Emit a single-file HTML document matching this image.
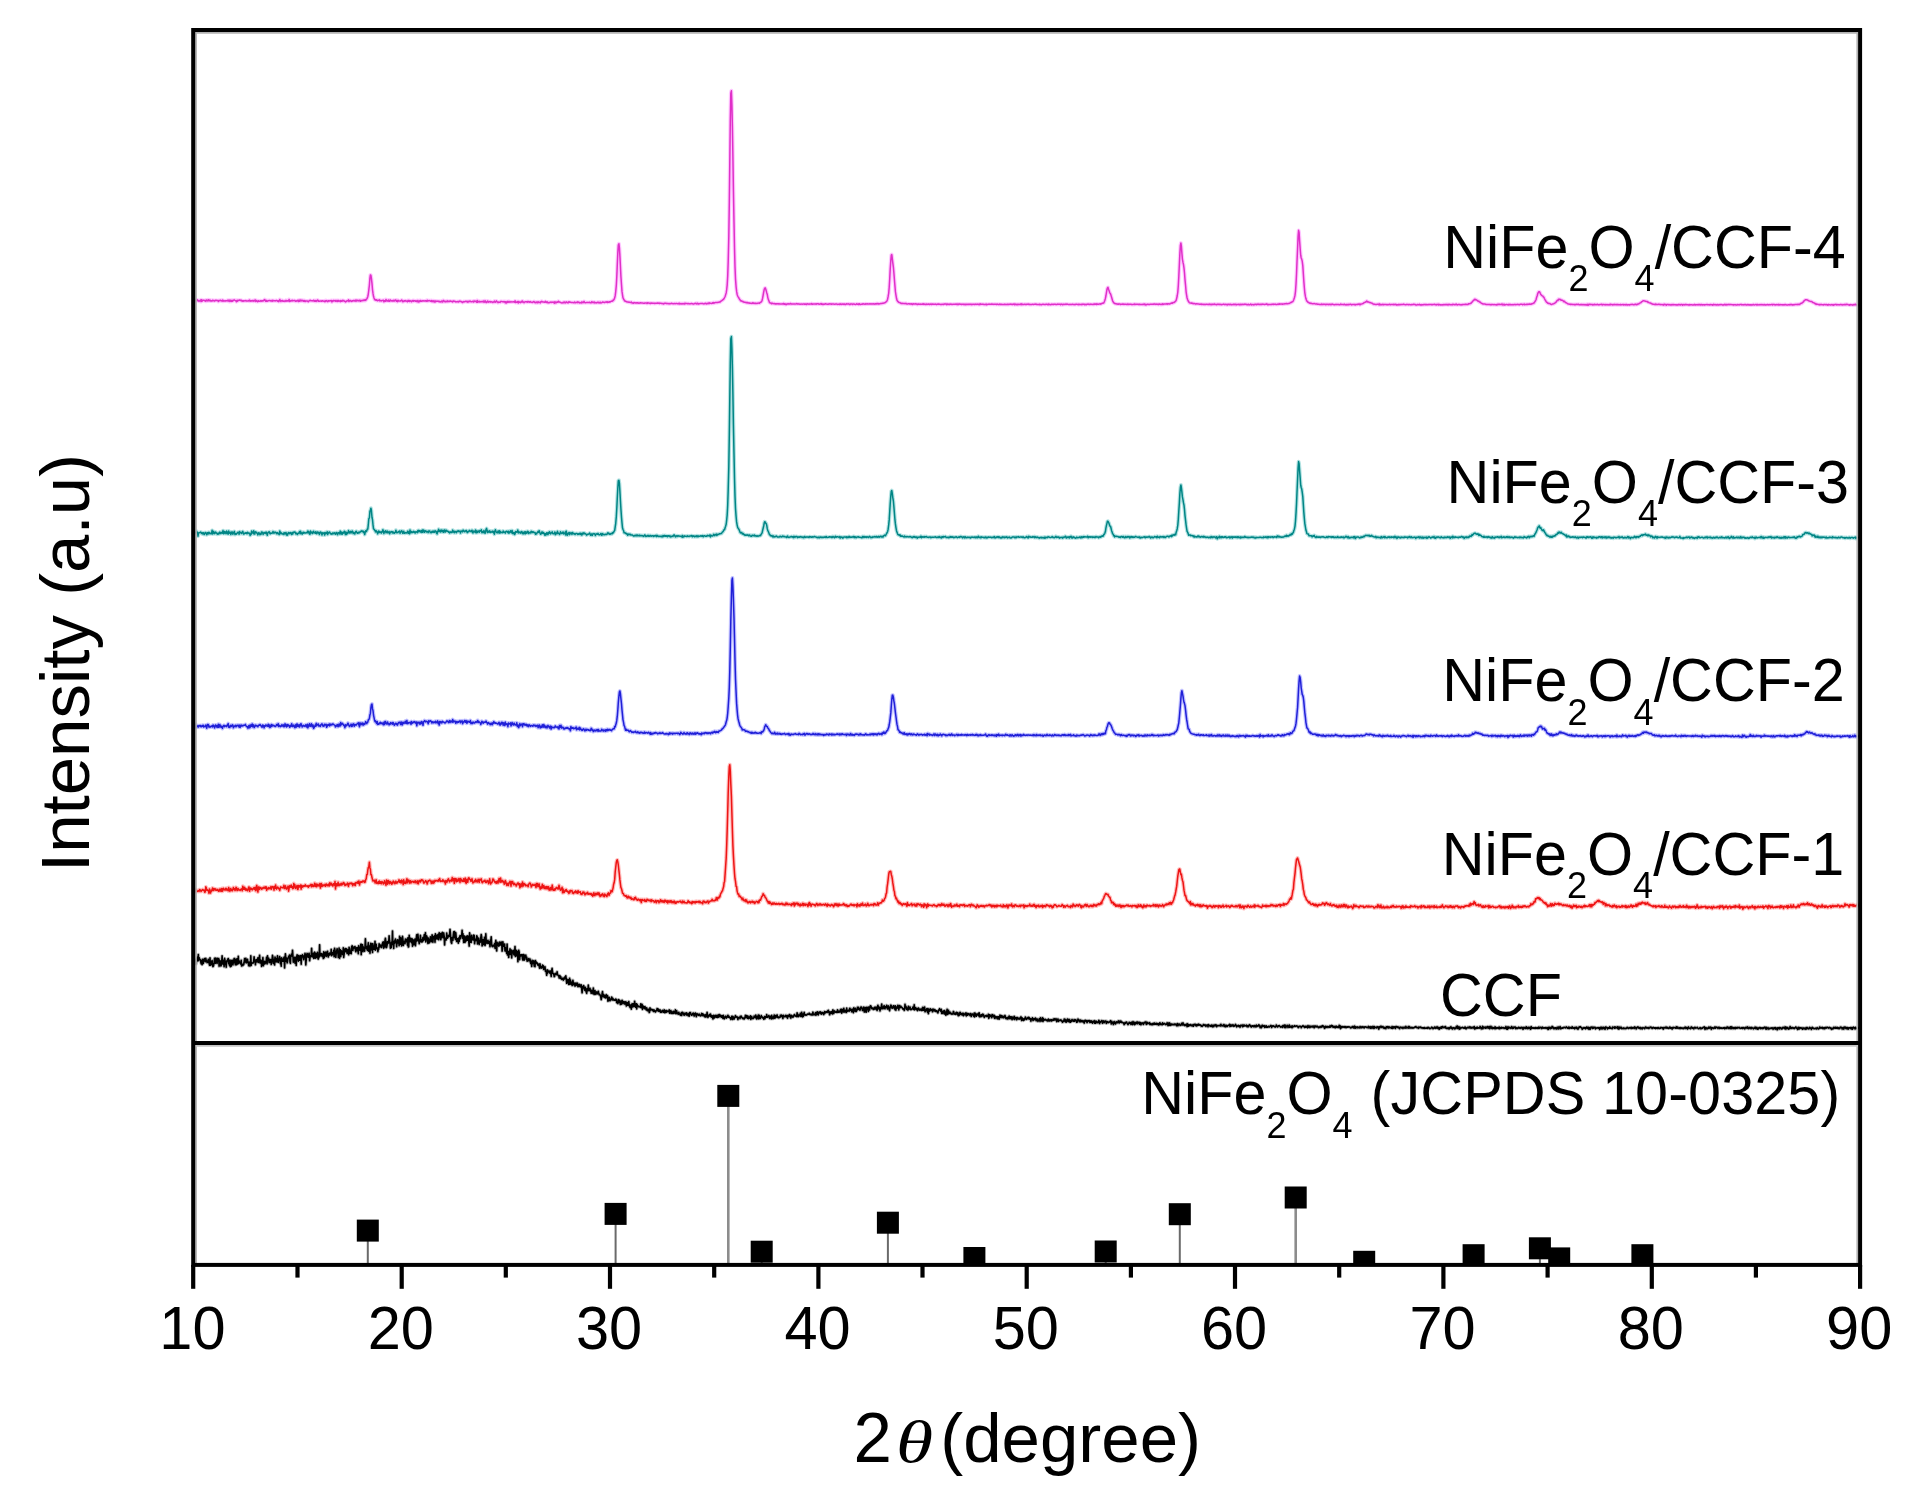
<!DOCTYPE html>
<html lang="en"><head><meta charset="utf-8"><title>XRD patterns</title>
<style>html,body{margin:0;padding:0;background:#fff}svg{display:block;filter:blur(0.6px)}</style></head>
<body>
<svg width="1922" height="1508" viewBox="0 0 1922 1508">
<rect x="0" y="0" width="1922" height="1508" fill="#fff"/>
<defs>
<polyline id="c0" points="193.3,961.0 193.7,960.3 194.1,962.4 194.6,961.0 195.0,959.3 195.4,961.7 195.8,964.2 196.2,963.3 196.6,958.9 197.1,957.3 197.5,959.1 197.9,960.9 198.3,954.5 198.7,960.2 199.1,957.5 199.6,958.9 200.0,959.4 200.4,960.0 200.8,962.0 201.2,963.7 201.6,960.6 202.1,964.6 202.5,959.2 202.9,961.9 203.3,963.4 203.7,961.3 204.1,959.0 204.6,958.6 205.0,959.8 205.4,961.7 205.8,958.4 206.2,960.5 206.6,960.7 207.1,962.6 207.5,961.7 207.9,962.1 208.3,959.4 208.7,960.9 209.1,963.3 209.6,965.2 210.0,957.9 210.4,965.3 210.8,964.9 211.2,963.4 211.6,962.0 212.1,960.5 212.5,965.3 212.9,966.6 213.3,966.2 213.7,964.9 214.1,962.4 214.6,958.2 215.0,961.5 215.4,963.3 215.8,958.1 216.2,962.6 216.6,962.7 217.1,963.4 217.5,958.4 217.9,959.8 218.3,960.5 218.7,958.5 219.1,966.3 219.6,960.4 220.0,962.6 220.4,961.0 220.8,966.0 221.2,965.3 221.6,963.5 222.1,955.9 222.5,961.9 222.9,963.6 223.3,964.5 223.7,960.2 224.1,966.7 224.6,958.4 225.0,960.1 225.4,964.4 225.8,962.1 226.2,967.3 226.6,962.5 227.1,960.3 227.5,961.0 227.9,959.1 228.3,958.6 228.7,963.7 229.1,963.6 229.6,965.5 230.0,960.1 230.4,966.6 230.8,961.3 231.2,966.3 231.6,961.0 232.1,960.2 232.5,962.8 232.9,964.9 233.3,962.6 233.7,960.6 234.1,958.6 234.6,958.5 235.0,963.5 235.4,964.8 235.8,961.8 236.2,959.4 236.6,964.6 237.1,958.8 237.5,960.3 237.9,963.9 238.3,956.3 238.7,963.3 239.1,960.7 239.6,962.6 240.0,962.1 240.4,962.8 240.8,964.1 241.2,960.2 241.6,966.0 242.1,964.2 242.5,964.5 242.9,965.4 243.3,964.4 243.7,964.5 244.1,962.5 244.6,958.5 245.0,961.9 245.4,960.2 245.8,958.4 246.2,962.9 246.6,960.7 247.1,959.5 247.5,959.4 247.9,962.9 248.3,963.1 248.7,965.7 249.1,962.1 249.6,964.9 250.0,965.9 250.4,965.2 250.8,955.8 251.2,965.4 251.6,963.0 252.1,963.2 252.5,963.0 252.9,963.0 253.3,962.9 253.7,961.0 254.1,956.9 254.6,961.7 255.0,959.8 255.4,964.8 255.8,961.1 256.2,962.1 256.6,959.6 257.1,960.5 257.5,961.8 257.9,957.8 258.3,962.5 258.7,961.4 259.1,958.5 259.6,955.3 260.0,963.0 260.4,960.8 260.8,960.2 261.2,960.9 261.6,966.4 262.1,961.4 262.5,961.7 262.9,957.5 263.3,965.8 263.7,963.8 264.1,964.2 264.6,961.4 265.0,963.7 265.4,962.3 265.8,962.9 266.2,960.8 266.6,957.2 267.1,963.9 267.5,955.9 267.9,960.4 268.3,960.5 268.7,958.2 269.1,962.6 269.6,960.4 270.0,959.7 270.4,962.2 270.8,959.5 271.2,964.5 271.6,961.7 272.1,959.4 272.5,955.4 272.9,957.1 273.3,963.5 273.7,960.4 274.1,959.7 274.6,964.9 275.0,957.0 275.4,958.8 275.8,959.1 276.2,961.9 276.6,958.5 277.1,958.6 277.5,955.9 277.9,962.1 278.3,962.3 278.7,958.8 279.1,960.5 279.6,956.5 280.0,958.7 280.4,963.7 280.8,960.3 281.2,966.1 281.6,957.7 282.1,961.3 282.5,959.2 282.9,961.2 283.3,959.6 283.7,958.1 284.1,957.2 284.6,967.9 285.0,959.3 285.4,953.9 285.8,957.6 286.2,961.2 286.6,958.0 287.1,963.0 287.5,962.0 287.9,958.8 288.3,957.9 288.7,956.4 289.1,957.2 289.6,955.0 290.0,962.3 290.4,963.3 290.8,955.5 291.2,955.6 291.6,954.0 292.1,956.1 292.5,950.2 292.9,955.5 293.3,962.2 293.7,957.7 294.1,960.9 294.6,957.2 295.0,963.3 295.4,959.0 295.8,957.3 296.2,965.4 296.6,957.4 297.1,954.9 297.5,958.8 297.9,958.1 298.3,961.1 298.7,955.5 299.1,960.3 299.6,960.3 300.0,956.1 300.4,958.4 300.8,955.6 301.2,964.3 301.6,955.8 302.1,956.5 302.5,954.7 302.9,956.7 303.3,957.6 303.7,959.7 304.1,955.8 304.6,956.9 305.0,953.4 305.4,955.0 305.8,965.0 306.2,960.1 306.6,955.0 307.1,953.4 307.5,954.4 307.9,957.0 308.3,957.1 308.7,954.9 309.1,953.3 309.6,960.8 310.0,958.1 310.4,955.7 310.8,956.1 311.2,955.2 311.6,948.4 312.1,956.9 312.5,953.5 312.9,953.6 313.3,954.6 313.7,958.4 314.1,953.0 314.6,952.2 315.0,958.0 315.4,958.2 315.8,953.4 316.2,957.6 316.6,955.1 317.1,956.7 317.5,952.3 317.9,958.1 318.3,959.1 318.7,957.5 319.1,957.2 319.6,944.9 320.0,956.2 320.4,955.4 320.8,955.0 321.2,953.5 321.6,955.4 322.1,956.4 322.5,954.4 322.9,953.8 323.3,958.5 323.7,951.8 324.1,957.8 324.6,955.3 325.0,952.5 325.4,953.9 325.8,952.0 326.2,956.5 326.6,955.5 327.1,952.9 327.5,951.2 327.9,955.2 328.3,957.0 328.7,953.9 329.1,955.3 329.6,953.0 330.0,954.2 330.4,953.1 330.8,954.7 331.2,949.4 331.6,955.6 332.1,953.0 332.5,954.6 332.9,952.5 333.3,954.4 333.7,950.3 334.1,956.7 334.6,948.3 335.0,950.2 335.4,953.8 335.8,957.3 336.2,953.8 336.6,952.2 337.1,948.7 337.5,952.2 337.9,952.6 338.3,957.5 338.7,954.3 339.1,948.0 339.6,958.3 340.0,951.2 340.4,949.7 340.8,956.5 341.2,951.9 341.6,950.9 342.1,952.6 342.5,954.3 342.9,954.7 343.3,947.7 343.7,957.5 344.1,954.3 344.6,950.4 345.0,949.0 345.4,948.5 345.8,951.6 346.2,949.3 346.6,948.9 347.1,953.4 347.5,952.0 347.9,949.7 348.3,953.0 348.7,954.8 349.1,947.4 349.6,948.8 350.0,953.3 350.4,952.6 350.8,951.0 351.2,953.7 351.6,947.0 352.1,945.8 352.5,947.5 352.9,950.4 353.3,947.6 353.7,948.4 354.1,946.9 354.6,947.8 355.0,946.6 355.4,950.6 355.8,951.8 356.2,948.0 356.6,948.7 357.1,947.5 357.5,950.8 357.9,949.4 358.3,953.8 358.7,945.7 359.1,949.9 359.6,950.1 360.0,947.6 360.4,950.4 360.8,944.2 361.2,954.8 361.6,944.4 362.1,951.1 362.5,944.9 362.9,951.6 363.3,946.9 363.7,948.5 364.1,948.1 364.6,951.2 365.0,946.8 365.4,938.8 365.8,945.4 366.2,948.1 366.6,946.2 367.1,949.8 367.5,950.4 367.9,946.8 368.3,942.7 368.7,951.3 369.1,950.4 369.6,946.1 370.0,953.3 370.4,945.8 370.8,943.3 371.2,946.2 371.6,949.9 372.1,943.7 372.5,952.4 372.9,943.7 373.3,949.2 373.7,947.9 374.1,945.7 374.6,949.4 375.0,941.4 375.4,950.1 375.8,945.7 376.2,944.2 376.6,948.1 377.1,948.9 377.5,948.0 377.9,951.7 378.3,948.8 378.7,949.3 379.1,943.7 379.6,945.6 380.0,946.9 380.4,945.1 380.8,946.0 381.2,946.3 381.6,947.5 382.1,944.5 382.5,943.7 382.9,942.1 383.3,941.9 383.7,948.2 384.1,944.2 384.6,946.9 385.0,940.3 385.4,938.3 385.8,941.0 386.2,947.7 386.6,947.4 387.1,945.1 387.5,941.5 387.9,943.5 388.3,942.9 388.7,942.7 389.1,935.9 389.6,941.0 390.0,943.0 390.4,948.2 390.8,943.9 391.2,947.8 391.6,942.1 392.1,942.5 392.5,931.0 392.9,944.6 393.3,944.8 393.7,948.5 394.1,941.4 394.6,943.2 395.0,940.6 395.4,939.0 395.8,940.4 396.2,941.5 396.6,946.8 397.1,942.5 397.5,939.9 397.9,942.8 398.3,943.0 398.7,940.1 399.1,945.8 399.6,936.2 400.0,941.4 400.4,944.1 400.8,937.7 401.2,943.0 401.6,945.9 402.1,943.2 402.5,936.4 402.9,939.3 403.3,945.5 403.7,942.5 404.2,941.4 404.6,942.8 405.0,943.6 405.4,939.0 405.8,940.3 406.2,941.6 406.7,939.4 407.1,940.6 407.5,945.1 407.9,937.9 408.3,947.0 408.7,946.8 409.2,935.3 409.6,940.3 410.0,941.8 410.4,938.2 410.8,938.2 411.2,939.8 411.7,942.8 412.1,938.8 412.5,946.2 412.9,941.2 413.3,939.9 413.7,944.8 414.2,942.1 414.6,941.3 415.0,939.0 415.4,945.8 415.8,942.5 416.2,939.2 416.7,934.8 417.1,941.0 417.5,936.1 417.9,934.2 418.3,938.7 418.7,940.5 419.2,943.7 419.6,940.4 420.0,942.0 420.4,935.4 420.8,939.3 421.2,939.7 421.7,942.0 422.1,939.6 422.5,941.7 422.9,937.5 423.3,940.2 423.7,940.4 424.2,934.9 424.6,939.5 425.0,937.8 425.4,932.7 425.8,941.9 426.2,937.6 426.7,935.9 427.1,937.4 427.5,939.1 427.9,943.5 428.3,938.0 428.7,940.0 429.2,942.9 429.6,940.2 430.0,941.9 430.4,936.8 430.8,940.8 431.2,938.1 431.7,941.7 432.1,934.9 432.5,935.6 432.9,942.3 433.3,937.5 433.7,936.9 434.2,938.3 434.6,935.8 435.0,942.3 435.4,933.9 435.8,937.4 436.2,939.0 436.7,937.5 437.1,935.2 437.5,935.0 437.9,939.2 438.3,934.4 438.7,939.8 439.2,932.7 439.6,935.9 440.0,937.8 440.4,933.5 440.8,939.7 441.2,937.5 441.7,934.2 442.1,932.6 442.5,932.4 442.9,937.7 443.3,933.7 443.7,933.0 444.2,936.7 444.6,944.9 445.0,938.3 445.4,939.9 445.8,938.1 446.2,939.9 446.7,933.0 447.1,936.0 447.5,938.2 447.9,937.3 448.3,936.7 448.7,935.2 449.2,936.5 449.6,934.8 450.0,929.4 450.4,933.4 450.8,938.9 451.2,942.4 451.7,943.3 452.1,937.6 452.5,940.2 452.9,940.3 453.3,935.1 453.7,931.8 454.2,937.4 454.6,931.6 455.0,936.3 455.4,939.4 455.8,932.7 456.2,937.5 456.7,941.5 457.1,938.6 457.5,939.1 457.9,940.4 458.3,943.1 458.7,938.0 459.2,941.5 459.6,937.3 460.0,935.8 460.4,938.6 460.8,935.6 461.2,935.8 461.7,935.7 462.1,930.2 462.5,938.1 462.9,933.6 463.3,937.4 463.7,942.5 464.2,936.1 464.6,936.1 465.0,942.4 465.4,939.7 465.8,941.2 466.2,936.9 466.7,940.5 467.1,935.9 467.5,936.0 467.9,940.2 468.3,936.3 468.7,940.8 469.2,946.1 469.6,932.9 470.0,936.0 470.4,942.2 470.8,938.1 471.2,942.4 471.7,935.4 472.1,939.8 472.5,938.3 472.9,939.3 473.3,940.0 473.7,935.1 474.2,935.6 474.6,943.7 475.0,940.2 475.4,939.6 475.8,939.2 476.2,940.6 476.7,935.8 477.1,936.4 477.5,943.9 477.9,940.3 478.3,942.6 478.7,938.0 479.2,944.5 479.6,941.2 480.0,941.8 480.4,942.1 480.8,937.9 481.2,934.5 481.7,937.2 482.1,945.9 482.5,944.9 482.9,939.8 483.3,940.0 483.7,944.4 484.2,940.7 484.6,937.2 485.0,945.5 485.4,943.1 485.8,933.7 486.2,940.8 486.7,942.3 487.1,943.5 487.5,942.6 487.9,940.2 488.3,942.0 488.7,943.4 489.2,941.8 489.6,941.6 490.0,946.8 490.4,940.1 490.8,942.1 491.2,936.9 491.7,945.1 492.1,946.2 492.5,945.4 492.9,946.7 493.3,945.4 493.7,945.2 494.2,945.8 494.6,943.6 495.0,948.3 495.4,943.7 495.8,940.4 496.2,947.7 496.7,950.9 497.1,942.4 497.5,945.2 497.9,943.6 498.3,944.7 498.7,946.1 499.2,942.4 499.6,945.5 500.0,942.0 500.4,944.9 500.8,943.2 501.2,943.8 501.7,942.0 502.1,951.1 502.5,949.1 502.9,941.9 503.3,946.1 503.7,946.0 504.2,946.2 504.6,944.1 505.0,950.9 505.4,947.6 505.8,950.4 506.2,950.7 506.7,953.4 507.1,944.1 507.5,954.9 507.9,953.7 508.3,951.8 508.7,957.4 509.2,951.1 509.6,953.1 510.0,948.7 510.4,954.4 510.8,951.8 511.2,950.1 511.7,957.9 512.1,951.0 512.5,952.1 512.9,951.7 513.3,950.3 513.7,954.2 514.2,955.0 514.6,954.1 515.0,946.5 515.4,956.4 515.8,952.7 516.2,950.4 516.7,955.8 517.1,955.9 517.5,951.5 517.9,961.8 518.3,951.5 518.7,950.2 519.2,952.1 519.6,959.6 520.0,955.3 520.4,954.9 520.8,956.0 521.2,954.7 521.7,954.7 522.1,955.0 522.5,959.0 522.9,960.1 523.3,954.5 523.7,958.3 524.2,960.1 524.6,955.1 525.0,956.9 525.4,955.7 525.8,955.2 526.2,959.3 526.7,957.2 527.1,961.1 527.5,959.5 527.9,961.0 528.3,959.3 528.7,958.6 529.2,960.2 529.6,960.7 530.0,959.0 530.4,962.3 530.8,963.4 531.2,962.0 531.7,966.4 532.1,960.3 532.5,963.6 532.9,961.4 533.3,963.3 533.7,960.7 534.2,966.1 534.6,963.8 535.0,966.7 535.4,960.5 535.8,962.7 536.2,961.9 536.7,963.1 537.1,962.9 537.5,964.6 537.9,965.1 538.3,965.2 538.7,964.1 539.2,966.3 539.6,968.2 540.0,963.9 540.4,966.5 540.8,966.5 541.2,968.1 541.7,967.0 542.1,967.3 542.5,965.1 542.9,967.8 543.3,965.7 543.7,969.5 544.2,968.2 544.6,968.8 545.0,966.7 545.4,971.1 545.8,971.1 546.2,971.7 546.7,975.3 547.1,969.9 547.5,973.2 547.9,970.2 548.3,971.7 548.7,971.8 549.2,971.8 549.6,973.0 550.0,970.9 550.4,971.9 550.8,973.3 551.2,976.5 551.7,970.5 552.1,968.4 552.5,971.8 552.9,973.4 553.3,973.8 553.7,973.8 554.2,976.6 554.6,976.3 555.0,974.2 555.4,973.4 555.8,973.9 556.2,974.1 556.7,974.6 557.1,971.7 557.5,974.5 557.9,974.8 558.3,975.6 558.7,975.7 559.2,978.0 559.6,975.5 560.0,975.9 560.4,978.4 560.8,976.8 561.2,978.1 561.7,979.3 562.1,979.0 562.5,978.8 562.9,978.0 563.3,980.2 563.7,979.3 564.2,978.0 564.6,979.0 565.0,976.9 565.4,977.7 565.8,975.9 566.2,978.7 566.7,983.3 567.1,979.4 567.5,982.5 567.9,981.0 568.3,979.8 568.7,984.4 569.2,982.9 569.6,978.2 570.0,984.3 570.4,980.0 570.8,982.2 571.2,984.2 571.7,982.3 572.1,985.5 572.5,985.0 572.9,980.3 573.3,982.8 573.7,984.6 574.2,983.0 574.6,983.9 575.0,986.2 575.4,985.4 575.8,983.1 576.2,985.5 576.7,984.1 577.1,983.1 577.5,983.5 577.9,986.6 578.3,986.1 578.7,986.4 579.2,984.3 579.6,986.4 580.0,984.9 580.4,985.3 580.8,987.0 581.2,984.8 581.7,989.0 582.1,992.8 582.5,989.0 582.9,986.2 583.3,987.9 583.7,985.6 584.2,988.1 584.6,990.0 585.0,990.3 585.4,987.4 585.8,990.1 586.2,992.0 586.7,993.3 587.1,988.8 587.5,988.7 587.9,990.6 588.3,985.1 588.7,989.8 589.2,990.5 589.6,990.3 590.0,988.4 590.4,991.1 590.8,990.2 591.2,993.3 591.7,990.3 592.1,991.7 592.5,991.9 592.9,993.6 593.3,988.0 593.7,992.2 594.2,994.4 594.6,992.5 595.0,990.6 595.4,994.1 595.8,994.3 596.2,993.4 596.7,991.9 597.1,992.8 597.5,993.8 597.9,992.9 598.3,991.2 598.7,993.4 599.2,994.8 599.6,994.2 600.0,995.1 600.4,995.6 600.8,997.1 601.2,999.6 601.7,997.1 602.1,993.6 602.5,991.6 602.9,996.2 603.3,996.6 603.7,994.6 604.2,997.2 604.6,995.6 605.0,997.7 605.4,996.7 605.8,998.0 606.2,994.6 606.7,996.9 607.1,997.5 607.5,995.6 607.9,1001.2 608.3,997.3 608.7,1000.7 609.2,997.4 609.6,998.3 610.0,1000.7 610.4,999.4 610.8,999.4 611.3,999.6 611.7,997.1 612.1,998.8 612.5,998.1 612.9,1000.1 613.3,999.0 613.8,999.9 614.2,1000.0 614.6,1000.2 615.0,1000.3 615.4,999.5 615.8,999.0 616.3,999.7 616.7,1002.6 617.1,1001.6 617.5,1002.1 617.9,1003.5 618.3,999.6 618.8,1002.3 619.2,1000.0 619.6,1001.3 620.0,1002.7 620.4,1004.5 620.8,1001.0 621.3,1002.1 621.7,1004.2 622.1,1000.2 622.5,1003.2 622.9,1002.3 623.3,1001.5 623.8,1003.2 624.2,1004.0 624.6,1001.8 625.0,1003.9 625.4,1003.7 625.8,1001.7 626.3,1006.0 626.7,1005.4 627.1,1002.6 627.5,1003.1 627.9,1005.2 628.3,1003.5 628.8,1001.6 629.2,1006.0 629.6,1004.6 630.0,1007.4 630.4,1005.3 630.8,1005.1 631.3,1009.1 631.7,1004.8 632.1,1003.8 632.5,1005.6 632.9,1007.0 633.3,1003.8 633.8,1004.3 634.2,1006.3 634.6,1001.2 635.0,1004.3 635.4,1007.1 635.8,1005.2 636.3,1003.8 636.7,1008.9 637.1,1004.3 637.5,1005.7 637.9,1006.0 638.3,1006.7 638.8,1006.2 639.2,1006.7 639.6,1006.9 640.0,1006.8 640.4,1007.2 640.8,1003.9 641.3,1007.8 641.7,1005.4 642.1,1004.4 642.5,1009.4 642.9,1005.8 643.3,1007.9 643.8,1006.7 644.2,1006.9 644.6,1008.6 645.0,1006.6 645.4,1008.6 645.8,1008.7 646.3,1009.8 646.7,1007.9 647.1,1009.8 647.5,1010.8 647.9,1010.7 648.3,1009.4 648.8,1009.3 649.2,1012.5 649.6,1011.8 650.0,1007.9 650.4,1010.2 650.8,1009.9 651.3,1009.3 651.7,1009.4 652.1,1009.9 652.5,1010.6 652.9,1009.7 653.3,1010.0 653.8,1011.4 654.2,1010.1 654.6,1010.4 655.0,1011.1 655.4,1012.0 655.8,1011.5 656.3,1010.5 656.7,1010.4 657.1,1008.6 657.5,1010.6 657.9,1009.0 658.3,1009.1 658.8,1011.3 659.2,1010.4 659.6,1011.2 660.0,1009.8 660.4,1012.2 660.8,1010.9 661.3,1012.3 661.7,1011.7 662.1,1011.2 662.5,1010.4 662.9,1011.1 663.3,1012.2 663.8,1012.1 664.2,1009.8 664.6,1012.6 665.0,1011.1 665.4,1012.5 665.8,1010.6 666.3,1012.3 666.7,1010.6 667.1,1011.8 667.5,1011.4 667.9,1011.4 668.3,1011.2 668.8,1011.7 669.2,1009.9 669.6,1013.1 670.0,1013.2 670.4,1011.6 670.8,1010.5 671.3,1011.5 671.7,1013.4 672.1,1013.1 672.5,1012.0 672.9,1013.5 673.3,1011.3 673.8,1011.8 674.2,1013.2 674.6,1012.5 675.0,1012.0 675.4,1009.8 675.8,1013.6 676.3,1013.2 676.7,1010.8 677.1,1013.7 677.5,1013.0 677.9,1013.4 678.3,1014.2 678.8,1012.3 679.2,1014.0 679.6,1014.0 680.0,1014.2 680.4,1015.2 680.8,1014.1 681.3,1012.7 681.7,1015.5 682.1,1012.2 682.5,1013.0 682.9,1012.5 683.3,1013.5 683.8,1014.9 684.2,1015.2 684.6,1014.3 685.0,1013.1 685.4,1013.2 685.8,1013.2 686.3,1015.0 686.7,1012.9 687.1,1015.0 687.5,1014.0 687.9,1014.3 688.3,1015.8 688.8,1013.6 689.2,1016.1 689.6,1012.6 690.0,1013.3 690.4,1012.5 690.8,1013.5 691.3,1015.0 691.7,1015.2 692.1,1014.8 692.5,1014.8 692.9,1013.2 693.3,1013.1 693.8,1014.9 694.2,1016.1 694.6,1014.3 695.0,1013.3 695.4,1013.0 695.8,1014.0 696.3,1016.6 696.7,1014.6 697.1,1013.7 697.5,1014.2 697.9,1014.4 698.3,1015.3 698.8,1014.3 699.2,1014.1 699.6,1014.9 700.0,1015.6 700.4,1015.9 700.8,1015.8 701.3,1014.7 701.7,1013.4 702.1,1014.4 702.5,1015.6 702.9,1013.9 703.3,1015.7 703.8,1014.8 704.2,1014.8 704.6,1016.7 705.0,1015.7 705.4,1017.0 705.8,1014.6 706.3,1016.8 706.7,1016.6 707.1,1012.4 707.5,1015.6 707.9,1017.4 708.3,1016.6 708.8,1015.3 709.2,1015.6 709.6,1014.5 710.0,1016.1 710.4,1014.0 710.8,1014.9 711.3,1017.2 711.7,1016.0 712.1,1015.7 712.5,1016.0 712.9,1019.0 713.3,1017.2 713.8,1015.3 714.2,1018.0 714.6,1016.1 715.0,1017.0 715.4,1015.7 715.8,1015.3 716.3,1017.2 716.7,1015.5 717.1,1015.6 717.5,1017.4 717.9,1015.2 718.3,1015.0 718.8,1017.1 719.2,1014.5 719.6,1015.8 720.0,1016.2 720.4,1015.2 720.8,1015.4 721.3,1017.3 721.7,1017.0 722.1,1015.7 722.5,1017.3 722.9,1018.3 723.3,1015.4 723.8,1016.8 724.2,1018.9 724.6,1017.5 725.0,1017.7 725.4,1016.7 725.8,1016.1 726.3,1018.1 726.7,1017.6 727.1,1016.9 727.5,1016.5 727.9,1015.2 728.3,1017.2 728.8,1016.3 729.2,1016.9 729.6,1017.7 730.0,1017.9 730.4,1017.8 730.8,1019.4 731.3,1018.3 731.7,1016.4 732.1,1016.3 732.5,1019.5 732.9,1016.5 733.3,1017.1 733.8,1019.0 734.2,1019.0 734.6,1017.2 735.0,1017.5 735.4,1015.6 735.8,1016.3 736.3,1016.9 736.7,1017.3 737.1,1016.9 737.5,1017.4 737.9,1019.5 738.3,1017.8 738.8,1017.6 739.2,1017.3 739.6,1017.1 740.0,1018.6 740.4,1016.3 740.8,1017.2 741.3,1016.2 741.7,1017.4 742.1,1017.5 742.5,1018.3 742.9,1018.6 743.3,1018.0 743.8,1019.0 744.2,1019.0 744.6,1017.7 745.0,1017.7 745.4,1015.4 745.8,1017.7 746.3,1017.3 746.7,1015.6 747.1,1016.9 747.5,1018.3 747.9,1016.1 748.3,1018.7 748.8,1017.8 749.2,1017.1 749.6,1017.2 750.0,1018.2 750.4,1015.9 750.8,1019.4 751.3,1016.5 751.7,1016.5 752.1,1018.5 752.5,1018.1 752.9,1018.6 753.3,1018.3 753.8,1017.7 754.2,1016.0 754.6,1016.8 755.0,1017.5 755.4,1017.2 755.8,1015.1 756.3,1018.3 756.7,1019.0 757.1,1018.7 757.5,1016.2 757.9,1017.6 758.3,1015.0 758.8,1018.9 759.2,1015.2 759.6,1017.6 760.0,1018.3 760.4,1018.5 760.8,1017.5 761.3,1015.6 761.7,1017.0 762.1,1016.8 762.5,1017.4 762.9,1018.1 763.3,1017.7 763.8,1019.2 764.2,1017.7 764.6,1016.6 765.0,1018.7 765.4,1016.7 765.8,1017.3 766.3,1017.1 766.7,1014.6 767.1,1017.2 767.5,1017.2 767.9,1016.7 768.3,1016.7 768.8,1015.5 769.2,1016.9 769.6,1018.4 770.0,1016.7 770.4,1016.3 770.8,1016.2 771.3,1018.9 771.7,1015.4 772.1,1017.6 772.5,1016.9 772.9,1018.7 773.3,1018.1 773.8,1016.6 774.2,1015.1 774.6,1018.2 775.0,1018.2 775.4,1015.5 775.8,1017.4 776.3,1015.8 776.7,1015.8 777.1,1014.9 777.5,1017.5 777.9,1016.8 778.3,1017.0 778.8,1018.0 779.2,1017.2 779.6,1017.1 780.0,1017.2 780.4,1015.3 780.8,1016.4 781.3,1015.1 781.7,1015.4 782.1,1016.3 782.5,1017.5 782.9,1018.5 783.3,1015.2 783.8,1016.5 784.2,1016.2 784.6,1016.8 785.0,1016.8 785.4,1016.6 785.8,1015.2 786.3,1016.6 786.7,1017.1 787.1,1015.6 787.5,1018.2 787.9,1015.8 788.3,1015.4 788.8,1016.3 789.2,1015.7 789.6,1014.5 790.0,1015.9 790.4,1017.6 790.8,1018.1 791.3,1015.3 791.7,1016.8 792.1,1016.0 792.5,1016.1 792.9,1017.2 793.3,1016.7 793.8,1015.9 794.2,1014.7 794.6,1014.5 795.0,1015.6 795.4,1016.0 795.8,1016.1 796.3,1016.4 796.7,1016.6 797.1,1012.9 797.5,1016.5 797.9,1014.3 798.3,1016.6 798.8,1015.8 799.2,1016.0 799.6,1014.7 800.0,1015.6 800.4,1013.2 800.8,1016.4 801.3,1014.8 801.7,1012.3 802.1,1016.3 802.5,1016.9 802.9,1014.1 803.3,1016.4 803.8,1014.1 804.2,1012.4 804.6,1014.5 805.0,1015.2 805.4,1015.0 805.8,1014.9 806.3,1015.1 806.7,1015.0 807.1,1014.4 807.5,1014.0 807.9,1014.3 808.3,1014.2 808.8,1014.2 809.2,1013.2 809.6,1013.8 810.0,1014.5 810.4,1014.7 810.8,1014.2 811.3,1014.1 811.7,1014.8 812.1,1015.1 812.5,1014.9 812.9,1012.1 813.3,1013.5 813.8,1014.8 814.2,1014.5 814.6,1014.7 815.0,1014.2 815.4,1012.8 815.8,1015.2 816.3,1012.2 816.7,1014.8 817.1,1013.6 817.5,1011.9 817.9,1013.1 818.3,1014.9 818.8,1012.8 819.2,1012.0 819.6,1013.0 820.0,1012.3 820.4,1011.8 820.9,1013.7 821.3,1014.1 821.7,1012.5 822.1,1013.7 822.5,1012.5 822.9,1012.8 823.4,1013.1 823.8,1014.6 824.2,1013.4 824.6,1011.6 825.0,1013.3 825.4,1012.4 825.9,1012.1 826.3,1011.6 826.7,1012.5 827.1,1012.4 827.5,1011.9 827.9,1010.7 828.4,1010.3 828.8,1012.4 829.2,1012.4 829.6,1014.8 830.0,1011.9 830.4,1013.3 830.9,1013.5 831.3,1011.9 831.7,1012.0 832.1,1011.3 832.5,1014.0 832.9,1009.9 833.4,1011.7 833.8,1013.4 834.2,1011.5 834.6,1010.9 835.0,1011.8 835.4,1012.1 835.9,1012.1 836.3,1011.7 836.7,1012.3 837.1,1012.5 837.5,1009.9 837.9,1010.7 838.4,1012.2 838.8,1011.7 839.2,1011.3 839.6,1011.8 840.0,1012.1 840.4,1009.8 840.9,1009.3 841.3,1009.4 841.7,1013.1 842.1,1009.4 842.5,1010.4 842.9,1010.4 843.4,1011.9 843.8,1008.3 844.2,1010.5 844.6,1012.0 845.0,1011.8 845.4,1010.9 845.9,1010.0 846.3,1012.5 846.7,1008.1 847.1,1011.5 847.5,1010.8 847.9,1010.9 848.4,1010.4 848.8,1010.3 849.2,1011.2 849.6,1008.5 850.0,1008.3 850.4,1010.1 850.9,1009.9 851.3,1010.0 851.7,1011.8 852.1,1009.0 852.5,1010.7 852.9,1010.1 853.4,1012.7 853.8,1007.8 854.2,1008.8 854.6,1008.9 855.0,1011.2 855.4,1008.4 855.9,1011.5 856.3,1011.4 856.7,1010.4 857.1,1009.9 857.5,1007.2 857.9,1009.5 858.4,1007.3 858.8,1008.7 859.2,1009.4 859.6,1008.7 860.0,1010.3 860.4,1008.9 860.9,1007.0 861.3,1007.6 861.7,1007.2 862.1,1008.5 862.5,1010.5 862.9,1009.5 863.4,1009.3 863.8,1007.1 864.2,1011.9 864.6,1008.7 865.0,1011.9 865.4,1007.5 865.9,1007.9 866.3,1012.1 866.7,1007.2 867.1,1009.1 867.5,1008.1 867.9,1007.4 868.4,1011.4 868.8,1007.1 869.2,1009.6 869.6,1009.9 870.0,1007.0 870.4,1005.8 870.9,1006.0 871.3,1007.3 871.7,1008.6 872.1,1008.7 872.5,1008.0 872.9,1008.1 873.4,1009.5 873.8,1009.2 874.2,1008.7 874.6,1007.3 875.0,1009.2 875.4,1008.4 875.9,1007.1 876.3,1007.3 876.7,1009.7 877.1,1010.5 877.5,1007.3 877.9,1005.2 878.4,1008.8 878.8,1006.8 879.2,1009.0 879.6,1007.5 880.0,1011.0 880.4,1008.1 880.9,1009.2 881.3,1006.3 881.7,1004.1 882.1,1008.1 882.5,1008.3 882.9,1008.9 883.4,1007.1 883.8,1006.1 884.2,1005.7 884.6,1008.6 885.0,1008.8 885.4,1006.7 885.9,1007.1 886.3,1006.9 886.7,1005.3 887.1,1008.1 887.5,1009.0 887.9,1007.5 888.4,1005.9 888.8,1007.6 889.2,1009.7 889.6,1010.7 890.0,1008.2 890.4,1006.8 890.9,1005.1 891.3,1005.7 891.7,1007.7 892.1,1008.1 892.5,1008.2 892.9,1007.5 893.4,1005.8 893.8,1005.7 894.2,1008.1 894.6,1006.8 895.0,1009.6 895.4,1005.9 895.9,1010.2 896.3,1007.0 896.7,1008.2 897.1,1008.2 897.5,1007.5 897.9,1005.2 898.4,1007.3 898.8,1010.0 899.2,1006.3 899.6,1005.5 900.0,1007.7 900.4,1007.5 900.9,1006.3 901.3,1007.0 901.7,1007.4 902.1,1007.5 902.5,1008.3 902.9,1009.1 903.4,1008.7 903.8,1008.6 904.2,1010.4 904.6,1009.7 905.0,1004.3 905.4,1007.8 905.9,1006.2 906.3,1007.4 906.7,1009.4 907.1,1008.1 907.5,1007.8 907.9,1010.2 908.4,1006.4 908.8,1008.3 909.2,1009.2 909.6,1008.5 910.0,1007.0 910.4,1008.5 910.9,1009.7 911.3,1009.1 911.7,1009.1 912.1,1009.1 912.5,1008.9 912.9,1007.1 913.4,1008.3 913.8,1009.4 914.2,1004.7 914.6,1009.9 915.0,1009.3 915.4,1007.5 915.9,1008.0 916.3,1008.7 916.7,1009.6 917.1,1008.6 917.5,1010.6 917.9,1009.7 918.4,1008.1 918.8,1008.6 919.2,1009.5 919.6,1010.2 920.0,1010.2 920.4,1009.2 920.9,1009.6 921.3,1009.4 921.7,1010.5 922.1,1008.2 922.5,1010.3 922.9,1007.2 923.4,1010.2 923.8,1010.0 924.2,1009.7 924.6,1007.0 925.0,1011.8 925.4,1011.0 925.9,1009.9 926.3,1010.5 926.7,1008.8 927.1,1010.7 927.5,1012.1 927.9,1008.6 928.4,1013.6 928.8,1009.6 929.2,1011.3 929.6,1009.2 930.0,1010.8 930.4,1008.8 930.9,1009.6 931.3,1010.2 931.7,1009.7 932.1,1010.3 932.5,1011.8 932.9,1009.1 933.4,1009.2 933.8,1010.8 934.2,1010.1 934.6,1009.6 935.0,1011.1 935.4,1010.2 935.9,1011.4 936.3,1011.0 936.7,1010.8 937.1,1011.1 937.5,1012.5 937.9,1012.9 938.4,1011.1 938.8,1010.1 939.2,1009.5 939.6,1008.7 940.0,1010.0 940.4,1010.5 940.9,1011.5 941.3,1009.3 941.7,1013.4 942.1,1013.0 942.5,1013.3 942.9,1011.2 943.4,1012.2 943.8,1010.8 944.2,1013.9 944.6,1010.6 945.0,1011.5 945.4,1013.9 945.9,1015.2 946.3,1012.1 946.7,1011.8 947.1,1009.3 947.5,1014.4 947.9,1012.8 948.4,1010.2 948.8,1013.6 949.2,1013.3 949.6,1012.2 950.0,1012.0 950.4,1013.6 950.9,1013.0 951.3,1013.4 951.7,1014.3 952.1,1014.3 952.5,1013.8 952.9,1013.7 953.4,1011.5 953.8,1011.8 954.2,1014.1 954.6,1013.9 955.0,1013.8 955.4,1014.3 955.9,1012.7 956.3,1014.0 956.7,1012.3 957.1,1013.5 957.5,1014.6 957.9,1012.8 958.4,1015.8 958.8,1014.9 959.2,1015.3 959.6,1013.5 960.0,1012.2 960.4,1013.0 960.9,1014.5 961.3,1013.6 961.7,1014.8 962.1,1014.1 962.5,1013.3 962.9,1015.1 963.4,1015.6 963.8,1013.3 964.2,1014.8 964.6,1014.4 965.0,1014.6 965.4,1014.2 965.9,1012.9 966.3,1016.0 966.7,1013.2 967.1,1013.5 967.5,1015.2 967.9,1014.7 968.4,1013.7 968.8,1013.9 969.2,1014.5 969.6,1014.2 970.0,1015.5 970.4,1013.5 970.9,1015.2 971.3,1016.5 971.7,1015.1 972.1,1013.9 972.5,1014.2 972.9,1015.0 973.4,1014.3 973.8,1016.4 974.2,1013.1 974.6,1016.9 975.0,1013.0 975.4,1015.2 975.9,1014.1 976.3,1016.2 976.7,1014.5 977.1,1014.1 977.5,1015.0 977.9,1015.0 978.4,1013.4 978.8,1016.0 979.2,1012.9 979.6,1016.8 980.0,1015.3 980.4,1016.7 980.9,1015.0 981.3,1014.9 981.7,1016.5 982.1,1015.2 982.5,1014.2 982.9,1015.8 983.4,1014.4 983.8,1015.9 984.2,1017.4 984.6,1017.0 985.0,1016.0 985.4,1015.9 985.9,1015.8 986.3,1015.4 986.7,1016.5 987.1,1016.0 987.5,1015.8 987.9,1016.5 988.4,1014.2 988.8,1018.4 989.2,1017.0 989.6,1014.9 990.0,1016.6 990.4,1015.3 990.9,1015.9 991.3,1015.6 991.7,1017.7 992.1,1014.6 992.5,1016.3 992.9,1014.9 993.4,1016.7 993.8,1016.4 994.2,1015.3 994.6,1018.3 995.0,1018.4 995.4,1016.3 995.9,1017.4 996.3,1016.8 996.7,1017.2 997.1,1018.6 997.5,1016.7 997.9,1018.9 998.4,1016.8 998.8,1017.0 999.2,1019.1 999.6,1017.5 1000.0,1015.1 1000.4,1017.5 1000.9,1016.0 1001.3,1015.6 1001.7,1016.4 1002.1,1017.7 1002.5,1016.3 1002.9,1016.0 1003.4,1017.1 1003.8,1017.9 1004.2,1016.8 1004.6,1016.2 1005.0,1015.4 1005.4,1016.8 1005.9,1018.5 1006.3,1018.7 1006.7,1018.5 1007.1,1017.6 1007.5,1017.9 1007.9,1019.1 1008.4,1017.0 1008.8,1018.2 1009.2,1016.0 1009.6,1018.6 1010.0,1017.5 1010.4,1016.8 1010.9,1018.8 1011.3,1016.9 1011.7,1017.2 1012.1,1019.6 1012.5,1017.1 1012.9,1017.5 1013.4,1017.5 1013.8,1019.0 1014.2,1016.4 1014.6,1019.5 1015.0,1018.0 1015.4,1018.0 1015.9,1017.4 1016.3,1018.2 1016.7,1019.8 1017.1,1018.6 1017.5,1017.5 1017.9,1018.1 1018.4,1019.0 1018.8,1018.6 1019.2,1018.3 1019.6,1019.1 1020.0,1018.9 1020.4,1017.6 1020.9,1016.8 1021.3,1019.1 1021.7,1020.5 1022.1,1017.9 1022.5,1018.6 1022.9,1020.1 1023.4,1020.5 1023.8,1018.9 1024.2,1020.0 1024.6,1019.6 1025.0,1018.3 1025.4,1017.0 1025.9,1018.0 1026.3,1019.3 1026.7,1019.4 1027.1,1018.5 1027.5,1018.2 1028.0,1017.5 1028.4,1017.4 1028.8,1018.9 1029.2,1017.6 1029.6,1019.1 1030.0,1018.4 1030.5,1018.7 1030.9,1021.2 1031.3,1019.2 1031.7,1018.9 1032.1,1019.1 1032.5,1017.8 1033.0,1020.5 1033.4,1020.1 1033.8,1018.8 1034.2,1019.5 1034.6,1018.7 1035.0,1019.7 1035.5,1018.1 1035.9,1019.6 1036.3,1020.8 1036.7,1019.8 1037.1,1018.9 1037.5,1020.4 1038.0,1021.3 1038.4,1020.2 1038.8,1019.6 1039.2,1018.8 1039.6,1020.0 1040.0,1021.4 1040.5,1017.7 1040.9,1020.5 1041.3,1019.8 1041.7,1021.0 1042.1,1019.5 1042.5,1017.7 1043.0,1021.5 1043.4,1018.6 1043.8,1020.5 1044.2,1019.6 1044.6,1019.7 1045.0,1019.9 1045.5,1019.3 1045.9,1020.0 1046.3,1020.1 1046.7,1020.6 1047.1,1020.0 1047.5,1020.2 1048.0,1021.1 1048.4,1019.1 1048.8,1020.0 1049.2,1020.4 1049.6,1020.9 1050.0,1019.9 1050.5,1020.1 1050.9,1019.7 1051.3,1021.1 1051.7,1019.7 1052.1,1020.7 1052.5,1020.0 1053.0,1020.1 1053.4,1019.0 1053.8,1020.2 1054.2,1020.1 1054.6,1018.8 1055.0,1019.5 1055.5,1019.8 1055.9,1018.8 1056.3,1019.1 1056.7,1021.6 1057.1,1019.3 1057.5,1019.5 1058.0,1019.0 1058.4,1021.4 1058.8,1021.1 1059.2,1020.6 1059.6,1020.4 1060.0,1019.9 1060.5,1020.1 1060.9,1019.8 1061.3,1021.0 1061.7,1021.0 1062.1,1021.2 1062.5,1022.3 1063.0,1021.1 1063.4,1021.0 1063.8,1021.4 1064.2,1019.1 1064.6,1020.5 1065.0,1019.2 1065.5,1021.9 1065.9,1020.1 1066.3,1022.2 1066.7,1021.5 1067.1,1020.1 1067.5,1019.1 1068.0,1019.6 1068.4,1021.6 1068.8,1020.4 1069.2,1019.4 1069.6,1020.5 1070.0,1022.2 1070.5,1022.1 1070.9,1020.3 1071.3,1021.0 1071.7,1021.3 1072.1,1019.5 1072.5,1020.3 1073.0,1020.5 1073.4,1021.2 1073.8,1020.4 1074.2,1019.6 1074.6,1021.2 1075.0,1020.3 1075.5,1019.8 1075.9,1019.8 1076.3,1020.7 1076.7,1022.2 1077.1,1020.8 1077.5,1021.9 1078.0,1019.0 1078.4,1020.3 1078.8,1019.9 1079.2,1020.8 1079.6,1021.7 1080.0,1020.6 1080.5,1020.0 1080.9,1021.9 1081.3,1020.5 1081.7,1021.4 1082.1,1020.6 1082.5,1021.6 1083.0,1020.8 1083.4,1021.9 1083.8,1021.7 1084.2,1023.1 1084.6,1021.2 1085.0,1020.4 1085.5,1020.3 1085.9,1020.8 1086.3,1021.6 1086.7,1020.7 1087.1,1022.6 1087.5,1021.5 1088.0,1020.5 1088.4,1021.0 1088.8,1020.8 1089.2,1021.6 1089.6,1020.5 1090.0,1022.5 1090.5,1021.1 1090.9,1021.3 1091.3,1022.3 1091.7,1020.9 1092.1,1021.5 1092.5,1023.1 1093.0,1021.9 1093.4,1021.8 1093.8,1021.2 1094.2,1020.7 1094.6,1023.1 1095.0,1021.5 1095.5,1023.2 1095.9,1021.1 1096.3,1022.7 1096.7,1021.5 1097.1,1022.0 1097.5,1022.7 1098.0,1022.1 1098.4,1022.4 1098.8,1020.4 1099.2,1021.4 1099.6,1023.5 1100.0,1021.6 1100.5,1022.1 1100.9,1021.7 1101.3,1021.3 1101.7,1020.6 1102.1,1020.9 1102.5,1023.3 1103.0,1021.8 1103.4,1020.9 1103.8,1021.2 1104.2,1022.7 1104.6,1021.2 1105.0,1021.5 1105.5,1021.1 1105.9,1021.0 1106.3,1023.4 1106.7,1021.9 1107.1,1021.8 1107.5,1021.6 1108.0,1022.7 1108.4,1022.2 1108.8,1022.4 1109.2,1022.2 1109.6,1021.9 1110.0,1021.8 1110.5,1020.7 1110.9,1021.8 1111.3,1024.0 1111.7,1021.2 1112.1,1022.2 1112.5,1022.5 1113.0,1023.3 1113.4,1024.5 1113.8,1022.0 1114.2,1021.6 1114.6,1023.2 1115.0,1022.5 1115.5,1024.0 1115.9,1023.0 1116.3,1021.8 1116.7,1022.2 1117.1,1022.8 1117.5,1022.8 1118.0,1021.5 1118.4,1020.9 1118.8,1021.2 1119.2,1023.0 1119.6,1022.4 1120.0,1021.0 1120.5,1022.1 1120.9,1021.0 1121.3,1022.4 1121.7,1021.9 1122.1,1022.2 1122.5,1022.5 1123.0,1022.8 1123.4,1022.7 1123.8,1023.7 1124.2,1024.6 1124.6,1023.4 1125.0,1022.6 1125.5,1023.3 1125.9,1022.2 1126.3,1022.1 1126.7,1022.1 1127.1,1023.0 1127.5,1023.8 1128.0,1024.6 1128.4,1023.9 1128.8,1023.4 1129.2,1022.3 1129.6,1022.9 1130.0,1023.3 1130.5,1022.8 1130.9,1024.4 1131.3,1022.3 1131.7,1022.4 1132.1,1023.3 1132.5,1024.6 1133.0,1021.6 1133.4,1022.3 1133.8,1024.0 1134.2,1022.5 1134.6,1024.7 1135.0,1022.4 1135.5,1023.9 1135.9,1023.0 1136.3,1023.5 1136.7,1022.3 1137.1,1021.9 1137.5,1023.8 1138.0,1022.8 1138.4,1022.5 1138.8,1022.3 1139.2,1022.4 1139.6,1024.3 1140.0,1022.5 1140.5,1022.8 1140.9,1024.8 1141.3,1023.0 1141.7,1023.3 1142.1,1023.6 1142.5,1023.1 1143.0,1022.8 1143.4,1024.4 1143.8,1023.6 1144.2,1022.9 1144.6,1022.3 1145.0,1022.5 1145.5,1022.7 1145.9,1021.8 1146.3,1024.4 1146.7,1023.6 1147.1,1023.9 1147.5,1022.4 1148.0,1023.2 1148.4,1023.4 1148.8,1023.6 1149.2,1023.4 1149.6,1022.6 1150.0,1024.5 1150.5,1024.2 1150.9,1023.7 1151.3,1024.5 1151.7,1024.6 1152.1,1024.8 1152.5,1023.8 1153.0,1023.5 1153.4,1023.4 1153.8,1024.4 1154.2,1023.2 1154.6,1023.1 1155.0,1024.2 1155.5,1024.2 1155.9,1024.3 1156.3,1023.2 1156.7,1024.1 1157.1,1024.6 1157.5,1023.5 1158.0,1023.7 1158.4,1023.7 1158.8,1025.1 1159.2,1024.6 1159.6,1023.0 1160.0,1022.8 1160.5,1024.5 1160.9,1023.9 1161.3,1024.4 1161.7,1024.2 1162.1,1024.8 1162.5,1022.9 1163.0,1023.7 1163.4,1024.3 1163.8,1024.3 1164.2,1023.4 1164.6,1023.8 1165.0,1023.7 1165.5,1024.2 1165.9,1024.7 1166.3,1024.0 1166.7,1024.1 1167.1,1022.7 1167.5,1023.5 1168.0,1025.6 1168.4,1023.0 1168.8,1025.3 1169.2,1024.1 1169.6,1022.9 1170.0,1025.4 1170.5,1025.3 1170.9,1024.0 1171.3,1025.0 1171.7,1024.1 1172.1,1024.5 1172.5,1024.6 1173.0,1024.3 1173.4,1024.8 1173.8,1024.8 1174.2,1024.1 1174.6,1024.7 1175.0,1024.1 1175.5,1024.6 1175.9,1024.2 1176.3,1024.6 1176.7,1025.7 1177.1,1024.1 1177.5,1023.6 1178.0,1025.8 1178.4,1024.8 1178.8,1024.2 1179.2,1024.5 1179.6,1024.0 1180.0,1025.4 1180.5,1025.2 1180.9,1025.2 1181.3,1024.9 1181.7,1023.3 1182.1,1023.9 1182.5,1025.0 1183.0,1022.9 1183.4,1024.7 1183.8,1024.1 1184.2,1025.3 1184.6,1024.7 1185.0,1025.6 1185.5,1025.1 1185.9,1025.0 1186.3,1024.2 1186.7,1025.4 1187.1,1026.6 1187.5,1023.7 1188.0,1024.2 1188.4,1026.1 1188.8,1025.3 1189.2,1024.8 1189.6,1025.6 1190.0,1025.2 1190.5,1024.6 1190.9,1024.6 1191.3,1025.7 1191.7,1025.3 1192.1,1025.8 1192.5,1025.5 1193.0,1024.7 1193.4,1026.2 1193.8,1024.5 1194.2,1024.8 1194.6,1024.6 1195.0,1024.2 1195.5,1025.6 1195.9,1024.5 1196.3,1024.7 1196.7,1025.9 1197.1,1025.8 1197.5,1024.8 1198.0,1024.3 1198.4,1025.2 1198.8,1024.2 1199.2,1024.6 1199.6,1025.0 1200.0,1025.2 1200.5,1024.9 1200.9,1025.2 1201.3,1026.3 1201.7,1025.8 1202.1,1026.3 1202.5,1026.0 1203.0,1025.5 1203.4,1024.5 1203.8,1024.5 1204.2,1025.4 1204.6,1025.1 1205.0,1024.8 1205.5,1025.7 1205.9,1026.3 1206.3,1025.4 1206.7,1025.5 1207.1,1025.1 1207.5,1025.0 1208.0,1026.8 1208.4,1024.6 1208.8,1025.4 1209.2,1025.2 1209.6,1025.4 1210.0,1026.2 1210.5,1026.2 1210.9,1025.4 1211.3,1026.3 1211.7,1025.0 1212.1,1025.8 1212.5,1026.8 1213.0,1025.2 1213.4,1025.7 1213.8,1026.6 1214.2,1025.0 1214.6,1025.6 1215.0,1025.4 1215.5,1024.8 1215.9,1025.9 1216.3,1025.0 1216.7,1026.7 1217.1,1025.6 1217.5,1025.5 1218.0,1025.7 1218.4,1025.7 1218.8,1025.5 1219.2,1025.7 1219.6,1025.3 1220.0,1025.3 1220.5,1026.0 1220.9,1024.2 1221.3,1025.2 1221.7,1025.7 1222.1,1025.9 1222.5,1025.4 1223.0,1025.8 1223.4,1025.5 1223.8,1024.5 1224.2,1026.4 1224.6,1025.9 1225.0,1025.1 1225.5,1026.7 1225.9,1026.2 1226.3,1025.3 1226.7,1026.5 1227.1,1026.1 1227.5,1026.3 1228.0,1025.4 1228.4,1025.4 1228.8,1025.2 1229.2,1025.4 1229.6,1024.3 1230.0,1026.5 1230.5,1025.0 1230.9,1026.2 1231.3,1025.0 1231.7,1025.9 1232.1,1025.0 1232.5,1025.8 1233.0,1024.8 1233.4,1025.5 1233.8,1026.3 1234.2,1026.0 1234.6,1026.0 1235.0,1025.3 1235.5,1024.4 1235.9,1025.3 1236.3,1025.5 1236.7,1026.9 1237.1,1026.3 1237.6,1026.1 1238.0,1025.5 1238.4,1025.4 1238.8,1026.3 1239.2,1025.7 1239.6,1025.7 1240.1,1027.2 1240.5,1025.3 1240.9,1025.7 1241.3,1025.8 1241.7,1025.5 1242.1,1025.0 1242.6,1026.8 1243.0,1025.0 1243.4,1025.4 1243.8,1026.1 1244.2,1025.1 1244.6,1025.9 1245.1,1025.8 1245.5,1025.8 1245.9,1025.9 1246.3,1025.1 1246.7,1025.6 1247.1,1026.8 1247.6,1026.8 1248.0,1025.6 1248.4,1026.7 1248.8,1025.4 1249.2,1025.1 1249.6,1024.7 1250.1,1025.3 1250.5,1026.3 1250.9,1025.8 1251.3,1027.1 1251.7,1026.6 1252.1,1025.8 1252.6,1025.9 1253.0,1025.9 1253.4,1026.7 1253.8,1025.8 1254.2,1026.1 1254.6,1025.6 1255.1,1026.9 1255.5,1025.9 1255.9,1025.7 1256.3,1025.1 1256.7,1026.7 1257.1,1025.7 1257.6,1026.1 1258.0,1025.9 1258.4,1026.0 1258.8,1024.8 1259.2,1025.6 1259.6,1025.4 1260.1,1027.6 1260.5,1027.0 1260.9,1026.4 1261.3,1027.8 1261.7,1027.0 1262.1,1025.3 1262.6,1025.3 1263.0,1026.3 1263.4,1026.1 1263.8,1026.3 1264.2,1025.7 1264.6,1027.4 1265.1,1026.0 1265.5,1026.9 1265.9,1027.2 1266.3,1025.8 1266.7,1026.6 1267.1,1027.3 1267.6,1027.2 1268.0,1026.7 1268.4,1026.5 1268.8,1026.3 1269.2,1027.1 1269.6,1026.6 1270.1,1026.3 1270.5,1026.0 1270.9,1025.4 1271.3,1026.2 1271.7,1027.5 1272.1,1026.0 1272.6,1025.9 1273.0,1026.1 1273.4,1026.2 1273.8,1025.9 1274.2,1026.7 1274.6,1026.5 1275.1,1027.1 1275.5,1026.7 1275.9,1026.4 1276.3,1025.0 1276.7,1026.5 1277.1,1025.9 1277.6,1027.0 1278.0,1026.4 1278.4,1025.9 1278.8,1026.0 1279.2,1025.6 1279.6,1026.0 1280.1,1026.6 1280.5,1027.1 1280.9,1026.7 1281.3,1026.9 1281.7,1027.0 1282.1,1026.2 1282.6,1027.3 1283.0,1025.5 1283.4,1026.5 1283.8,1026.1 1284.2,1025.2 1284.6,1027.5 1285.1,1025.1 1285.5,1026.9 1285.9,1027.6 1286.3,1026.3 1286.7,1026.4 1287.1,1025.2 1287.6,1026.3 1288.0,1027.4 1288.4,1026.1 1288.8,1025.8 1289.2,1025.0 1289.6,1027.3 1290.1,1026.7 1290.5,1026.3 1290.9,1027.1 1291.3,1026.1 1291.7,1026.3 1292.1,1027.8 1292.6,1025.9 1293.0,1026.7 1293.4,1026.6 1293.8,1026.6 1294.2,1026.5 1294.6,1025.7 1295.1,1026.4 1295.5,1026.4 1295.9,1026.1 1296.3,1026.0 1296.7,1025.9 1297.1,1026.0 1297.6,1026.8 1298.0,1026.6 1298.4,1027.6 1298.8,1026.9 1299.2,1026.2 1299.6,1026.2 1300.1,1026.5 1300.5,1026.4 1300.9,1026.6 1301.3,1027.8 1301.7,1026.5 1302.1,1026.7 1302.6,1025.9 1303.0,1025.7 1303.4,1026.5 1303.8,1026.4 1304.2,1026.8 1304.6,1027.5 1305.1,1026.3 1305.5,1026.2 1305.9,1027.3 1306.3,1026.4 1306.7,1026.7 1307.1,1026.6 1307.6,1027.8 1308.0,1025.6 1308.4,1026.2 1308.8,1027.1 1309.2,1027.4 1309.6,1026.0 1310.1,1027.4 1310.5,1026.4 1310.9,1026.2 1311.3,1026.3 1311.7,1026.9 1312.1,1027.0 1312.6,1026.2 1313.0,1026.9 1313.4,1026.5 1313.8,1026.0 1314.2,1027.8 1314.6,1026.1 1315.1,1026.8 1315.5,1026.0 1315.9,1026.5 1316.3,1026.8 1316.7,1026.9 1317.1,1026.1 1317.6,1026.7 1318.0,1027.0 1318.4,1027.7 1318.8,1027.3 1319.2,1027.5 1319.6,1027.2 1320.1,1026.4 1320.5,1026.6 1320.9,1027.4 1321.3,1026.4 1321.7,1026.1 1322.1,1026.8 1322.6,1025.7 1323.0,1026.4 1323.4,1026.1 1323.8,1026.6 1324.2,1027.7 1324.6,1028.3 1325.1,1027.2 1325.5,1026.3 1325.9,1027.3 1326.3,1027.1 1326.7,1026.5 1327.1,1027.4 1327.6,1026.6 1328.0,1026.5 1328.4,1026.9 1328.8,1027.3 1329.2,1026.7 1329.6,1027.1 1330.1,1025.8 1330.5,1027.1 1330.9,1026.6 1331.3,1026.6 1331.7,1025.4 1332.1,1026.0 1332.6,1025.9 1333.0,1027.3 1333.4,1026.4 1333.8,1027.1 1334.2,1027.4 1334.6,1026.6 1335.1,1026.3 1335.5,1027.7 1335.9,1027.1 1336.3,1026.2 1336.7,1027.3 1337.1,1026.6 1337.6,1027.3 1338.0,1027.5 1338.4,1026.5 1338.8,1027.3 1339.2,1025.2 1339.6,1027.4 1340.1,1025.8 1340.5,1028.6 1340.9,1027.2 1341.3,1026.7 1341.7,1027.7 1342.1,1026.6 1342.6,1027.1 1343.0,1026.9 1343.4,1027.1 1343.8,1026.7 1344.2,1027.3 1344.6,1026.6 1345.1,1027.1 1345.5,1027.5 1345.9,1026.7 1346.3,1027.6 1346.7,1027.4 1347.1,1026.9 1347.6,1026.8 1348.0,1027.1 1348.4,1026.8 1348.8,1026.8 1349.2,1027.0 1349.6,1027.0 1350.1,1027.2 1350.5,1028.0 1350.9,1027.7 1351.3,1027.7 1351.7,1027.5 1352.1,1026.8 1352.6,1026.5 1353.0,1027.0 1353.4,1027.9 1353.8,1027.9 1354.2,1026.3 1354.6,1026.1 1355.1,1028.2 1355.5,1028.0 1355.9,1026.8 1356.3,1027.2 1356.7,1027.2 1357.1,1027.9 1357.6,1026.9 1358.0,1027.6 1358.4,1027.4 1358.8,1027.4 1359.2,1027.9 1359.6,1027.3 1360.1,1026.5 1360.5,1027.8 1360.9,1027.0 1361.3,1027.8 1361.7,1027.4 1362.1,1026.7 1362.6,1027.4 1363.0,1026.9 1363.4,1027.4 1363.8,1027.0 1364.2,1027.9 1364.6,1026.9 1365.1,1027.1 1365.5,1026.9 1365.9,1026.8 1366.3,1027.1 1366.7,1027.4 1367.1,1027.7 1367.6,1027.4 1368.0,1027.1 1368.4,1026.4 1368.8,1027.9 1369.2,1027.0 1369.6,1027.6 1370.1,1026.7 1370.5,1028.3 1370.9,1027.8 1371.3,1026.8 1371.7,1027.6 1372.1,1028.2 1372.6,1027.3 1373.0,1026.4 1373.4,1027.7 1373.8,1028.5 1374.2,1026.5 1374.6,1028.0 1375.1,1027.3 1375.5,1027.4 1375.9,1027.5 1376.3,1027.4 1376.7,1027.9 1377.1,1026.7 1377.6,1027.4 1378.0,1026.9 1378.4,1027.1 1378.8,1029.2 1379.2,1026.9 1379.6,1027.7 1380.1,1027.6 1380.5,1026.3 1380.9,1026.8 1381.3,1026.4 1381.7,1027.4 1382.1,1026.7 1382.6,1027.0 1383.0,1026.6 1383.4,1027.9 1383.8,1027.8 1384.2,1028.4 1384.6,1027.4 1385.1,1027.9 1385.5,1028.2 1385.9,1028.7 1386.3,1026.8 1386.7,1027.0 1387.1,1026.9 1387.6,1026.7 1388.0,1027.9 1388.4,1028.0 1388.8,1026.7 1389.2,1026.9 1389.6,1027.7 1390.1,1027.3 1390.5,1027.7 1390.9,1027.5 1391.3,1028.2 1391.7,1028.2 1392.1,1026.5 1392.6,1028.4 1393.0,1027.3 1393.4,1026.9 1393.8,1027.9 1394.2,1027.0 1394.6,1026.9 1395.1,1027.4 1395.5,1028.4 1395.9,1026.5 1396.3,1027.0 1396.7,1026.6 1397.1,1026.9 1397.6,1027.5 1398.0,1026.8 1398.4,1027.8 1398.8,1027.7 1399.2,1028.0 1399.6,1028.7 1400.1,1027.1 1400.5,1027.3 1400.9,1027.3 1401.3,1027.4 1401.7,1027.9 1402.1,1028.0 1402.6,1027.3 1403.0,1028.4 1403.4,1027.5 1403.8,1027.6 1404.2,1027.1 1404.6,1028.0 1405.1,1028.1 1405.5,1027.7 1405.9,1026.4 1406.3,1027.5 1406.7,1028.0 1407.1,1027.4 1407.6,1027.6 1408.0,1028.0 1408.4,1026.6 1408.8,1028.1 1409.2,1026.6 1409.6,1027.7 1410.1,1028.0 1410.5,1027.4 1410.9,1027.9 1411.3,1028.0 1411.7,1027.4 1412.1,1027.4 1412.6,1028.1 1413.0,1027.9 1413.4,1028.0 1413.8,1027.9 1414.2,1027.4 1414.6,1027.1 1415.1,1027.1 1415.5,1026.9 1415.9,1026.5 1416.3,1027.4 1416.7,1027.2 1417.1,1027.7 1417.6,1027.6 1418.0,1027.9 1418.4,1028.3 1418.8,1027.1 1419.2,1027.6 1419.6,1027.5 1420.1,1027.2 1420.5,1027.0 1420.9,1027.7 1421.3,1027.9 1421.7,1027.5 1422.1,1028.0 1422.6,1027.9 1423.0,1028.3 1423.4,1027.7 1423.8,1027.8 1424.2,1028.4 1424.6,1027.5 1425.1,1028.0 1425.5,1028.3 1425.9,1028.2 1426.3,1028.2 1426.7,1028.1 1427.1,1027.6 1427.6,1028.3 1428.0,1027.4 1428.4,1027.5 1428.8,1027.6 1429.2,1028.0 1429.6,1028.6 1430.1,1028.5 1430.5,1028.5 1430.9,1028.1 1431.3,1027.8 1431.7,1027.2 1432.1,1027.4 1432.6,1027.8 1433.0,1028.7 1433.4,1028.1 1433.8,1027.9 1434.2,1028.1 1434.6,1027.0 1435.1,1027.3 1435.5,1028.0 1435.9,1028.3 1436.3,1027.4 1436.7,1028.0 1437.1,1026.7 1437.6,1028.0 1438.0,1028.5 1438.4,1027.6 1438.8,1027.4 1439.2,1029.3 1439.6,1027.8 1440.1,1028.5 1440.5,1027.4 1440.9,1027.1 1441.3,1026.9 1441.7,1028.3 1442.1,1026.8 1442.6,1026.6 1443.0,1027.4 1443.4,1027.5 1443.8,1027.6 1444.2,1027.0 1444.7,1027.3 1445.1,1027.8 1445.5,1026.6 1445.9,1027.8 1446.3,1028.1 1446.7,1028.5 1447.2,1028.0 1447.6,1028.4 1448.0,1027.9 1448.4,1028.6 1448.8,1027.8 1449.2,1028.9 1449.7,1028.1 1450.1,1027.4 1450.5,1027.8 1450.9,1026.7 1451.3,1028.4 1451.7,1027.6 1452.2,1028.4 1452.6,1029.0 1453.0,1027.8 1453.4,1027.8 1453.8,1027.7 1454.2,1028.0 1454.7,1029.0 1455.1,1028.5 1455.5,1027.9 1455.9,1028.4 1456.3,1026.6 1456.7,1027.8 1457.2,1026.1 1457.6,1028.4 1458.0,1026.5 1458.4,1028.1 1458.8,1027.2 1459.2,1029.2 1459.7,1027.0 1460.1,1027.6 1460.5,1028.7 1460.9,1028.0 1461.3,1027.9 1461.7,1027.6 1462.2,1027.8 1462.6,1027.3 1463.0,1027.7 1463.4,1027.7 1463.8,1028.2 1464.2,1027.8 1464.7,1028.2 1465.1,1026.9 1465.5,1028.6 1465.9,1028.0 1466.3,1028.7 1466.7,1028.1 1467.2,1027.7 1467.6,1027.8 1468.0,1027.1 1468.4,1027.6 1468.8,1027.9 1469.2,1027.8 1469.7,1026.8 1470.1,1028.0 1470.5,1027.2 1470.9,1027.6 1471.3,1028.2 1471.7,1027.4 1472.2,1027.7 1472.6,1027.5 1473.0,1028.1 1473.4,1027.1 1473.8,1026.9 1474.2,1026.6 1474.7,1029.0 1475.1,1028.2 1475.5,1028.7 1475.9,1027.6 1476.3,1028.4 1476.7,1027.5 1477.2,1027.0 1477.6,1028.2 1478.0,1027.6 1478.4,1027.9 1478.8,1028.0 1479.2,1028.1 1479.7,1027.6 1480.1,1026.4 1480.5,1027.1 1480.9,1028.1 1481.3,1028.9 1481.7,1027.7 1482.2,1028.6 1482.6,1026.4 1483.0,1028.6 1483.4,1027.1 1483.8,1027.2 1484.2,1027.6 1484.7,1027.9 1485.1,1027.1 1485.5,1028.3 1485.9,1027.0 1486.3,1027.9 1486.7,1027.3 1487.2,1027.9 1487.6,1026.6 1488.0,1027.2 1488.4,1027.1 1488.8,1028.3 1489.2,1026.5 1489.7,1028.8 1490.1,1027.5 1490.5,1027.9 1490.9,1026.3 1491.3,1027.3 1491.7,1028.3 1492.2,1028.6 1492.6,1027.2 1493.0,1028.4 1493.4,1027.9 1493.8,1028.1 1494.2,1027.7 1494.7,1028.6 1495.1,1026.8 1495.5,1028.1 1495.9,1028.7 1496.3,1028.2 1496.7,1027.6 1497.2,1028.1 1497.6,1027.9 1498.0,1027.6 1498.4,1028.4 1498.8,1028.6 1499.2,1027.0 1499.7,1028.8 1500.1,1027.8 1500.5,1027.7 1500.9,1028.3 1501.3,1027.3 1501.7,1028.1 1502.2,1027.6 1502.6,1027.8 1503.0,1028.0 1503.4,1027.8 1503.8,1027.6 1504.2,1028.5 1504.7,1028.1 1505.1,1028.1 1505.5,1028.3 1505.9,1026.6 1506.3,1028.3 1506.7,1029.1 1507.2,1027.2 1507.6,1029.2 1508.0,1026.8 1508.4,1027.4 1508.8,1028.2 1509.2,1027.5 1509.7,1027.3 1510.1,1027.9 1510.5,1028.0 1510.9,1028.3 1511.3,1027.6 1511.7,1026.6 1512.2,1028.1 1512.6,1028.5 1513.0,1027.5 1513.4,1028.2 1513.8,1027.0 1514.2,1027.4 1514.7,1027.1 1515.1,1027.9 1515.5,1027.1 1515.9,1028.7 1516.3,1028.1 1516.7,1027.8 1517.2,1028.2 1517.6,1028.5 1518.0,1028.0 1518.4,1027.3 1518.8,1027.9 1519.2,1027.6 1519.7,1028.1 1520.1,1027.6 1520.5,1027.8 1520.9,1028.4 1521.3,1027.3 1521.7,1027.7 1522.2,1027.7 1522.6,1027.5 1523.0,1029.3 1523.4,1028.5 1523.8,1027.4 1524.2,1027.4 1524.7,1028.0 1525.1,1028.5 1525.5,1027.7 1525.9,1028.3 1526.3,1026.8 1526.7,1028.0 1527.2,1028.6 1527.6,1027.9 1528.0,1027.4 1528.4,1028.4 1528.8,1027.3 1529.2,1027.7 1529.7,1028.2 1530.1,1027.3 1530.5,1029.3 1530.9,1027.7 1531.3,1026.7 1531.7,1028.4 1532.2,1028.0 1532.6,1027.8 1533.0,1028.1 1533.4,1028.2 1533.8,1027.8 1534.2,1028.2 1534.7,1028.0 1535.1,1028.4 1535.5,1027.5 1535.9,1027.6 1536.3,1028.2 1536.7,1028.2 1537.2,1027.8 1537.6,1027.9 1538.0,1028.4 1538.4,1027.3 1538.8,1027.1 1539.2,1028.3 1539.7,1028.0 1540.1,1027.4 1540.5,1027.7 1540.9,1027.4 1541.3,1027.5 1541.7,1028.6 1542.2,1027.9 1542.6,1027.2 1543.0,1028.1 1543.4,1028.1 1543.8,1027.8 1544.2,1027.8 1544.7,1028.1 1545.1,1028.3 1545.5,1027.8 1545.9,1027.5 1546.3,1027.7 1546.7,1028.4 1547.2,1028.3 1547.6,1027.6 1548.0,1029.4 1548.4,1029.3 1548.8,1027.2 1549.2,1028.4 1549.7,1027.3 1550.1,1027.9 1550.5,1028.7 1550.9,1028.3 1551.3,1027.2 1551.7,1028.1 1552.2,1026.4 1552.6,1026.9 1553.0,1027.9 1553.4,1027.4 1553.8,1028.7 1554.2,1027.9 1554.7,1028.6 1555.1,1027.9 1555.5,1027.9 1555.9,1027.9 1556.3,1029.0 1556.7,1028.8 1557.2,1027.2 1557.6,1027.7 1558.0,1028.8 1558.4,1027.0 1558.8,1028.9 1559.2,1028.2 1559.7,1027.3 1560.1,1026.6 1560.5,1027.9 1560.9,1028.8 1561.3,1028.0 1561.7,1028.2 1562.2,1028.1 1562.6,1027.7 1563.0,1028.1 1563.4,1027.5 1563.8,1027.5 1564.2,1027.3 1564.7,1027.6 1565.1,1027.6 1565.5,1027.9 1565.9,1027.6 1566.3,1026.9 1566.7,1027.2 1567.2,1027.7 1567.6,1028.1 1568.0,1027.7 1568.4,1028.1 1568.8,1027.0 1569.2,1028.5 1569.7,1027.6 1570.1,1027.4 1570.5,1027.9 1570.9,1028.1 1571.3,1027.7 1571.7,1028.2 1572.2,1026.8 1572.6,1027.8 1573.0,1028.3 1573.4,1028.1 1573.8,1027.7 1574.2,1028.0 1574.7,1028.8 1575.1,1027.2 1575.5,1028.0 1575.9,1027.9 1576.3,1028.2 1576.7,1027.2 1577.2,1028.8 1577.6,1028.3 1578.0,1029.2 1578.4,1027.9 1578.8,1027.5 1579.2,1026.8 1579.7,1027.6 1580.1,1027.1 1580.5,1026.7 1580.9,1027.4 1581.3,1027.7 1581.7,1027.8 1582.2,1029.3 1582.6,1028.7 1583.0,1028.0 1583.4,1028.3 1583.8,1027.6 1584.2,1027.6 1584.7,1028.1 1585.1,1027.8 1585.5,1028.8 1585.9,1028.3 1586.3,1027.3 1586.7,1027.0 1587.2,1028.0 1587.6,1028.5 1588.0,1027.3 1588.4,1027.3 1588.8,1029.2 1589.2,1027.9 1589.7,1027.7 1590.1,1029.3 1590.5,1027.7 1590.9,1027.2 1591.3,1027.9 1591.7,1027.2 1592.2,1027.0 1592.6,1028.4 1593.0,1027.6 1593.4,1028.1 1593.8,1027.2 1594.2,1027.7 1594.7,1027.2 1595.1,1027.3 1595.5,1028.9 1595.9,1028.3 1596.3,1028.3 1596.7,1027.9 1597.2,1027.7 1597.6,1027.9 1598.0,1027.6 1598.4,1028.2 1598.8,1027.8 1599.2,1028.0 1599.7,1029.4 1600.1,1027.9 1600.5,1027.3 1600.9,1028.8 1601.3,1027.3 1601.7,1027.3 1602.2,1028.9 1602.6,1028.1 1603.0,1027.3 1603.4,1027.9 1603.8,1028.7 1604.2,1027.4 1604.7,1028.0 1605.1,1029.3 1605.5,1027.8 1605.9,1026.9 1606.3,1027.7 1606.7,1027.7 1607.2,1027.6 1607.6,1028.9 1608.0,1028.0 1608.4,1027.9 1608.8,1028.2 1609.2,1028.0 1609.7,1026.8 1610.1,1028.3 1610.5,1028.2 1610.9,1028.1 1611.3,1028.3 1611.7,1028.5 1612.2,1028.7 1612.6,1027.0 1613.0,1027.5 1613.4,1027.3 1613.8,1027.6 1614.2,1028.1 1614.7,1026.9 1615.1,1028.3 1615.5,1027.0 1615.9,1027.3 1616.3,1027.2 1616.7,1027.6 1617.2,1028.1 1617.6,1026.7 1618.0,1028.8 1618.4,1027.3 1618.8,1029.1 1619.2,1027.0 1619.7,1028.4 1620.1,1028.2 1620.5,1027.8 1620.9,1027.1 1621.3,1027.6 1621.7,1028.6 1622.2,1028.4 1622.6,1028.4 1623.0,1028.7 1623.4,1028.2 1623.8,1027.9 1624.2,1028.4 1624.7,1028.3 1625.1,1028.7 1625.5,1028.2 1625.9,1028.2 1626.3,1028.5 1626.7,1027.9 1627.2,1027.3 1627.6,1027.9 1628.0,1028.0 1628.4,1028.5 1628.8,1028.3 1629.2,1027.6 1629.7,1028.0 1630.1,1027.7 1630.5,1027.6 1630.9,1028.4 1631.3,1027.3 1631.7,1028.5 1632.2,1027.7 1632.6,1028.1 1633.0,1027.7 1633.4,1027.5 1633.8,1027.5 1634.2,1028.4 1634.7,1026.9 1635.1,1028.0 1635.5,1027.5 1635.9,1027.6 1636.3,1028.9 1636.7,1027.5 1637.2,1027.5 1637.6,1027.0 1638.0,1026.9 1638.4,1027.8 1638.8,1027.5 1639.2,1028.3 1639.7,1028.0 1640.1,1027.4 1640.5,1028.7 1640.9,1028.5 1641.3,1027.9 1641.7,1028.4 1642.2,1028.9 1642.6,1028.1 1643.0,1027.6 1643.4,1028.0 1643.8,1028.0 1644.2,1028.1 1644.7,1028.6 1645.1,1028.1 1645.5,1027.0 1645.9,1027.5 1646.3,1027.3 1646.7,1028.1 1647.2,1027.8 1647.6,1028.1 1648.0,1027.6 1648.4,1027.5 1648.8,1028.5 1649.2,1028.1 1649.7,1027.8 1650.1,1027.0 1650.5,1027.2 1650.9,1027.3 1651.3,1027.9 1651.7,1027.4 1652.2,1028.5 1652.6,1028.3 1653.0,1027.8 1653.4,1027.4 1653.8,1027.6 1654.3,1028.1 1654.7,1027.9 1655.1,1027.8 1655.5,1028.6 1655.9,1027.7 1656.3,1027.8 1656.8,1028.2 1657.2,1028.1 1657.6,1028.5 1658.0,1027.6 1658.4,1027.5 1658.8,1028.3 1659.3,1028.0 1659.7,1028.4 1660.1,1028.3 1660.5,1028.3 1660.9,1027.4 1661.3,1027.9 1661.8,1027.6 1662.2,1027.7 1662.6,1028.0 1663.0,1028.8 1663.4,1029.1 1663.8,1027.5 1664.3,1027.9 1664.7,1027.5 1665.1,1027.5 1665.5,1027.8 1665.9,1027.0 1666.3,1028.1 1666.8,1027.3 1667.2,1027.8 1667.6,1027.5 1668.0,1028.3 1668.4,1028.4 1668.8,1028.3 1669.3,1027.9 1669.7,1027.0 1670.1,1027.3 1670.5,1028.2 1670.9,1027.6 1671.3,1027.8 1671.8,1028.2 1672.2,1029.1 1672.6,1027.5 1673.0,1028.2 1673.4,1027.6 1673.8,1027.3 1674.3,1027.7 1674.7,1027.8 1675.1,1027.7 1675.5,1028.2 1675.9,1027.8 1676.3,1026.8 1676.8,1028.2 1677.2,1028.2 1677.6,1027.1 1678.0,1027.6 1678.4,1027.7 1678.8,1028.3 1679.3,1027.8 1679.7,1028.5 1680.1,1027.5 1680.5,1028.4 1680.9,1027.9 1681.3,1027.7 1681.8,1028.4 1682.2,1028.4 1682.6,1028.3 1683.0,1027.9 1683.4,1028.5 1683.8,1028.6 1684.3,1027.8 1684.7,1028.0 1685.1,1027.1 1685.5,1027.6 1685.9,1028.5 1686.3,1027.4 1686.8,1028.1 1687.2,1027.9 1687.6,1028.9 1688.0,1028.0 1688.4,1026.9 1688.8,1027.7 1689.3,1028.2 1689.7,1028.3 1690.1,1028.2 1690.5,1028.7 1690.9,1028.1 1691.3,1026.9 1691.8,1027.6 1692.2,1028.1 1692.6,1027.6 1693.0,1028.1 1693.4,1028.1 1693.8,1028.9 1694.3,1027.6 1694.7,1027.3 1695.1,1027.3 1695.5,1027.7 1695.9,1028.2 1696.3,1027.9 1696.8,1027.6 1697.2,1027.3 1697.6,1027.8 1698.0,1028.3 1698.4,1028.6 1698.8,1028.7 1699.3,1028.4 1699.7,1028.1 1700.1,1027.6 1700.5,1028.1 1700.9,1028.8 1701.3,1028.0 1701.8,1028.4 1702.2,1028.0 1702.6,1028.2 1703.0,1027.4 1703.4,1027.2 1703.8,1027.4 1704.3,1026.9 1704.7,1028.4 1705.1,1029.3 1705.5,1027.8 1705.9,1027.5 1706.3,1028.2 1706.8,1028.9 1707.2,1028.0 1707.6,1028.7 1708.0,1028.0 1708.4,1028.1 1708.8,1027.1 1709.3,1028.2 1709.7,1027.4 1710.1,1027.4 1710.5,1027.1 1710.9,1028.3 1711.3,1029.3 1711.8,1027.6 1712.2,1027.8 1712.6,1027.8 1713.0,1028.2 1713.4,1028.5 1713.8,1028.0 1714.3,1027.7 1714.7,1027.0 1715.1,1028.3 1715.5,1028.0 1715.9,1027.0 1716.3,1027.3 1716.8,1027.4 1717.2,1027.7 1717.6,1027.5 1718.0,1028.4 1718.4,1027.4 1718.8,1027.7 1719.3,1027.4 1719.7,1028.4 1720.1,1027.7 1720.5,1028.0 1720.9,1028.3 1721.3,1028.0 1721.8,1027.9 1722.2,1028.4 1722.6,1028.2 1723.0,1028.0 1723.4,1027.8 1723.8,1028.1 1724.3,1027.6 1724.7,1028.8 1725.1,1028.1 1725.5,1028.2 1725.9,1027.6 1726.3,1027.9 1726.8,1028.4 1727.2,1026.9 1727.6,1027.8 1728.0,1027.6 1728.4,1027.4 1728.8,1028.4 1729.3,1027.6 1729.7,1027.4 1730.1,1028.5 1730.5,1026.9 1730.9,1028.6 1731.3,1028.6 1731.8,1026.8 1732.2,1027.9 1732.6,1028.1 1733.0,1028.6 1733.4,1027.7 1733.8,1027.9 1734.3,1028.4 1734.7,1027.5 1735.1,1028.3 1735.5,1028.6 1735.9,1027.4 1736.3,1028.2 1736.8,1028.0 1737.2,1027.4 1737.6,1028.1 1738.0,1027.8 1738.4,1027.5 1738.8,1027.8 1739.3,1027.4 1739.7,1028.2 1740.1,1028.2 1740.5,1028.4 1740.9,1028.1 1741.3,1028.1 1741.8,1027.7 1742.2,1028.4 1742.6,1027.6 1743.0,1028.3 1743.4,1027.7 1743.8,1027.6 1744.3,1028.2 1744.7,1028.9 1745.1,1028.5 1745.5,1027.7 1745.9,1027.2 1746.3,1027.2 1746.8,1028.2 1747.2,1028.1 1747.6,1026.9 1748.0,1027.9 1748.4,1028.6 1748.8,1028.0 1749.3,1028.0 1749.7,1027.4 1750.1,1028.4 1750.5,1027.6 1750.9,1027.7 1751.3,1028.6 1751.8,1027.4 1752.2,1027.9 1752.6,1028.0 1753.0,1028.2 1753.4,1028.9 1753.8,1028.0 1754.3,1028.3 1754.7,1028.0 1755.1,1027.1 1755.5,1028.6 1755.9,1028.4 1756.3,1028.7 1756.8,1027.4 1757.2,1028.1 1757.6,1029.1 1758.0,1029.2 1758.4,1028.1 1758.8,1028.2 1759.3,1027.5 1759.7,1027.9 1760.1,1027.6 1760.5,1028.6 1760.9,1027.8 1761.3,1028.0 1761.8,1028.5 1762.2,1027.9 1762.6,1028.6 1763.0,1027.9 1763.4,1028.4 1763.8,1027.5 1764.3,1028.0 1764.7,1027.2 1765.1,1027.5 1765.5,1027.6 1765.9,1029.1 1766.3,1027.4 1766.8,1029.1 1767.2,1028.4 1767.6,1028.3 1768.0,1027.6 1768.4,1028.5 1768.8,1029.1 1769.3,1028.6 1769.7,1028.2 1770.1,1028.1 1770.5,1028.4 1770.9,1028.1 1771.3,1027.9 1771.8,1028.5 1772.2,1027.8 1772.6,1028.5 1773.0,1029.2 1773.4,1028.6 1773.8,1027.8 1774.3,1027.9 1774.7,1028.6 1775.1,1027.6 1775.5,1029.1 1775.9,1027.9 1776.3,1028.1 1776.8,1028.3 1777.2,1029.8 1777.6,1028.0 1778.0,1027.7 1778.4,1027.8 1778.8,1028.4 1779.3,1029.0 1779.7,1027.5 1780.1,1027.8 1780.5,1027.9 1780.9,1027.8 1781.3,1028.9 1781.8,1028.5 1782.2,1028.8 1782.6,1027.8 1783.0,1027.4 1783.4,1028.0 1783.8,1027.6 1784.3,1028.2 1784.7,1028.6 1785.1,1026.8 1785.5,1028.4 1785.9,1029.2 1786.3,1027.4 1786.8,1028.2 1787.2,1027.4 1787.6,1027.6 1788.0,1028.1 1788.4,1029.1 1788.8,1028.9 1789.3,1028.1 1789.7,1028.6 1790.1,1026.5 1790.5,1027.8 1790.9,1027.9 1791.3,1028.4 1791.8,1027.6 1792.2,1027.5 1792.6,1027.5 1793.0,1028.4 1793.4,1028.3 1793.8,1027.8 1794.3,1028.6 1794.7,1028.0 1795.1,1027.7 1795.5,1027.7 1795.9,1026.9 1796.3,1028.1 1796.8,1028.4 1797.2,1028.3 1797.6,1029.5 1798.0,1027.9 1798.4,1027.3 1798.8,1029.0 1799.3,1028.9 1799.7,1027.6 1800.1,1028.0 1800.5,1027.8 1800.9,1028.3 1801.3,1027.9 1801.8,1028.5 1802.2,1028.6 1802.6,1029.2 1803.0,1027.8 1803.4,1028.5 1803.8,1028.6 1804.3,1028.2 1804.7,1029.0 1805.1,1028.3 1805.5,1028.1 1805.9,1029.2 1806.3,1027.6 1806.8,1028.7 1807.2,1027.6 1807.6,1028.4 1808.0,1028.5 1808.4,1028.6 1808.8,1028.9 1809.3,1027.7 1809.7,1027.4 1810.1,1028.2 1810.5,1028.2 1810.9,1028.0 1811.3,1029.4 1811.8,1028.1 1812.2,1027.3 1812.6,1027.7 1813.0,1028.3 1813.4,1028.0 1813.8,1028.7 1814.3,1028.6 1814.7,1028.6 1815.1,1028.5 1815.5,1028.5 1815.9,1028.0 1816.3,1028.9 1816.8,1028.7 1817.2,1027.7 1817.6,1028.3 1818.0,1028.6 1818.4,1028.9 1818.8,1028.3 1819.3,1028.5 1819.7,1027.0 1820.1,1027.9 1820.5,1028.1 1820.9,1027.5 1821.3,1028.1 1821.8,1027.9 1822.2,1027.4 1822.6,1028.4 1823.0,1027.7 1823.4,1027.9 1823.8,1028.6 1824.3,1027.7 1824.7,1028.8 1825.1,1028.3 1825.5,1027.6 1825.9,1027.3 1826.3,1028.1 1826.8,1027.7 1827.2,1027.4 1827.6,1027.4 1828.0,1027.8 1828.4,1027.8 1828.8,1028.2 1829.3,1027.4 1829.7,1027.8 1830.1,1027.7 1830.5,1027.7 1830.9,1028.8 1831.3,1028.2 1831.8,1029.3 1832.2,1028.5 1832.6,1028.3 1833.0,1028.8 1833.4,1028.7 1833.8,1027.2 1834.3,1027.6 1834.7,1028.0 1835.1,1028.2 1835.5,1028.2 1835.9,1027.2 1836.3,1028.3 1836.8,1028.3 1837.2,1027.6 1837.6,1027.4 1838.0,1028.4 1838.4,1027.8 1838.8,1028.6 1839.3,1028.6 1839.7,1028.3 1840.1,1027.3 1840.5,1027.6 1840.9,1027.1 1841.3,1027.8 1841.8,1027.6 1842.2,1029.0 1842.6,1028.4 1843.0,1027.9 1843.4,1027.4 1843.8,1029.1 1844.3,1027.6 1844.7,1027.0 1845.1,1027.7 1845.5,1027.3 1845.9,1028.5 1846.3,1027.5 1846.8,1028.4 1847.2,1028.9 1847.6,1027.6 1848.0,1028.0 1848.4,1029.1 1848.8,1027.9 1849.3,1027.9 1849.7,1027.9 1850.1,1027.7 1850.5,1027.6 1850.9,1028.7 1851.3,1028.8 1851.8,1027.6 1852.2,1029.2 1852.6,1029.0 1853.0,1027.9 1853.4,1027.2 1853.8,1027.5 1854.3,1028.0 1854.7,1028.0 1855.1,1029.0 1855.5,1027.4 1855.9,1028.0 1856.3,1028.0 1856.8,1028.5 1857.2,1028.0 1857.6,1027.9 1858.0,1028.1 1858.4,1027.8 1858.8,1028.4 1859.3,1028.4 1859.7,1027.6 1860.1,1028.6"/>
<polyline id="c1" points="193.3,891.2 193.8,891.9 194.3,891.2 194.9,889.0 195.4,891.9 195.9,891.3 196.4,890.0 196.9,891.5 197.5,891.2 198.0,891.1 198.5,890.7 199.0,891.4 199.6,889.6 200.1,890.4 200.6,890.0 201.1,891.4 201.6,890.6 202.2,890.2 202.7,889.5 203.2,890.2 203.7,890.5 204.2,890.1 204.8,892.2 205.3,891.8 205.8,886.8 206.3,887.9 206.8,890.2 207.4,889.9 207.9,890.7 208.4,890.7 208.9,893.2 209.4,888.9 210.0,889.8 210.5,893.1 211.0,891.2 211.5,891.2 212.1,889.6 212.6,888.0 213.1,890.5 213.6,890.4 214.1,888.6 214.7,889.3 215.2,890.1 215.7,888.9 216.2,890.0 216.7,890.3 217.3,890.2 217.8,889.4 218.3,890.9 218.8,891.3 219.3,890.5 219.9,888.9 220.4,891.0 220.9,889.3 221.4,891.2 221.9,888.5 222.5,891.2 223.0,889.9 223.5,888.2 224.0,889.5 224.6,889.9 225.1,890.2 225.6,888.5 226.1,888.3 226.6,890.1 227.2,889.1 227.7,890.1 228.2,890.8 228.7,887.5 229.2,890.0 229.8,891.3 230.3,889.3 230.8,888.5 231.3,890.6 231.8,889.9 232.4,890.8 232.9,889.1 233.4,887.5 233.9,889.4 234.4,888.9 235.0,890.5 235.5,889.7 236.0,887.3 236.5,887.8 237.1,890.6 237.6,890.3 238.1,888.5 238.6,889.4 239.1,889.9 239.7,890.0 240.2,890.5 240.7,889.6 241.2,889.1 241.7,888.9 242.3,890.7 242.8,886.2 243.3,889.0 243.8,889.2 244.3,887.2 244.9,889.6 245.4,888.2 245.9,890.3 246.4,888.9 247.0,890.0 247.5,890.7 248.0,889.5 248.5,887.8 249.0,886.9 249.6,891.3 250.1,888.8 250.6,888.0 251.1,889.1 251.6,888.6 252.2,890.0 252.7,888.9 253.2,888.8 253.7,887.8 254.2,889.4 254.8,887.4 255.3,889.6 255.8,890.8 256.3,886.6 256.8,885.4 257.4,889.5 257.9,892.1 258.4,887.3 258.9,886.9 259.5,889.4 260.0,887.4 260.5,887.9 261.0,888.1 261.5,889.2 262.1,887.9 262.6,888.8 263.1,888.2 263.6,887.3 264.1,888.0 264.7,887.1 265.2,888.4 265.7,886.8 266.2,886.8 266.7,890.3 267.3,888.2 267.8,888.2 268.3,888.9 268.8,887.6 269.3,887.9 269.9,888.7 270.4,888.5 270.9,886.6 271.4,889.2 272.0,887.3 272.5,886.6 273.0,886.8 273.5,887.5 274.0,890.2 274.6,886.4 275.1,888.2 275.6,885.0 276.1,887.9 276.6,889.1 277.2,887.5 277.7,887.0 278.2,888.1 278.7,888.7 279.2,888.6 279.8,890.4 280.3,888.0 280.8,886.9 281.3,887.5 281.8,887.5 282.4,887.7 282.9,887.5 283.4,887.8 283.9,885.3 284.5,888.6 285.0,886.7 285.5,885.9 286.0,888.3 286.5,889.2 287.1,888.0 287.6,887.6 288.1,886.1 288.6,891.2 289.1,888.5 289.7,885.7 290.2,886.2 290.7,887.3 291.2,885.1 291.7,887.4 292.3,886.5 292.8,888.7 293.3,888.4 293.8,883.4 294.3,887.1 294.9,884.8 295.4,888.5 295.9,887.2 296.4,887.6 297.0,885.4 297.5,889.3 298.0,889.5 298.5,885.4 299.0,887.3 299.6,885.8 300.1,886.7 300.6,885.0 301.1,889.2 301.6,885.3 302.2,886.2 302.7,887.2 303.2,885.7 303.7,886.2 304.2,885.7 304.8,886.3 305.3,884.8 305.8,885.8 306.3,886.1 306.9,885.9 307.4,886.4 307.9,885.9 308.4,887.3 308.9,885.8 309.5,886.0 310.0,885.3 310.5,885.4 311.0,884.4 311.5,886.8 312.1,884.5 312.6,885.0 313.1,886.5 313.6,886.5 314.1,885.4 314.7,883.2 315.2,886.5 315.7,886.2 316.2,883.9 316.7,886.8 317.3,884.8 317.8,884.2 318.3,885.9 318.8,885.5 319.4,885.9 319.9,883.5 320.4,888.1 320.9,884.8 321.4,883.5 322.0,886.4 322.5,885.0 323.0,885.9 323.5,885.0 324.0,885.3 324.6,885.7 325.1,884.3 325.6,886.2 326.1,884.7 326.6,884.1 327.2,885.3 327.7,885.8 328.2,884.9 328.7,884.0 329.2,886.0 329.8,882.7 330.3,883.7 330.8,885.1 331.3,883.2 331.9,885.0 332.4,884.9 332.9,886.1 333.4,883.7 333.9,884.0 334.5,885.3 335.0,881.5 335.5,889.0 336.0,883.8 336.5,883.7 337.1,885.9 337.6,884.6 338.1,882.2 338.6,885.5 339.1,885.7 339.7,883.9 340.2,884.1 340.7,885.1 341.2,883.2 341.7,885.0 342.3,884.7 342.8,883.5 343.3,882.5 343.8,884.0 344.4,883.1 344.9,885.6 345.4,884.4 345.9,885.2 346.4,884.3 347.0,884.5 347.5,883.0 348.0,885.0 348.5,886.4 349.0,883.6 349.6,883.2 350.1,883.7 350.6,883.3 351.1,882.9 351.6,884.0 352.2,883.4 352.7,885.7 353.2,883.7 353.7,884.1 354.3,884.9 354.8,883.2 355.3,885.5 355.8,882.7 356.3,882.4 356.9,882.9 357.4,883.2 357.9,881.4 358.4,883.2 358.9,880.9 359.5,885.0 360.0,882.9 360.5,882.1 361.0,881.6 361.5,882.2 362.1,882.3 362.6,881.0 363.1,880.9 363.6,881.7 364.1,880.9 364.7,882.4 365.2,882.0 365.7,879.6 366.2,878.8 366.8,874.4 367.3,874.4 367.8,870.1 368.3,867.5 368.8,867.0 369.4,862.2 369.9,867.9 370.4,869.3 370.9,874.7 371.4,874.6 372.0,877.5 372.5,879.7 373.0,881.1 373.5,880.9 374.0,880.1 374.6,880.8 375.1,882.9 375.6,881.9 376.1,879.7 376.6,883.2 377.2,882.7 377.7,883.4 378.2,881.8 378.7,883.5 379.3,880.9 379.8,883.2 380.3,881.7 380.8,883.3 381.3,883.8 381.9,881.4 382.4,882.4 382.9,882.5 383.4,884.0 383.9,883.4 384.5,880.8 385.0,883.0 385.5,883.4 386.0,885.3 386.5,880.1 387.1,881.7 387.6,884.2 388.1,880.5 388.6,880.7 389.1,883.0 389.7,883.7 390.2,881.4 390.7,883.0 391.2,882.4 391.8,884.3 392.3,882.3 392.8,883.6 393.3,881.0 393.8,882.0 394.4,882.1 394.9,883.7 395.4,882.9 395.9,881.1 396.4,883.1 397.0,883.2 397.5,882.0 398.0,881.7 398.5,881.8 399.0,879.8 399.6,882.3 400.1,882.3 400.6,880.8 401.1,883.0 401.7,880.1 402.2,881.2 402.7,881.3 403.2,884.6 403.7,879.7 404.3,882.6 404.8,883.1 405.3,882.4 405.8,883.4 406.3,880.5 406.9,878.7 407.4,882.8 407.9,880.1 408.4,881.3 408.9,880.1 409.5,883.1 410.0,882.9 410.5,880.7 411.0,882.9 411.5,881.8 412.1,881.4 412.6,881.7 413.1,881.3 413.6,882.4 414.2,882.0 414.7,881.1 415.2,882.9 415.7,880.7 416.2,881.9 416.8,882.0 417.3,883.4 417.8,880.7 418.3,883.8 418.8,881.6 419.4,881.1 419.9,880.4 420.4,882.1 420.9,881.4 421.4,879.8 422.0,879.8 422.5,880.5 423.0,880.3 423.5,882.7 424.0,883.1 424.6,882.4 425.1,881.7 425.6,880.6 426.1,881.2 426.7,882.3 427.2,884.0 427.7,882.3 428.2,880.7 428.7,881.1 429.3,880.4 429.8,880.0 430.3,880.7 430.8,881.2 431.3,883.4 431.9,881.0 432.4,882.8 432.9,883.3 433.4,881.0 433.9,883.0 434.5,881.8 435.0,880.3 435.5,881.2 436.0,880.8 436.5,880.5 437.1,880.5 437.6,880.9 438.1,881.3 438.6,879.5 439.2,880.7 439.7,878.6 440.2,881.0 440.7,881.5 441.2,880.9 441.8,881.0 442.3,881.4 442.8,879.7 443.3,880.2 443.8,881.2 444.4,881.9 444.9,881.1 445.4,884.0 445.9,880.4 446.4,881.8 447.0,882.2 447.5,880.3 448.0,879.3 448.5,878.8 449.0,880.6 449.6,881.9 450.1,880.8 450.6,880.6 451.1,879.9 451.7,881.1 452.2,877.5 452.7,880.7 453.2,880.4 453.7,878.5 454.3,883.3 454.8,878.4 455.3,878.8 455.8,878.7 456.3,881.8 456.9,879.1 457.4,881.2 457.9,881.1 458.4,880.6 458.9,878.5 459.5,879.4 460.0,882.5 460.5,878.5 461.0,879.1 461.6,880.0 462.1,881.4 462.6,880.6 463.1,881.3 463.6,878.8 464.2,881.6 464.7,881.0 465.2,878.1 465.7,882.4 466.2,883.4 466.8,879.3 467.3,880.4 467.8,882.2 468.3,878.3 468.8,877.7 469.4,878.6 469.9,879.6 470.4,879.6 470.9,881.2 471.4,880.8 472.0,878.7 472.5,881.2 473.0,883.0 473.5,882.1 474.1,881.8 474.6,880.5 475.1,881.9 475.6,879.3 476.1,881.6 476.7,880.5 477.2,882.1 477.7,881.3 478.2,879.2 478.7,880.9 479.3,882.4 479.8,879.2 480.3,880.0 480.8,879.8 481.3,878.8 481.9,882.2 482.4,882.7 482.9,882.0 483.4,881.3 483.9,880.9 484.5,881.3 485.0,880.1 485.5,882.3 486.0,882.5 486.6,882.4 487.1,880.5 487.6,881.3 488.1,881.0 488.6,883.7 489.2,881.6 489.7,878.8 490.2,881.9 490.7,884.0 491.2,882.4 491.8,882.7 492.3,881.6 492.8,878.9 493.3,879.2 493.8,880.0 494.4,881.6 494.9,882.2 495.4,882.7 495.9,881.4 496.4,883.2 497.0,881.6 497.5,881.0 498.0,883.2 498.5,880.8 499.1,878.4 499.6,880.7 500.1,882.3 500.6,878.1 501.1,881.8 501.7,881.9 502.2,880.5 502.7,880.4 503.2,881.9 503.7,881.8 504.3,884.3 504.8,883.1 505.3,880.5 505.8,881.6 506.3,883.7 506.9,885.4 507.4,883.4 507.9,883.3 508.4,885.5 509.0,883.0 509.5,882.7 510.0,881.2 510.5,882.5 511.0,886.2 511.6,881.4 512.1,883.3 512.6,881.5 513.1,883.6 513.6,884.7 514.2,883.2 514.7,884.6 515.2,884.6 515.7,884.3 516.2,886.1 516.8,884.9 517.3,883.5 517.8,883.0 518.3,882.9 518.8,884.7 519.4,883.7 519.9,887.8 520.4,886.7 520.9,884.0 521.5,883.9 522.0,886.7 522.5,881.9 523.0,883.9 523.5,885.9 524.1,883.4 524.6,884.1 525.1,884.3 525.6,885.7 526.1,885.1 526.7,885.5 527.2,885.8 527.7,885.1 528.2,886.7 528.7,884.3 529.3,883.4 529.8,883.0 530.3,883.3 530.8,884.8 531.3,887.0 531.9,885.9 532.4,884.9 532.9,884.4 533.4,885.2 534.0,885.4 534.5,885.3 535.0,884.2 535.5,885.5 536.0,887.6 536.6,883.4 537.1,886.1 537.6,883.6 538.1,886.8 538.6,885.6 539.2,883.9 539.7,886.9 540.2,889.2 540.7,887.1 541.2,888.5 541.8,887.0 542.3,884.3 542.8,887.9 543.3,886.7 543.8,885.5 544.4,888.5 544.9,887.9 545.4,886.9 545.9,888.8 546.5,886.6 547.0,888.7 547.5,886.7 548.0,888.7 548.5,886.7 549.1,890.1 549.6,888.6 550.1,890.2 550.6,887.4 551.1,887.9 551.7,889.7 552.2,885.1 552.7,887.4 553.2,890.2 553.7,889.5 554.3,890.3 554.8,888.7 555.3,889.9 555.8,888.3 556.3,887.6 556.9,887.3 557.4,888.8 557.9,888.9 558.4,888.9 559.0,885.2 559.5,887.3 560.0,889.2 560.5,890.3 561.0,889.3 561.6,889.1 562.1,887.3 562.6,892.8 563.1,889.0 563.6,892.6 564.2,892.5 564.7,891.0 565.2,890.0 565.7,891.0 566.2,889.5 566.8,891.3 567.3,891.0 567.8,891.8 568.3,892.4 568.9,893.4 569.4,890.9 569.9,892.7 570.4,890.6 570.9,890.5 571.5,890.9 572.0,890.6 572.5,893.0 573.0,893.0 573.5,893.5 574.1,892.0 574.6,892.5 575.1,891.5 575.6,890.9 576.1,892.9 576.7,892.7 577.2,891.2 577.7,893.3 578.2,890.7 578.7,892.5 579.3,892.1 579.8,892.3 580.3,891.7 580.8,894.1 581.4,893.7 581.9,894.5 582.4,893.4 582.9,891.9 583.4,893.0 584.0,892.1 584.5,894.0 585.0,894.9 585.5,894.0 586.0,893.0 586.6,893.4 587.1,894.0 587.6,892.3 588.1,894.1 588.6,894.2 589.2,893.5 589.7,893.7 590.2,894.4 590.7,893.4 591.2,893.5 591.8,895.2 592.3,894.7 592.8,896.2 593.3,893.5 593.9,892.8 594.4,895.6 594.9,895.6 595.4,894.0 595.9,893.3 596.5,894.8 597.0,893.2 597.5,894.6 598.0,892.8 598.5,894.8 599.1,893.0 599.6,894.8 600.1,896.5 600.6,894.9 601.1,895.9 601.7,894.5 602.2,894.3 602.7,893.8 603.2,896.1 603.7,895.1 604.3,896.6 604.8,894.0 605.3,894.9 605.8,895.1 606.4,896.2 606.9,896.5 607.4,894.2 607.9,893.6 608.4,892.9 609.0,895.4 609.5,893.9 610.0,893.0 610.5,893.1 611.0,890.4 611.6,890.4 612.1,891.7 612.6,889.9 613.1,887.8 613.6,884.4 614.2,882.5 614.7,879.4 615.2,871.9 615.7,867.6 616.3,862.4 616.8,860.4 617.3,859.9 617.8,861.9 618.3,865.0 618.9,870.4 619.4,874.9 619.9,879.9 620.4,883.8 620.9,887.4 621.5,888.7 622.0,890.7 622.5,893.2 623.0,893.2 623.5,894.0 624.1,895.5 624.6,895.6 625.1,895.9 625.6,896.3 626.1,895.5 626.7,897.1 627.2,898.0 627.7,897.7 628.2,896.1 628.8,897.8 629.3,897.0 629.8,897.7 630.3,898.1 630.8,897.2 631.4,899.3 631.9,898.3 632.4,899.1 632.9,899.1 633.4,899.7 634.0,899.7 634.5,897.7 635.0,898.9 635.5,897.3 636.0,898.7 636.6,899.7 637.1,899.9 637.6,900.3 638.1,899.1 638.6,899.7 639.2,899.6 639.7,900.5 640.2,900.8 640.7,899.4 641.3,902.6 641.8,899.8 642.3,899.5 642.8,900.3 643.3,900.5 643.9,900.4 644.4,899.5 644.9,901.2 645.4,900.2 645.9,901.4 646.5,901.3 647.0,899.3 647.5,899.6 648.0,899.6 648.5,900.6 649.1,900.5 649.6,900.7 650.1,899.9 650.6,900.9 651.1,901.7 651.7,899.7 652.2,900.6 652.7,900.9 653.2,900.7 653.8,900.7 654.3,902.2 654.8,901.9 655.3,901.6 655.8,900.4 656.4,902.7 656.9,901.3 657.4,900.7 657.9,900.9 658.4,900.8 659.0,902.8 659.5,901.4 660.0,901.3 660.5,899.7 661.0,901.9 661.6,900.6 662.1,900.5 662.6,901.9 663.1,900.8 663.7,902.1 664.2,902.4 664.7,900.2 665.2,901.5 665.7,900.4 666.3,901.6 666.8,902.3 667.3,900.7 667.8,903.1 668.3,901.5 668.9,900.9 669.4,901.7 669.9,902.4 670.4,900.8 670.9,901.9 671.5,900.8 672.0,902.8 672.5,902.0 673.0,901.6 673.5,902.7 674.1,901.0 674.6,901.7 675.1,903.4 675.6,901.9 676.2,903.1 676.7,902.2 677.2,901.6 677.7,901.9 678.2,902.2 678.8,901.8 679.3,901.5 679.8,901.6 680.3,901.0 680.8,902.3 681.4,902.5 681.9,902.8 682.4,900.9 682.9,902.8 683.4,902.2 684.0,901.2 684.5,902.3 685.0,902.9 685.5,902.7 686.0,902.8 686.6,903.0 687.1,903.0 687.6,902.3 688.1,900.7 688.7,901.7 689.2,902.6 689.7,901.9 690.2,902.8 690.7,902.9 691.3,902.3 691.8,903.7 692.3,901.6 692.8,903.0 693.3,901.9 693.9,901.7 694.4,902.7 694.9,901.8 695.4,902.9 695.9,901.4 696.5,902.3 697.0,901.6 697.5,902.1 698.0,902.0 698.5,901.4 699.1,902.7 699.6,901.3 700.1,901.4 700.6,902.8 701.2,902.9 701.7,902.6 702.2,902.3 702.7,903.8 703.2,901.1 703.8,901.4 704.3,901.2 704.8,902.6 705.3,902.1 705.8,902.7 706.4,902.5 706.9,901.6 707.4,901.1 707.9,900.9 708.4,903.2 709.0,902.2 709.5,901.9 710.0,901.1 710.5,901.1 711.0,900.9 711.6,900.8 712.1,899.2 712.6,900.8 713.1,900.4 713.7,900.8 714.2,900.5 714.7,900.8 715.2,900.0 715.7,900.3 716.3,897.6 716.8,898.4 717.3,900.1 717.8,897.6 718.3,897.8 718.9,898.1 719.4,896.3 719.9,896.9 720.4,894.5 720.9,893.3 721.5,892.6 722.0,891.1 722.5,890.8 723.0,888.7 723.6,886.8 724.1,882.7 724.6,881.4 725.1,874.1 725.6,867.0 726.2,858.0 726.7,845.3 727.2,829.7 727.7,812.0 728.2,793.3 728.8,776.3 729.3,766.7 729.8,764.7 730.3,770.7 730.8,783.7 731.4,796.4 731.9,813.5 732.4,830.3 732.9,845.5 733.4,855.6 734.0,865.7 734.5,873.1 735.0,878.7 735.5,881.3 736.1,886.3 736.6,886.7 737.1,891.1 737.6,892.9 738.1,894.2 738.7,894.0 739.2,896.5 739.7,895.9 740.2,896.3 740.7,897.1 741.3,897.7 741.8,898.9 742.3,899.8 742.8,897.9 743.3,899.4 743.9,900.8 744.4,900.5 744.9,900.9 745.4,899.6 745.9,901.7 746.5,899.9 747.0,901.4 747.5,902.4 748.0,902.9 748.6,902.0 749.1,902.4 749.6,901.4 750.1,901.5 750.6,902.9 751.2,902.0 751.7,902.0 752.2,901.1 752.7,902.3 753.2,902.7 753.8,901.6 754.3,901.9 754.8,903.4 755.3,902.4 755.8,902.0 756.4,901.3 756.9,901.6 757.4,901.8 757.9,902.8 758.4,901.1 759.0,902.6 759.5,900.1 760.0,900.0 760.5,900.2 761.1,898.4 761.6,896.9 762.1,896.2 762.6,895.8 763.1,893.7 763.7,894.9 764.2,895.4 764.7,895.9 765.2,897.6 765.7,897.7 766.3,898.8 766.8,900.0 767.3,901.3 767.8,901.2 768.3,903.0 768.9,901.5 769.4,903.4 769.9,902.0 770.4,902.7 771.0,903.3 771.5,904.6 772.0,903.9 772.5,903.0 773.0,904.3 773.6,903.3 774.1,902.9 774.6,903.9 775.1,903.7 775.6,904.3 776.2,903.3 776.7,904.0 777.2,904.2 777.7,904.0 778.2,903.8 778.8,903.3 779.3,904.5 779.8,904.0 780.3,904.3 780.8,903.7 781.4,904.0 781.9,903.2 782.4,904.1 782.9,904.6 783.5,904.1 784.0,904.7 784.5,904.3 785.0,905.1 785.5,904.0 786.1,902.9 786.6,904.5 787.1,904.0 787.6,903.4 788.1,904.7 788.7,904.4 789.2,904.5 789.7,904.0 790.2,904.4 790.7,904.4 791.3,905.6 791.8,903.8 792.3,904.3 792.8,904.6 793.3,903.0 793.9,903.1 794.4,906.0 794.9,903.0 795.4,904.8 796.0,903.7 796.5,903.8 797.0,902.9 797.5,903.7 798.0,905.0 798.6,903.4 799.1,904.9 799.6,904.7 800.1,906.0 800.6,904.1 801.2,905.4 801.7,905.2 802.2,904.3 802.7,903.3 803.2,905.7 803.8,903.5 804.3,904.2 804.8,905.2 805.3,905.4 805.8,903.9 806.4,904.6 806.9,904.4 807.4,905.5 807.9,906.5 808.5,903.3 809.0,905.3 809.5,902.5 810.0,904.7 810.5,903.8 811.1,906.2 811.6,904.8 812.1,904.1 812.6,904.3 813.1,904.3 813.7,904.8 814.2,904.6 814.7,905.2 815.2,905.9 815.7,905.3 816.3,903.8 816.8,903.5 817.3,904.2 817.8,905.5 818.4,904.5 818.9,904.3 819.4,904.9 819.9,903.7 820.4,903.9 821.0,905.2 821.5,904.6 822.0,904.5 822.5,905.0 823.0,904.4 823.6,904.3 824.1,904.5 824.6,905.3 825.1,904.9 825.6,903.9 826.2,904.6 826.7,905.3 827.2,906.3 827.7,904.0 828.2,905.1 828.8,904.7 829.3,905.5 829.8,905.2 830.3,906.0 830.9,905.3 831.4,904.5 831.9,904.5 832.4,905.2 832.9,905.2 833.5,906.7 834.0,906.2 834.5,904.0 835.0,905.2 835.5,903.9 836.1,903.7 836.6,905.5 837.1,905.3 837.6,904.1 838.1,906.2 838.7,904.2 839.2,904.0 839.7,905.4 840.2,905.1 840.7,904.8 841.3,904.9 841.8,905.1 842.3,904.8 842.8,904.8 843.4,903.5 843.9,903.9 844.4,905.4 844.9,904.4 845.4,905.3 846.0,905.9 846.5,904.7 847.0,905.2 847.5,906.5 848.0,905.5 848.6,906.3 849.1,906.1 849.6,905.5 850.1,904.9 850.6,904.3 851.2,904.1 851.7,905.3 852.2,905.3 852.7,904.8 853.2,905.6 853.8,904.5 854.3,905.8 854.8,905.0 855.3,904.9 855.9,904.9 856.4,904.8 856.9,906.8 857.4,903.7 857.9,905.0 858.5,905.8 859.0,905.4 859.5,904.7 860.0,906.2 860.5,904.1 861.1,903.9 861.6,905.3 862.1,903.8 862.6,903.1 863.1,905.5 863.7,905.4 864.2,905.4 864.7,904.5 865.2,904.9 865.7,904.1 866.3,906.1 866.8,905.4 867.3,905.3 867.8,903.3 868.4,905.3 868.9,905.8 869.4,905.6 869.9,905.2 870.4,904.6 871.0,904.3 871.5,905.0 872.0,904.8 872.5,904.7 873.0,904.2 873.6,905.7 874.1,903.5 874.6,904.3 875.1,903.8 875.6,904.9 876.2,905.2 876.7,904.9 877.2,904.5 877.7,902.8 878.3,905.3 878.8,903.9 879.3,903.3 879.8,903.2 880.3,902.8 880.9,903.1 881.4,902.7 881.9,901.9 882.4,899.9 882.9,901.3 883.5,901.1 884.0,900.4 884.5,898.9 885.0,898.1 885.5,897.0 886.1,893.8 886.6,892.8 887.1,887.0 887.6,883.8 888.1,879.9 888.7,874.5 889.2,872.0 889.7,871.6 890.2,871.3 890.8,871.5 891.3,874.7 891.8,876.2 892.3,878.8 892.8,882.9 893.4,886.3 893.9,890.2 894.4,891.4 894.9,895.6 895.4,896.3 896.0,898.8 896.5,898.2 897.0,899.9 897.5,901.0 898.0,902.2 898.6,901.1 899.1,903.6 899.6,903.1 900.1,902.6 900.6,904.1 901.2,903.5 901.7,904.4 902.2,905.5 902.7,904.4 903.3,903.6 903.8,903.8 904.3,904.6 904.8,904.5 905.3,903.7 905.9,903.9 906.4,905.0 906.9,906.3 907.4,902.6 907.9,905.2 908.5,904.5 909.0,905.3 909.5,905.4 910.0,904.8 910.5,904.1 911.1,903.8 911.6,903.5 912.1,905.8 912.6,904.8 913.1,904.6 913.7,904.8 914.2,904.0 914.7,905.3 915.2,906.0 915.8,905.9 916.3,903.9 916.8,906.1 917.3,904.5 917.8,903.7 918.4,904.2 918.9,904.4 919.4,905.2 919.9,904.4 920.4,904.1 921.0,905.0 921.5,906.7 922.0,904.7 922.5,905.6 923.0,905.3 923.6,907.3 924.1,903.8 924.6,906.1 925.1,904.3 925.7,904.8 926.2,905.2 926.7,907.7 927.2,904.7 927.7,903.9 928.3,906.3 928.8,904.7 929.3,905.2 929.8,905.3 930.3,905.4 930.9,905.2 931.4,905.6 931.9,905.7 932.4,906.0 932.9,905.1 933.5,904.8 934.0,904.6 934.5,905.8 935.0,905.4 935.5,905.8 936.1,905.8 936.6,906.7 937.1,905.6 937.6,906.0 938.2,904.5 938.7,904.6 939.2,905.2 939.7,904.5 940.2,906.0 940.8,904.5 941.3,905.5 941.8,903.6 942.3,904.6 942.8,905.2 943.4,905.3 943.9,904.1 944.4,905.6 944.9,906.2 945.4,906.0 946.0,905.0 946.5,905.1 947.0,904.6 947.5,906.0 948.0,906.6 948.6,905.1 949.1,904.3 949.6,905.7 950.1,906.1 950.7,903.5 951.2,905.6 951.7,907.2 952.2,906.2 952.7,906.0 953.3,905.9 953.8,906.4 954.3,904.9 954.8,904.9 955.3,905.9 955.9,905.1 956.4,905.8 956.9,904.1 957.4,906.2 957.9,906.2 958.5,905.6 959.0,905.7 959.5,906.8 960.0,904.8 960.5,904.9 961.1,904.8 961.6,905.3 962.1,904.9 962.6,905.6 963.2,905.1 963.7,904.5 964.2,904.5 964.7,906.5 965.2,905.6 965.8,905.5 966.3,905.7 966.8,905.6 967.3,906.2 967.8,906.1 968.4,905.2 968.9,905.0 969.4,904.8 969.9,904.7 970.4,906.7 971.0,905.0 971.5,904.2 972.0,905.0 972.5,905.1 973.0,905.9 973.6,905.0 974.1,906.1 974.6,906.0 975.1,906.6 975.7,907.3 976.2,907.8 976.7,906.7 977.2,904.8 977.7,905.4 978.3,905.9 978.8,907.3 979.3,906.2 979.8,906.6 980.3,905.6 980.9,906.2 981.4,906.3 981.9,905.4 982.4,906.3 982.9,906.5 983.5,905.6 984.0,906.5 984.5,907.0 985.0,905.8 985.6,905.7 986.1,905.5 986.6,905.3 987.1,905.9 987.6,905.4 988.2,905.5 988.7,905.2 989.2,904.6 989.7,905.1 990.2,906.0 990.8,904.9 991.3,905.3 991.8,907.0 992.3,906.6 992.8,905.3 993.4,906.2 993.9,905.3 994.4,907.0 994.9,905.4 995.4,905.9 996.0,906.8 996.5,905.2 997.0,906.8 997.5,905.2 998.1,906.0 998.6,905.6 999.1,905.7 999.6,905.9 1000.1,905.8 1000.7,905.1 1001.2,906.5 1001.7,906.4 1002.2,906.8 1002.7,906.9 1003.3,904.8 1003.8,906.8 1004.3,906.8 1004.8,905.4 1005.3,906.6 1005.9,906.9 1006.4,905.4 1006.9,904.8 1007.4,905.6 1007.9,907.9 1008.5,906.0 1009.0,904.9 1009.5,905.7 1010.0,905.1 1010.6,905.6 1011.1,905.9 1011.6,903.9 1012.1,906.1 1012.6,906.9 1013.2,905.7 1013.7,905.6 1014.2,906.7 1014.7,904.9 1015.2,904.9 1015.8,904.8 1016.3,905.8 1016.8,906.2 1017.3,905.8 1017.8,906.3 1018.4,906.5 1018.9,906.3 1019.4,905.3 1019.9,905.7 1020.4,906.8 1021.0,905.1 1021.5,905.7 1022.0,905.6 1022.5,905.8 1023.1,905.1 1023.6,904.9 1024.1,907.8 1024.6,906.6 1025.1,905.4 1025.7,905.9 1026.2,906.4 1026.7,905.7 1027.2,906.4 1027.7,905.5 1028.3,905.7 1028.8,905.9 1029.3,905.6 1029.8,904.1 1030.3,906.0 1030.9,906.1 1031.4,906.3 1031.9,905.2 1032.4,906.2 1033.0,906.1 1033.5,904.6 1034.0,904.3 1034.5,906.3 1035.0,905.2 1035.6,906.7 1036.1,907.6 1036.6,905.5 1037.1,905.4 1037.6,905.9 1038.2,906.5 1038.7,905.1 1039.2,906.9 1039.7,906.7 1040.2,906.5 1040.8,905.6 1041.3,906.6 1041.8,906.6 1042.3,905.1 1042.8,907.5 1043.4,905.7 1043.9,906.2 1044.4,905.6 1044.9,906.3 1045.5,906.8 1046.0,905.4 1046.5,904.7 1047.0,905.6 1047.5,905.0 1048.1,905.4 1048.6,905.9 1049.1,905.9 1049.6,906.9 1050.1,905.2 1050.7,906.2 1051.2,905.6 1051.7,907.0 1052.2,907.9 1052.7,906.2 1053.3,907.2 1053.8,905.6 1054.3,904.8 1054.8,905.0 1055.3,904.8 1055.9,905.3 1056.4,905.8 1056.9,906.8 1057.4,906.5 1058.0,906.3 1058.5,905.7 1059.0,905.4 1059.5,906.0 1060.0,906.1 1060.6,906.2 1061.1,906.3 1061.6,905.9 1062.1,904.5 1062.6,905.1 1063.2,905.4 1063.7,907.3 1064.2,905.7 1064.7,906.5 1065.2,907.1 1065.8,906.2 1066.3,905.7 1066.8,905.8 1067.3,905.2 1067.8,906.2 1068.4,906.8 1068.9,906.4 1069.4,906.6 1069.9,906.5 1070.5,907.5 1071.0,905.5 1071.5,906.1 1072.0,906.5 1072.5,906.9 1073.1,904.1 1073.6,905.6 1074.1,905.8 1074.6,905.2 1075.1,906.6 1075.7,906.1 1076.2,905.7 1076.7,904.7 1077.2,905.0 1077.7,905.2 1078.3,906.3 1078.8,905.0 1079.3,904.4 1079.8,904.8 1080.4,905.5 1080.9,907.2 1081.4,907.8 1081.9,905.5 1082.4,906.6 1083.0,906.9 1083.5,906.8 1084.0,905.8 1084.5,904.9 1085.0,905.5 1085.6,904.4 1086.1,906.0 1086.6,906.4 1087.1,904.4 1087.6,905.8 1088.2,906.0 1088.7,906.7 1089.2,906.8 1089.7,906.3 1090.2,905.2 1090.8,905.4 1091.3,906.5 1091.8,905.2 1092.3,905.6 1092.9,906.7 1093.4,905.6 1093.9,904.4 1094.4,905.2 1094.9,905.8 1095.5,905.1 1096.0,906.1 1096.5,906.1 1097.0,904.5 1097.5,904.5 1098.1,904.7 1098.6,903.7 1099.1,904.7 1099.6,904.0 1100.1,904.4 1100.7,903.0 1101.2,902.3 1101.7,903.7 1102.2,900.9 1102.7,900.2 1103.3,899.0 1103.8,898.1 1104.3,896.3 1104.8,895.6 1105.4,894.0 1105.9,893.5 1106.4,893.9 1106.9,894.4 1107.4,894.7 1108.0,894.4 1108.5,896.0 1109.0,896.5 1109.5,897.5 1110.0,897.3 1110.6,900.2 1111.1,900.6 1111.6,902.8 1112.1,902.8 1112.6,902.1 1113.2,902.4 1113.7,904.6 1114.2,903.5 1114.7,904.9 1115.2,904.4 1115.8,906.3 1116.3,905.0 1116.8,906.2 1117.3,906.1 1117.9,904.9 1118.4,905.1 1118.9,906.5 1119.4,905.4 1119.9,904.8 1120.5,906.4 1121.0,907.5 1121.5,905.6 1122.0,906.7 1122.5,905.6 1123.1,906.7 1123.6,905.6 1124.1,906.8 1124.6,906.2 1125.1,905.7 1125.7,906.0 1126.2,905.4 1126.7,905.0 1127.2,905.1 1127.7,905.9 1128.3,905.1 1128.8,906.2 1129.3,906.3 1129.8,906.3 1130.4,905.6 1130.9,906.0 1131.4,905.9 1131.9,907.0 1132.4,905.4 1133.0,905.7 1133.5,905.8 1134.0,905.9 1134.5,905.4 1135.0,905.5 1135.6,906.8 1136.1,905.5 1136.6,906.7 1137.1,907.5 1137.6,907.0 1138.2,904.7 1138.7,906.6 1139.2,906.4 1139.7,906.4 1140.3,904.8 1140.8,906.6 1141.3,905.2 1141.8,907.0 1142.3,906.8 1142.9,907.9 1143.4,905.7 1143.9,904.9 1144.4,906.8 1144.9,906.6 1145.5,905.7 1146.0,907.0 1146.5,906.5 1147.0,905.0 1147.5,905.7 1148.1,905.6 1148.6,905.9 1149.1,906.1 1149.6,905.4 1150.1,905.8 1150.7,906.4 1151.2,905.9 1151.7,905.7 1152.2,905.7 1152.8,905.8 1153.3,904.4 1153.8,906.0 1154.3,905.1 1154.8,905.9 1155.4,904.7 1155.9,906.5 1156.4,905.9 1156.9,904.7 1157.4,905.9 1158.0,905.1 1158.5,907.0 1159.0,906.0 1159.5,905.0 1160.0,905.7 1160.6,905.5 1161.1,906.4 1161.6,905.7 1162.1,905.8 1162.6,904.5 1163.2,905.9 1163.7,906.8 1164.2,905.6 1164.7,905.1 1165.3,905.1 1165.8,904.2 1166.3,904.9 1166.8,903.9 1167.3,904.6 1167.9,904.1 1168.4,903.6 1168.9,904.5 1169.4,902.7 1169.9,903.5 1170.5,902.3 1171.0,904.3 1171.5,904.0 1172.0,902.6 1172.5,902.8 1173.1,901.0 1173.6,900.0 1174.1,898.0 1174.6,896.1 1175.1,894.9 1175.7,891.9 1176.2,889.0 1176.7,886.2 1177.2,881.5 1177.8,876.1 1178.3,873.1 1178.8,869.9 1179.3,869.1 1179.8,869.1 1180.4,872.3 1180.9,874.7 1181.4,874.3 1181.9,877.7 1182.4,880.2 1183.0,881.9 1183.5,886.0 1184.0,890.2 1184.5,892.6 1185.0,895.6 1185.6,895.5 1186.1,897.5 1186.6,899.6 1187.1,900.6 1187.7,901.2 1188.2,901.6 1188.7,902.1 1189.2,902.4 1189.7,903.6 1190.3,901.5 1190.8,905.0 1191.3,903.7 1191.8,903.2 1192.3,904.8 1192.9,903.5 1193.4,905.0 1193.9,904.5 1194.4,905.4 1194.9,905.6 1195.5,906.1 1196.0,904.8 1196.5,905.1 1197.0,905.3 1197.5,904.4 1198.1,905.9 1198.6,905.6 1199.1,904.6 1199.6,906.5 1200.2,906.7 1200.7,904.7 1201.2,906.2 1201.7,906.7 1202.2,906.4 1202.8,905.1 1203.3,904.8 1203.8,905.8 1204.3,905.5 1204.8,905.9 1205.4,905.8 1205.9,906.3 1206.4,905.5 1206.9,905.9 1207.4,908.2 1208.0,905.9 1208.5,906.6 1209.0,906.2 1209.5,906.2 1210.0,905.4 1210.6,906.5 1211.1,906.0 1211.6,906.7 1212.1,907.6 1212.7,906.2 1213.2,906.7 1213.7,905.4 1214.2,906.2 1214.7,907.3 1215.3,906.1 1215.8,905.7 1216.3,906.3 1216.8,906.0 1217.3,906.0 1217.9,905.9 1218.4,907.7 1218.9,905.5 1219.4,905.9 1219.9,905.8 1220.5,907.1 1221.0,906.0 1221.5,907.2 1222.0,906.3 1222.5,906.2 1223.1,905.1 1223.6,907.1 1224.1,906.6 1224.6,906.5 1225.2,906.2 1225.7,905.9 1226.2,905.3 1226.7,907.0 1227.2,906.5 1227.8,906.0 1228.3,905.8 1228.8,906.4 1229.3,906.2 1229.8,907.5 1230.4,906.9 1230.9,905.8 1231.4,905.4 1231.9,906.1 1232.4,905.6 1233.0,906.3 1233.5,906.6 1234.0,906.8 1234.5,906.6 1235.1,906.1 1235.6,906.7 1236.1,905.6 1236.6,906.2 1237.1,906.9 1237.7,906.5 1238.2,905.3 1238.7,905.4 1239.2,905.1 1239.7,907.7 1240.3,905.1 1240.8,906.2 1241.3,907.7 1241.8,907.1 1242.3,907.3 1242.9,905.9 1243.4,906.9 1243.9,908.6 1244.4,906.3 1244.9,906.6 1245.5,906.1 1246.0,906.3 1246.5,906.6 1247.0,907.3 1247.6,905.6 1248.1,905.2 1248.6,906.3 1249.1,906.4 1249.6,907.3 1250.2,906.8 1250.7,905.8 1251.2,906.7 1251.7,907.1 1252.2,906.5 1252.8,906.0 1253.3,906.8 1253.8,906.0 1254.3,904.9 1254.8,907.3 1255.4,905.3 1255.9,906.0 1256.4,906.0 1256.9,906.0 1257.4,906.0 1258.0,905.2 1258.5,906.6 1259.0,906.2 1259.5,906.2 1260.1,907.0 1260.6,907.0 1261.1,907.2 1261.6,907.6 1262.1,906.5 1262.7,905.0 1263.2,906.3 1263.7,906.2 1264.2,906.2 1264.7,905.7 1265.3,905.4 1265.8,906.7 1266.3,906.8 1266.8,905.2 1267.3,906.5 1267.9,905.9 1268.4,905.7 1268.9,906.5 1269.4,906.0 1269.9,905.6 1270.5,906.0 1271.0,904.4 1271.5,905.5 1272.0,905.6 1272.6,904.8 1273.1,906.0 1273.6,906.0 1274.1,905.3 1274.6,905.6 1275.2,906.2 1275.7,906.5 1276.2,905.0 1276.7,905.8 1277.2,906.3 1277.8,905.4 1278.3,904.8 1278.8,904.8 1279.3,905.0 1279.8,904.4 1280.4,906.6 1280.9,904.6 1281.4,905.2 1281.9,905.0 1282.4,905.2 1283.0,904.3 1283.5,903.5 1284.0,905.5 1284.5,904.1 1285.1,904.0 1285.6,903.9 1286.1,904.4 1286.6,903.8 1287.1,903.8 1287.7,903.2 1288.2,902.2 1288.7,901.8 1289.2,900.5 1289.7,898.9 1290.3,899.3 1290.8,897.6 1291.3,899.0 1291.8,896.6 1292.3,894.2 1292.9,890.4 1293.4,889.2 1293.9,882.5 1294.4,878.4 1295.0,873.6 1295.5,868.0 1296.0,863.7 1296.5,859.7 1297.0,858.8 1297.6,858.0 1298.1,859.7 1298.6,861.3 1299.1,863.2 1299.6,865.1 1300.2,866.9 1300.7,870.3 1301.2,874.1 1301.7,878.9 1302.2,881.0 1302.8,884.9 1303.3,889.4 1303.8,891.1 1304.3,894.5 1304.8,895.8 1305.4,897.0 1305.9,897.8 1306.4,899.7 1306.9,900.1 1307.5,900.8 1308.0,901.4 1308.5,902.5 1309.0,902.8 1309.5,901.8 1310.1,903.2 1310.6,903.9 1311.1,904.6 1311.6,904.6 1312.1,904.3 1312.7,903.5 1313.2,903.9 1313.7,905.3 1314.2,904.2 1314.7,905.5 1315.3,905.8 1315.8,904.1 1316.3,905.3 1316.8,904.9 1317.3,906.5 1317.9,905.7 1318.4,904.6 1318.9,905.3 1319.4,904.3 1320.0,904.8 1320.5,905.0 1321.0,904.8 1321.5,904.8 1322.0,903.8 1322.6,902.9 1323.1,903.8 1323.6,903.3 1324.1,903.3 1324.6,905.3 1325.2,904.5 1325.7,903.5 1326.2,902.6 1326.7,902.8 1327.2,904.1 1327.8,904.8 1328.3,903.9 1328.8,904.3 1329.3,904.6 1329.8,905.4 1330.4,903.4 1330.9,905.1 1331.4,905.4 1331.9,906.0 1332.5,905.7 1333.0,904.7 1333.5,905.2 1334.0,904.6 1334.5,906.0 1335.1,906.1 1335.6,906.4 1336.1,905.3 1336.6,905.2 1337.1,907.3 1337.7,906.3 1338.2,907.5 1338.7,906.5 1339.2,905.1 1339.7,906.9 1340.3,907.2 1340.8,906.0 1341.3,904.9 1341.8,906.8 1342.4,906.3 1342.9,906.6 1343.4,904.4 1343.9,906.7 1344.4,904.4 1345.0,905.8 1345.5,907.1 1346.0,905.1 1346.5,905.1 1347.0,906.1 1347.6,907.7 1348.1,907.7 1348.6,906.0 1349.1,907.3 1349.6,906.9 1350.2,906.7 1350.7,906.8 1351.2,906.0 1351.7,907.1 1352.2,907.3 1352.8,908.6 1353.3,907.2 1353.8,904.7 1354.3,905.7 1354.9,906.8 1355.4,906.6 1355.9,905.2 1356.4,906.5 1356.9,906.3 1357.5,906.6 1358.0,906.5 1358.5,907.3 1359.0,907.7 1359.5,907.1 1360.1,905.8 1360.6,906.0 1361.1,906.1 1361.6,906.6 1362.1,906.3 1362.7,906.4 1363.2,906.0 1363.7,907.4 1364.2,907.3 1364.7,907.4 1365.3,906.6 1365.8,907.0 1366.3,906.0 1366.8,905.9 1367.4,906.3 1367.9,907.1 1368.4,906.6 1368.9,905.8 1369.4,906.8 1370.0,907.0 1370.5,906.8 1371.0,906.2 1371.5,906.7 1372.0,906.4 1372.6,906.5 1373.1,906.6 1373.6,907.3 1374.1,908.1 1374.6,907.9 1375.2,907.2 1375.7,906.4 1376.2,906.5 1376.7,906.5 1377.2,907.6 1377.8,904.7 1378.3,906.9 1378.8,905.2 1379.3,906.7 1379.9,907.7 1380.4,906.1 1380.9,905.0 1381.4,907.7 1381.9,907.9 1382.5,907.1 1383.0,907.7 1383.5,906.2 1384.0,907.6 1384.5,908.0 1385.1,907.2 1385.6,907.0 1386.1,907.7 1386.6,907.6 1387.1,906.2 1387.7,907.8 1388.2,907.3 1388.7,906.9 1389.2,907.8 1389.7,907.5 1390.3,907.3 1390.8,906.4 1391.3,907.4 1391.8,906.0 1392.4,906.7 1392.9,905.5 1393.4,905.5 1393.9,907.1 1394.4,906.7 1395.0,906.9 1395.5,907.2 1396.0,907.1 1396.5,906.1 1397.0,906.9 1397.6,906.8 1398.1,906.4 1398.6,906.7 1399.1,906.5 1399.6,906.3 1400.2,906.6 1400.7,907.0 1401.2,908.4 1401.7,906.2 1402.3,907.2 1402.8,905.7 1403.3,908.0 1403.8,906.6 1404.3,906.9 1404.9,907.8 1405.4,907.6 1405.9,905.7 1406.4,907.3 1406.9,906.7 1407.5,907.3 1408.0,907.0 1408.5,907.4 1409.0,907.1 1409.5,906.7 1410.1,907.7 1410.6,905.7 1411.1,906.5 1411.6,906.1 1412.1,906.7 1412.7,906.5 1413.2,906.7 1413.7,906.5 1414.2,906.5 1414.8,905.6 1415.3,906.8 1415.8,907.1 1416.3,906.4 1416.8,906.4 1417.4,906.4 1417.9,908.1 1418.4,907.0 1418.9,907.2 1419.4,906.6 1420.0,906.5 1420.5,906.2 1421.0,908.0 1421.5,905.6 1422.0,907.1 1422.6,906.9 1423.1,906.7 1423.6,905.7 1424.1,905.9 1424.6,907.6 1425.2,906.4 1425.7,907.5 1426.2,907.4 1426.7,907.3 1427.3,907.5 1427.8,906.0 1428.3,906.5 1428.8,907.4 1429.3,905.9 1429.9,908.1 1430.4,906.5 1430.9,906.8 1431.4,906.1 1431.9,907.2 1432.5,906.3 1433.0,906.7 1433.5,906.0 1434.0,907.8 1434.5,905.7 1435.1,907.2 1435.6,907.1 1436.1,907.2 1436.6,906.1 1437.1,907.7 1437.7,907.6 1438.2,907.0 1438.7,907.1 1439.2,906.8 1439.8,907.4 1440.3,906.3 1440.8,907.3 1441.3,907.2 1441.8,905.8 1442.4,904.9 1442.9,906.8 1443.4,906.8 1443.9,907.8 1444.4,906.9 1445.0,906.5 1445.5,905.9 1446.0,906.8 1446.5,906.4 1447.0,906.0 1447.6,906.8 1448.1,907.7 1448.6,906.9 1449.1,906.1 1449.7,907.1 1450.2,906.0 1450.7,905.7 1451.2,907.2 1451.7,906.4 1452.3,907.7 1452.8,907.1 1453.3,906.2 1453.8,907.0 1454.3,907.8 1454.9,906.7 1455.4,906.0 1455.9,906.3 1456.4,906.2 1456.9,905.9 1457.5,905.8 1458.0,907.1 1458.5,907.6 1459.0,906.5 1459.5,907.3 1460.1,907.4 1460.6,908.0 1461.1,906.5 1461.6,906.4 1462.2,906.9 1462.7,906.7 1463.2,906.8 1463.7,907.5 1464.2,906.2 1464.8,906.6 1465.3,905.7 1465.8,906.2 1466.3,905.7 1466.8,905.6 1467.4,905.9 1467.9,905.6 1468.4,906.0 1468.9,906.2 1469.4,904.3 1470.0,905.9 1470.5,903.3 1471.0,904.9 1471.5,905.0 1472.0,903.7 1472.6,903.9 1473.1,903.4 1473.6,904.6 1474.1,901.6 1474.7,903.3 1475.2,902.7 1475.7,904.4 1476.2,905.3 1476.7,905.4 1477.3,905.1 1477.8,905.0 1478.3,904.4 1478.8,906.1 1479.3,905.8 1479.9,904.9 1480.4,904.7 1480.9,905.4 1481.4,906.8 1481.9,907.0 1482.5,907.4 1483.0,905.7 1483.5,906.1 1484.0,907.4 1484.5,906.6 1485.1,907.1 1485.6,905.6 1486.1,906.3 1486.6,906.6 1487.2,906.4 1487.7,906.3 1488.2,905.4 1488.7,907.9 1489.2,906.8 1489.8,905.6 1490.3,907.5 1490.8,906.8 1491.3,907.3 1491.8,906.6 1492.4,906.2 1492.9,906.2 1493.4,907.0 1493.9,907.4 1494.4,907.2 1495.0,907.3 1495.5,907.7 1496.0,907.0 1496.5,907.6 1497.1,907.6 1497.6,907.0 1498.1,906.8 1498.6,906.5 1499.1,905.9 1499.7,905.7 1500.2,907.8 1500.7,906.8 1501.2,906.4 1501.7,908.0 1502.3,907.6 1502.8,906.9 1503.3,907.6 1503.8,906.7 1504.3,907.1 1504.9,908.2 1505.4,907.6 1505.9,906.6 1506.4,907.4 1506.9,907.7 1507.5,906.7 1508.0,906.5 1508.5,908.2 1509.0,906.6 1509.6,905.8 1510.1,906.9 1510.6,908.5 1511.1,907.3 1511.6,907.5 1512.2,905.2 1512.7,906.4 1513.2,907.7 1513.7,906.5 1514.2,907.8 1514.8,907.2 1515.3,907.1 1515.8,908.0 1516.3,906.4 1516.8,906.4 1517.4,906.8 1517.9,906.9 1518.4,905.5 1518.9,907.6 1519.4,906.9 1520.0,906.6 1520.5,907.1 1521.0,906.3 1521.5,907.5 1522.1,906.6 1522.6,907.1 1523.1,905.9 1523.6,906.3 1524.1,906.7 1524.7,905.7 1525.2,905.9 1525.7,906.3 1526.2,907.1 1526.7,906.8 1527.3,906.8 1527.8,906.3 1528.3,906.6 1528.8,907.0 1529.3,905.8 1529.9,905.8 1530.4,905.7 1530.9,903.6 1531.4,904.7 1531.9,904.7 1532.5,904.6 1533.0,903.3 1533.5,903.6 1534.0,901.7 1534.6,901.3 1535.1,901.9 1535.6,898.8 1536.1,898.9 1536.6,898.3 1537.2,897.9 1537.7,897.5 1538.2,898.6 1538.7,897.6 1539.2,897.8 1539.8,899.5 1540.3,898.5 1540.8,900.0 1541.3,900.1 1541.8,900.0 1542.4,900.7 1542.9,901.5 1543.4,902.5 1543.9,902.2 1544.4,903.1 1545.0,902.6 1545.5,903.9 1546.0,903.0 1546.5,904.7 1547.1,904.6 1547.6,906.7 1548.1,906.2 1548.6,905.2 1549.1,906.1 1549.7,905.7 1550.2,904.6 1550.7,903.6 1551.2,906.2 1551.7,905.7 1552.3,903.8 1552.8,905.6 1553.3,905.7 1553.8,904.4 1554.3,905.3 1554.9,903.2 1555.4,904.1 1555.9,904.1 1556.4,904.4 1557.0,904.0 1557.5,903.8 1558.0,904.1 1558.5,903.2 1559.0,904.9 1559.6,903.6 1560.1,904.6 1560.6,904.1 1561.1,904.0 1561.6,904.8 1562.2,904.9 1562.7,905.7 1563.2,905.7 1563.7,904.6 1564.2,905.6 1564.8,905.5 1565.3,905.0 1565.8,904.9 1566.3,906.0 1566.8,905.6 1567.4,905.0 1567.9,906.1 1568.4,906.4 1568.9,906.3 1569.5,905.4 1570.0,905.9 1570.5,907.4 1571.0,905.9 1571.5,906.2 1572.1,908.2 1572.6,906.8 1573.1,906.1 1573.6,905.1 1574.1,906.8 1574.7,905.5 1575.2,906.5 1575.7,905.9 1576.2,905.3 1576.7,907.8 1577.3,906.5 1577.8,907.3 1578.3,907.1 1578.8,906.0 1579.3,906.6 1579.9,906.3 1580.4,907.3 1580.9,906.9 1581.4,906.3 1582.0,907.8 1582.5,906.9 1583.0,906.8 1583.5,905.9 1584.0,906.8 1584.6,905.3 1585.1,906.8 1585.6,905.7 1586.1,906.5 1586.6,906.1 1587.2,906.4 1587.7,906.5 1588.2,906.1 1588.7,906.1 1589.2,904.9 1589.8,904.5 1590.3,906.8 1590.8,906.1 1591.3,904.4 1591.8,906.8 1592.4,904.6 1592.9,905.3 1593.4,904.9 1593.9,904.3 1594.5,904.3 1595.0,902.4 1595.5,902.9 1596.0,902.2 1596.5,902.0 1597.1,901.2 1597.6,900.6 1598.1,900.4 1598.6,901.6 1599.1,900.4 1599.7,901.5 1600.2,901.7 1600.7,901.6 1601.2,902.2 1601.7,902.5 1602.3,901.9 1602.8,902.8 1603.3,904.3 1603.8,902.4 1604.4,903.3 1604.9,903.4 1605.4,905.8 1605.9,903.6 1606.4,904.9 1607.0,905.8 1607.5,904.7 1608.0,905.4 1608.5,905.2 1609.0,904.8 1609.6,905.9 1610.1,906.4 1610.6,905.8 1611.1,906.3 1611.6,906.8 1612.2,907.2 1612.7,905.4 1613.2,906.8 1613.7,905.9 1614.2,905.0 1614.8,905.9 1615.3,907.0 1615.8,906.7 1616.3,905.7 1616.9,907.7 1617.4,906.9 1617.9,906.5 1618.4,906.2 1618.9,906.9 1619.5,906.3 1620.0,907.4 1620.5,906.8 1621.0,907.1 1621.5,906.4 1622.1,905.5 1622.6,907.0 1623.1,905.9 1623.6,906.5 1624.1,906.6 1624.7,906.0 1625.2,907.3 1625.7,905.5 1626.2,907.7 1626.7,906.1 1627.3,907.3 1627.8,907.5 1628.3,905.9 1628.8,906.0 1629.4,907.2 1629.9,906.6 1630.4,906.5 1630.9,905.0 1631.4,905.1 1632.0,906.7 1632.5,907.3 1633.0,905.7 1633.5,905.5 1634.0,906.2 1634.6,906.3 1635.1,906.2 1635.6,905.4 1636.1,904.1 1636.6,906.4 1637.2,904.8 1637.7,905.8 1638.2,903.2 1638.7,904.6 1639.2,903.7 1639.8,903.0 1640.3,904.2 1640.8,904.2 1641.3,902.6 1641.9,903.4 1642.4,902.1 1642.9,902.5 1643.4,902.9 1643.9,902.9 1644.5,903.8 1645.0,902.5 1645.5,904.3 1646.0,904.4 1646.5,903.7 1647.1,903.2 1647.6,902.5 1648.1,904.4 1648.6,904.2 1649.1,905.0 1649.7,904.4 1650.2,905.3 1650.7,905.5 1651.2,905.7 1651.8,906.0 1652.3,906.2 1652.8,906.8 1653.3,905.6 1653.8,906.8 1654.4,906.4 1654.9,906.0 1655.4,905.7 1655.9,907.5 1656.4,906.7 1657.0,906.1 1657.5,906.6 1658.0,906.6 1658.5,906.2 1659.0,905.6 1659.6,906.8 1660.1,906.6 1660.6,906.5 1661.1,907.4 1661.6,905.8 1662.2,906.0 1662.7,906.9 1663.2,907.4 1663.7,907.2 1664.3,907.3 1664.8,905.2 1665.3,907.2 1665.8,907.1 1666.3,907.3 1666.9,906.3 1667.4,907.2 1667.9,907.6 1668.4,908.0 1668.9,907.0 1669.5,905.9 1670.0,906.9 1670.5,907.3 1671.0,907.2 1671.5,908.3 1672.1,906.7 1672.6,906.1 1673.1,906.4 1673.6,907.4 1674.1,906.3 1674.7,906.1 1675.2,906.3 1675.7,907.8 1676.2,907.1 1676.8,906.7 1677.3,907.5 1677.8,907.4 1678.3,906.2 1678.8,907.5 1679.4,907.1 1679.9,905.4 1680.4,906.0 1680.9,907.1 1681.4,907.3 1682.0,906.7 1682.5,906.2 1683.0,907.1 1683.5,905.6 1684.0,907.3 1684.6,906.8 1685.1,906.9 1685.6,906.5 1686.1,907.6 1686.6,905.2 1687.2,906.3 1687.7,907.4 1688.2,906.4 1688.7,908.0 1689.3,907.3 1689.8,906.4 1690.3,907.8 1690.8,906.9 1691.3,907.4 1691.9,906.5 1692.4,906.5 1692.9,907.5 1693.4,907.0 1693.9,906.4 1694.5,906.3 1695.0,907.5 1695.5,908.3 1696.0,906.4 1696.5,907.5 1697.1,904.8 1697.6,905.9 1698.1,907.5 1698.6,908.2 1699.1,907.0 1699.7,907.4 1700.2,907.2 1700.7,907.7 1701.2,906.2 1701.8,907.5 1702.3,906.7 1702.8,906.7 1703.3,907.0 1703.8,906.8 1704.4,906.4 1704.9,906.8 1705.4,906.3 1705.9,908.1 1706.4,907.5 1707.0,906.7 1707.5,908.2 1708.0,907.9 1708.5,907.4 1709.0,906.6 1709.6,907.2 1710.1,907.4 1710.6,908.0 1711.1,906.9 1711.7,906.6 1712.2,908.7 1712.7,908.0 1713.2,907.2 1713.7,906.3 1714.3,907.4 1714.8,907.8 1715.3,907.6 1715.8,907.6 1716.3,907.0 1716.9,907.8 1717.4,906.6 1717.9,906.7 1718.4,906.6 1718.9,906.5 1719.5,908.4 1720.0,905.7 1720.5,907.2 1721.0,906.3 1721.5,906.1 1722.1,907.1 1722.6,905.8 1723.1,906.9 1723.6,908.7 1724.2,906.9 1724.7,907.3 1725.2,906.4 1725.7,907.4 1726.2,905.9 1726.8,907.1 1727.3,906.9 1727.8,908.6 1728.3,906.9 1728.8,906.7 1729.4,906.6 1729.9,906.1 1730.4,907.6 1730.9,908.1 1731.4,906.7 1732.0,907.5 1732.5,906.7 1733.0,907.3 1733.5,907.3 1734.0,905.9 1734.6,906.4 1735.1,907.7 1735.6,905.6 1736.1,907.0 1736.7,906.7 1737.2,906.3 1737.7,907.0 1738.2,907.2 1738.7,907.4 1739.3,905.0 1739.8,908.2 1740.3,906.6 1740.8,907.7 1741.3,906.9 1741.9,906.5 1742.4,906.9 1742.9,909.3 1743.4,908.1 1743.9,906.7 1744.5,907.1 1745.0,907.8 1745.5,907.4 1746.0,907.0 1746.5,906.8 1747.1,906.2 1747.6,907.5 1748.1,907.8 1748.6,908.6 1749.2,906.6 1749.7,907.5 1750.2,906.9 1750.7,907.9 1751.2,906.9 1751.8,906.5 1752.3,905.7 1752.8,907.5 1753.3,907.1 1753.8,907.8 1754.4,906.5 1754.9,908.9 1755.4,906.4 1755.9,907.3 1756.4,907.3 1757.0,907.8 1757.5,906.8 1758.0,906.3 1758.5,906.2 1759.1,907.6 1759.6,907.0 1760.1,907.2 1760.6,906.3 1761.1,907.1 1761.7,907.1 1762.2,907.4 1762.7,905.9 1763.2,906.4 1763.7,908.2 1764.3,906.7 1764.8,906.9 1765.3,906.6 1765.8,905.8 1766.3,906.1 1766.9,907.2 1767.4,906.4 1767.9,908.5 1768.4,905.8 1768.9,905.5 1769.5,906.6 1770.0,906.0 1770.5,908.0 1771.0,906.6 1771.6,907.3 1772.1,905.9 1772.6,907.4 1773.1,907.4 1773.6,907.8 1774.2,907.1 1774.7,907.3 1775.2,907.0 1775.7,907.6 1776.2,906.6 1776.8,907.3 1777.3,906.5 1777.8,907.4 1778.3,906.7 1778.8,906.4 1779.4,906.4 1779.9,908.0 1780.4,905.7 1780.9,905.8 1781.4,907.4 1782.0,906.1 1782.5,906.5 1783.0,906.5 1783.5,908.6 1784.1,906.3 1784.6,906.3 1785.1,906.5 1785.6,907.0 1786.1,907.2 1786.7,905.7 1787.2,907.1 1787.7,908.3 1788.2,905.4 1788.7,907.2 1789.3,907.3 1789.8,906.9 1790.3,906.6 1790.8,904.9 1791.3,907.6 1791.9,906.4 1792.4,906.5 1792.9,907.5 1793.4,904.8 1793.9,906.5 1794.5,906.9 1795.0,907.0 1795.5,906.9 1796.0,907.9 1796.6,906.5 1797.1,907.0 1797.6,906.7 1798.1,904.9 1798.6,905.3 1799.2,907.3 1799.7,905.4 1800.2,905.3 1800.7,904.2 1801.2,904.7 1801.8,903.8 1802.3,904.1 1802.8,904.7 1803.3,903.5 1803.8,903.5 1804.4,904.9 1804.9,904.2 1805.4,904.3 1805.9,904.7 1806.4,903.7 1807.0,903.9 1807.5,902.7 1808.0,904.9 1808.5,904.3 1809.1,904.5 1809.6,903.8 1810.1,905.2 1810.6,905.3 1811.1,905.1 1811.7,903.9 1812.2,904.6 1812.7,905.4 1813.2,904.9 1813.7,905.9 1814.3,906.5 1814.8,905.3 1815.3,905.8 1815.8,905.5 1816.3,906.9 1816.9,906.8 1817.4,908.2 1817.9,906.2 1818.4,905.5 1819.0,906.6 1819.5,906.1 1820.0,906.4 1820.5,907.2 1821.0,906.1 1821.6,906.9 1822.1,904.7 1822.6,907.1 1823.1,906.4 1823.6,906.2 1824.2,906.0 1824.7,907.4 1825.2,905.9 1825.7,907.3 1826.2,905.9 1826.8,906.3 1827.3,906.6 1827.8,907.8 1828.3,906.5 1828.8,906.4 1829.4,906.2 1829.9,906.0 1830.4,905.8 1830.9,907.6 1831.5,907.3 1832.0,905.7 1832.5,906.3 1833.0,905.3 1833.5,906.8 1834.1,906.6 1834.6,906.2 1835.1,905.5 1835.6,906.6 1836.1,906.5 1836.7,905.9 1837.2,906.6 1837.7,905.0 1838.2,905.5 1838.7,905.2 1839.3,906.0 1839.8,907.2 1840.3,905.9 1840.8,906.7 1841.3,905.8 1841.9,905.5 1842.4,906.6 1842.9,906.2 1843.4,906.9 1844.0,906.5 1844.5,905.2 1845.0,903.8 1845.5,905.8 1846.0,904.8 1846.6,904.6 1847.1,904.6 1847.6,905.2 1848.1,905.5 1848.6,905.6 1849.2,907.1 1849.7,904.7 1850.2,905.6 1850.7,904.6 1851.2,904.8 1851.8,905.6 1852.3,905.8 1852.8,904.5 1853.3,906.3 1853.8,904.8 1854.4,906.2 1854.9,905.4 1855.4,906.1 1855.9,905.8 1856.5,905.2 1857.0,905.7 1857.5,904.3 1858.0,904.4 1858.5,905.1 1859.1,906.3 1859.6,904.7 1860.1,904.8"/>
<polyline id="c2" points="193.3,726.4 193.8,725.6 194.3,725.7 194.9,723.7 195.4,728.0 195.9,727.3 196.4,725.8 196.9,726.9 197.5,726.4 198.0,725.6 198.5,727.1 199.0,725.8 199.6,725.8 200.1,725.4 200.6,726.6 201.1,726.0 201.6,726.7 202.2,725.5 202.7,726.3 203.2,725.2 203.7,727.0 204.2,726.3 204.8,726.5 205.3,726.5 205.8,725.1 206.3,726.9 206.8,728.2 207.4,724.5 207.9,724.4 208.4,724.6 208.9,727.0 209.4,726.2 210.0,727.2 210.5,726.8 211.0,726.3 211.5,726.4 212.1,725.9 212.6,727.0 213.1,725.0 213.6,725.7 214.1,726.3 214.7,727.9 215.2,725.3 215.7,725.0 216.2,725.5 216.7,727.0 217.3,725.8 217.8,727.4 218.3,724.2 218.8,727.2 219.3,727.1 219.9,724.6 220.4,726.2 220.9,727.3 221.4,726.1 221.9,727.1 222.5,728.4 223.0,726.3 223.5,725.8 224.0,725.3 224.6,726.7 225.1,725.8 225.6,725.9 226.1,725.9 226.6,726.7 227.2,725.0 227.7,724.5 228.2,723.6 228.7,727.2 229.2,726.1 229.8,727.5 230.3,726.0 230.8,725.3 231.3,726.5 231.8,725.9 232.4,724.8 232.9,725.1 233.4,727.8 233.9,726.4 234.4,726.4 235.0,725.7 235.5,725.3 236.0,726.9 236.5,725.9 237.1,725.2 237.6,725.8 238.1,725.1 238.6,726.2 239.1,727.1 239.7,725.1 240.2,727.4 240.7,725.3 241.2,726.1 241.7,725.1 242.3,725.7 242.8,726.0 243.3,725.5 243.8,725.2 244.3,725.3 244.9,725.1 245.4,724.4 245.9,725.7 246.4,726.3 247.0,726.8 247.5,726.6 248.0,728.4 248.5,726.2 249.0,725.5 249.6,727.8 250.1,724.9 250.6,726.9 251.1,725.0 251.6,726.3 252.2,723.9 252.7,726.8 253.2,725.7 253.7,724.9 254.2,727.6 254.8,726.7 255.3,725.9 255.8,725.1 256.3,725.8 256.8,725.7 257.4,726.6 257.9,726.7 258.4,725.2 258.9,725.3 259.5,725.3 260.0,724.5 260.5,725.3 261.0,725.8 261.5,726.6 262.1,727.2 262.6,725.1 263.1,726.4 263.6,725.4 264.1,727.9 264.7,725.8 265.2,726.3 265.7,724.9 266.2,725.0 266.7,726.0 267.3,725.5 267.8,726.2 268.3,724.3 268.8,726.5 269.3,724.9 269.9,727.5 270.4,725.5 270.9,726.9 271.4,724.4 272.0,726.2 272.5,724.9 273.0,725.3 273.5,725.8 274.0,725.5 274.6,726.1 275.1,726.5 275.6,726.4 276.1,725.7 276.6,724.4 277.2,725.0 277.7,725.6 278.2,723.7 278.7,726.5 279.2,725.5 279.8,725.5 280.3,726.7 280.8,726.4 281.3,726.0 281.8,724.8 282.4,726.1 282.9,726.1 283.4,724.9 283.9,726.8 284.5,726.3 285.0,723.8 285.5,725.9 286.0,724.5 286.5,726.9 287.1,726.5 287.6,724.6 288.1,724.8 288.6,725.8 289.1,725.5 289.7,727.3 290.2,726.5 290.7,725.4 291.2,726.3 291.7,723.7 292.3,726.0 292.8,726.6 293.3,725.5 293.8,725.0 294.3,726.3 294.9,727.7 295.4,725.9 295.9,724.6 296.4,727.1 297.0,723.8 297.5,726.2 298.0,725.1 298.5,726.6 299.0,724.8 299.6,727.0 300.1,726.0 300.6,723.9 301.1,723.7 301.6,725.3 302.2,727.0 302.7,725.8 303.2,725.7 303.7,725.4 304.2,726.4 304.8,726.0 305.3,725.9 305.8,724.7 306.3,726.8 306.9,727.0 307.4,724.3 307.9,727.9 308.4,726.3 308.9,725.1 309.5,723.7 310.0,726.3 310.5,726.2 311.0,725.0 311.5,723.8 312.1,726.7 312.6,725.0 313.1,725.1 313.6,728.4 314.1,727.7 314.7,726.5 315.2,725.1 315.7,726.2 316.2,723.3 316.7,725.7 317.3,724.8 317.8,724.3 318.3,724.0 318.8,726.1 319.4,725.6 319.9,725.7 320.4,726.4 320.9,724.7 321.4,724.3 322.0,723.7 322.5,725.2 323.0,726.3 323.5,725.4 324.0,726.1 324.6,724.3 325.1,725.0 325.6,724.7 326.1,724.2 326.6,727.3 327.2,726.3 327.7,724.7 328.2,724.7 328.7,725.4 329.2,724.0 329.8,725.9 330.3,724.1 330.8,725.0 331.3,724.4 331.9,724.9 332.4,724.1 332.9,723.8 333.4,724.4 333.9,724.7 334.5,725.1 335.0,725.4 335.5,726.9 336.0,726.1 336.5,725.1 337.1,726.0 337.6,724.6 338.1,726.7 338.6,725.8 339.1,723.9 339.7,726.0 340.2,726.0 340.7,722.5 341.2,724.5 341.7,724.7 342.3,723.2 342.8,724.1 343.3,724.2 343.8,725.6 344.4,725.4 344.9,727.7 345.4,724.7 345.9,726.2 346.4,725.1 347.0,725.3 347.5,723.9 348.0,723.1 348.5,724.2 349.0,725.7 349.6,726.5 350.1,725.5 350.6,725.4 351.1,724.1 351.6,726.4 352.2,726.2 352.7,724.3 353.2,724.8 353.7,723.8 354.3,726.2 354.8,725.2 355.3,724.6 355.8,725.1 356.3,725.1 356.9,724.2 357.4,723.4 357.9,723.3 358.4,722.8 358.9,725.0 359.5,726.7 360.0,722.7 360.5,724.5 361.0,724.7 361.5,723.3 362.1,724.4 362.6,723.0 363.1,725.2 363.6,723.4 364.1,723.9 364.7,724.4 365.2,723.1 365.7,721.6 366.2,722.6 366.8,723.6 367.3,722.3 367.8,722.0 368.3,719.8 368.8,719.7 369.4,718.3 369.9,714.9 370.4,713.4 370.9,707.8 371.4,704.7 372.0,704.0 372.5,708.7 373.0,710.6 373.5,715.0 374.0,717.3 374.6,720.5 375.1,721.6 375.6,720.9 376.1,722.2 376.6,723.5 377.2,721.5 377.7,724.4 378.2,724.3 378.7,724.2 379.3,723.1 379.8,723.7 380.3,722.3 380.8,723.6 381.3,722.9 381.9,723.6 382.4,723.1 382.9,723.9 383.4,724.8 383.9,722.3 384.5,724.6 385.0,721.6 385.5,721.5 386.0,723.5 386.5,723.6 387.1,724.1 387.6,722.0 388.1,723.6 388.6,723.7 389.1,724.9 389.7,723.5 390.2,724.1 390.7,722.6 391.2,723.4 391.8,723.1 392.3,724.2 392.8,722.5 393.3,722.7 393.8,724.1 394.4,725.3 394.9,723.9 395.4,723.8 395.9,723.1 396.4,724.5 397.0,723.9 397.5,725.1 398.0,723.7 398.5,722.4 399.0,722.8 399.6,722.3 400.1,722.1 400.6,724.6 401.1,724.1 401.7,722.0 402.2,725.0 402.7,723.5 403.2,722.3 403.7,723.6 404.3,723.1 404.8,722.4 405.3,721.2 405.8,723.2 406.3,723.4 406.9,720.5 407.4,723.6 407.9,723.7 408.4,722.6 408.9,723.1 409.5,722.7 410.0,722.2 410.5,722.6 411.0,724.3 411.5,721.5 412.1,723.2 412.6,723.1 413.1,722.2 413.6,722.4 414.2,721.5 414.7,722.0 415.2,722.8 415.7,723.1 416.2,721.9 416.8,725.8 417.3,722.2 417.8,722.9 418.3,722.5 418.8,722.3 419.4,724.0 419.9,722.2 420.4,724.0 420.9,723.8 421.4,721.6 422.0,723.6 422.5,721.9 423.0,725.3 423.5,722.2 424.0,721.6 424.6,720.6 425.1,721.2 425.6,721.9 426.1,721.5 426.7,721.2 427.2,721.7 427.7,722.2 428.2,723.8 428.7,720.7 429.3,721.8 429.8,721.4 430.3,720.8 430.8,721.0 431.3,721.4 431.9,723.0 432.4,722.1 432.9,721.7 433.4,722.8 433.9,722.5 434.5,722.0 435.0,722.6 435.5,721.3 436.0,722.8 436.5,722.6 437.1,721.7 437.6,720.9 438.1,723.6 438.6,722.2 439.2,725.1 439.7,721.4 440.2,722.9 440.7,721.6 441.2,722.3 441.8,722.9 442.3,721.2 442.8,721.9 443.3,722.1 443.8,722.1 444.4,722.6 444.9,723.0 445.4,722.8 445.9,722.2 446.4,721.6 447.0,720.8 447.5,721.2 448.0,721.4 448.5,722.6 449.0,721.5 449.6,720.6 450.1,722.5 450.6,721.1 451.1,721.1 451.7,721.6 452.2,722.3 452.7,719.5 453.2,720.7 453.7,722.0 454.3,721.5 454.8,721.0 455.3,721.3 455.8,723.3 456.3,721.4 456.9,722.6 457.4,722.7 457.9,721.4 458.4,722.3 458.9,721.4 459.5,721.3 460.0,720.8 460.5,722.8 461.0,721.5 461.6,721.4 462.1,720.8 462.6,723.7 463.1,722.7 463.6,721.8 464.2,721.3 464.7,720.5 465.2,722.3 465.7,722.3 466.2,720.6 466.8,723.2 467.3,722.8 467.8,721.1 468.3,721.5 468.8,721.7 469.4,722.3 469.9,722.0 470.4,720.5 470.9,723.6 471.4,722.5 472.0,723.5 472.5,723.5 473.0,722.0 473.5,722.6 474.1,723.0 474.6,723.1 475.1,722.2 475.6,721.7 476.1,722.4 476.7,721.6 477.2,721.9 477.7,720.4 478.2,722.6 478.7,721.5 479.3,722.0 479.8,722.5 480.3,722.9 480.8,724.5 481.3,722.8 481.9,721.2 482.4,722.8 482.9,722.1 483.4,723.1 483.9,722.1 484.5,722.1 485.0,722.3 485.5,722.2 486.0,721.0 486.6,722.2 487.1,722.9 487.6,724.1 488.1,722.7 488.6,722.6 489.2,723.6 489.7,723.6 490.2,724.7 490.7,723.7 491.2,723.1 491.8,724.5 492.3,724.7 492.8,722.8 493.3,723.4 493.8,721.6 494.4,723.0 494.9,722.5 495.4,723.2 495.9,722.9 496.4,723.3 497.0,723.4 497.5,724.0 498.0,723.8 498.5,723.0 499.1,722.3 499.6,724.9 500.1,725.1 500.6,723.2 501.1,724.3 501.7,722.2 502.2,722.2 502.7,723.5 503.2,725.3 503.7,722.8 504.3,723.1 504.8,725.5 505.3,722.1 505.8,724.6 506.3,724.5 506.9,723.9 507.4,724.3 507.9,726.7 508.4,723.0 509.0,723.9 509.5,724.0 510.0,723.6 510.5,722.9 511.0,725.9 511.6,724.6 512.1,722.6 512.6,723.7 513.1,724.8 513.6,724.9 514.2,723.1 514.7,724.4 515.2,724.8 515.7,725.0 516.2,725.0 516.8,722.8 517.3,726.5 517.8,724.9 518.3,726.5 518.8,727.6 519.4,724.6 519.9,723.6 520.4,725.7 520.9,724.7 521.5,724.5 522.0,723.9 522.5,726.7 523.0,724.6 523.5,723.7 524.1,724.7 524.6,724.0 525.1,725.3 525.6,724.8 526.1,724.2 526.7,725.8 527.2,724.7 527.7,726.0 528.2,726.6 528.7,725.0 529.3,724.8 529.8,725.6 530.3,726.4 530.8,725.5 531.3,725.7 531.9,725.6 532.4,725.9 532.9,726.3 533.4,725.0 534.0,725.2 534.5,725.8 535.0,725.1 535.5,725.9 536.0,726.4 536.6,725.9 537.1,725.3 537.6,725.2 538.1,727.7 538.6,726.9 539.2,725.0 539.7,725.3 540.2,727.9 540.7,727.6 541.2,726.3 541.8,727.4 542.3,724.8 542.8,726.3 543.3,727.1 543.8,724.6 544.4,725.7 544.9,727.2 545.4,727.6 545.9,726.0 546.5,726.8 547.0,728.1 547.5,726.3 548.0,725.4 548.5,726.7 549.1,726.4 549.6,728.0 550.1,727.0 550.6,726.1 551.1,729.2 551.7,726.5 552.2,727.4 552.7,727.7 553.2,727.8 553.7,727.3 554.3,727.7 554.8,727.1 555.3,725.9 555.8,727.1 556.3,727.1 556.9,727.2 557.4,727.5 557.9,726.8 558.4,728.7 559.0,728.9 559.5,725.5 560.0,727.6 560.5,727.0 561.0,725.3 561.6,728.1 562.1,727.2 562.6,727.4 563.1,727.2 563.6,728.9 564.2,729.0 564.7,728.2 565.2,728.6 565.7,727.9 566.2,728.2 566.8,727.5 567.3,728.2 567.8,727.6 568.3,728.6 568.9,729.0 569.4,728.6 569.9,729.4 570.4,730.7 570.9,726.6 571.5,728.5 572.0,728.1 572.5,728.2 573.0,727.5 573.5,728.7 574.1,728.5 574.6,728.2 575.1,728.6 575.6,728.3 576.1,726.9 576.7,729.8 577.2,728.7 577.7,728.2 578.2,729.3 578.7,728.5 579.3,727.4 579.8,729.9 580.3,727.9 580.8,729.1 581.4,729.4 581.9,730.4 582.4,730.3 582.9,729.5 583.4,728.8 584.0,729.2 584.5,730.3 585.0,730.9 585.5,730.0 586.0,729.1 586.6,730.4 587.1,729.4 587.6,729.4 588.1,729.6 588.6,730.2 589.2,730.0 589.7,730.6 590.2,730.8 590.7,730.3 591.2,728.3 591.8,728.8 592.3,730.2 592.8,730.0 593.3,731.6 593.9,730.1 594.4,730.1 594.9,730.8 595.4,731.0 595.9,730.1 596.5,730.6 597.0,729.6 597.5,729.7 598.0,731.2 598.5,729.5 599.1,731.0 599.6,730.9 600.1,731.0 600.6,731.1 601.1,730.9 601.7,729.2 602.2,729.9 602.7,730.2 603.2,731.1 603.7,729.9 604.3,730.1 604.8,730.3 605.3,731.3 605.8,729.7 606.4,729.7 606.9,730.9 607.4,729.2 607.9,730.6 608.4,730.1 609.0,729.4 609.5,730.0 610.0,729.6 610.5,730.2 611.0,730.2 611.6,730.7 612.1,729.6 612.6,729.4 613.1,728.8 613.6,728.7 614.2,728.8 614.7,726.5 615.2,726.9 615.7,724.9 616.3,723.1 616.8,720.2 617.3,716.2 617.8,710.2 618.3,702.9 618.9,696.4 619.4,691.8 619.9,691.0 620.4,693.7 620.9,698.5 621.5,703.9 622.0,710.1 622.5,714.9 623.0,719.8 623.5,722.1 624.1,725.6 624.6,726.4 625.1,728.6 625.6,730.2 626.1,729.1 626.7,730.4 627.2,730.3 627.7,730.1 628.2,730.2 628.8,731.2 629.3,731.8 629.8,731.4 630.3,730.6 630.8,731.0 631.4,731.5 631.9,732.4 632.4,731.9 632.9,732.0 633.4,732.5 634.0,731.9 634.5,732.0 635.0,732.0 635.5,731.3 636.0,732.5 636.6,732.5 637.1,732.8 637.6,731.8 638.1,732.0 638.6,732.9 639.2,732.7 639.7,733.2 640.2,732.2 640.7,732.7 641.3,732.3 641.8,732.8 642.3,732.5 642.8,733.0 643.3,733.3 643.9,733.1 644.4,732.0 644.9,733.3 645.4,733.1 645.9,732.4 646.5,732.5 647.0,732.9 647.5,733.2 648.0,732.8 648.5,732.2 649.1,733.1 649.6,733.1 650.1,734.2 650.6,732.5 651.1,734.3 651.7,733.9 652.2,733.3 652.7,733.9 653.2,733.2 653.8,733.6 654.3,732.9 654.8,733.2 655.3,732.8 655.8,732.5 656.4,733.1 656.9,733.0 657.4,733.5 657.9,733.9 658.4,733.2 659.0,733.3 659.5,733.4 660.0,732.6 660.5,733.5 661.0,733.4 661.6,733.3 662.1,732.9 662.6,732.5 663.1,733.3 663.7,733.5 664.2,734.0 664.7,733.9 665.2,734.1 665.7,733.6 666.3,734.0 666.8,733.4 667.3,733.7 667.8,733.9 668.3,734.7 668.9,733.6 669.4,732.9 669.9,734.1 670.4,733.1 670.9,733.5 671.5,733.4 672.0,733.1 672.5,734.1 673.0,733.8 673.5,733.2 674.1,733.5 674.6,733.3 675.1,733.8 675.6,733.3 676.2,733.2 676.7,733.2 677.2,733.3 677.7,733.7 678.2,733.1 678.8,733.5 679.3,733.7 679.8,734.6 680.3,733.9 680.8,732.2 681.4,733.3 681.9,733.4 682.4,733.7 682.9,734.2 683.4,733.9 684.0,732.5 684.5,733.7 685.0,733.6 685.5,733.7 686.0,734.2 686.6,733.0 687.1,734.0 687.6,732.8 688.1,733.6 688.7,733.7 689.2,734.6 689.7,733.2 690.2,732.8 690.7,733.8 691.3,733.2 691.8,734.2 692.3,733.2 692.8,733.1 693.3,734.1 693.9,733.5 694.4,733.9 694.9,732.8 695.4,734.2 695.9,733.2 696.5,733.8 697.0,733.0 697.5,732.7 698.0,733.3 698.5,733.5 699.1,734.1 699.6,733.6 700.1,733.7 700.6,733.7 701.2,734.8 701.7,733.0 702.2,733.9 702.7,733.3 703.2,733.4 703.8,733.0 704.3,733.8 704.8,732.7 705.3,732.6 705.8,733.1 706.4,732.7 706.9,733.5 707.4,733.5 707.9,732.8 708.4,733.4 709.0,732.7 709.5,733.0 710.0,733.0 710.5,733.8 711.0,732.9 711.6,732.4 712.1,732.3 712.6,733.2 713.1,731.9 713.7,732.4 714.2,732.3 714.7,731.3 715.2,732.1 715.7,732.7 716.3,732.2 716.8,731.6 717.3,732.2 717.8,731.9 718.3,732.4 718.9,731.0 719.4,731.0 719.9,730.9 720.4,730.6 720.9,730.4 721.5,729.9 722.0,729.3 722.5,728.4 723.0,728.4 723.6,727.4 724.1,726.8 724.6,726.1 725.1,725.5 725.6,724.3 726.2,721.8 726.7,720.3 727.2,717.6 727.7,713.2 728.2,706.7 728.8,698.0 729.3,687.2 729.8,670.4 730.3,648.1 730.8,621.3 731.4,596.9 731.9,580.4 732.4,577.9 732.9,586.3 733.4,599.1 734.0,618.0 734.5,638.2 735.0,660.6 735.5,678.8 736.1,692.5 736.6,703.4 737.1,709.8 737.6,715.3 738.1,718.9 738.7,721.3 739.2,723.0 739.7,725.2 740.2,726.1 740.7,726.8 741.3,727.6 741.8,728.4 742.3,730.0 742.8,729.5 743.3,729.8 743.9,729.8 744.4,730.0 744.9,730.0 745.4,731.2 745.9,731.4 746.5,731.1 747.0,731.1 747.5,731.7 748.0,731.8 748.6,731.6 749.1,732.4 749.6,732.4 750.1,732.4 750.6,732.9 751.2,732.3 751.7,733.3 752.2,732.3 752.7,733.1 753.2,733.2 753.8,732.8 754.3,733.1 754.8,732.4 755.3,732.3 755.8,733.0 756.4,732.7 756.9,733.3 757.4,733.1 757.9,733.3 758.4,733.2 759.0,733.1 759.5,733.0 760.0,732.7 760.5,732.6 761.1,733.6 761.6,731.7 762.1,732.0 762.6,732.1 763.1,731.1 763.7,730.6 764.2,729.0 764.7,726.8 765.2,725.9 765.7,724.7 766.3,725.9 766.8,726.6 767.3,726.5 767.8,727.9 768.3,728.6 768.9,729.3 769.4,730.7 769.9,731.0 770.4,732.0 771.0,732.7 771.5,733.2 772.0,733.7 772.5,733.1 773.0,733.5 773.6,733.7 774.1,733.8 774.6,732.3 775.1,733.3 775.6,734.1 776.2,733.3 776.7,733.9 777.2,734.2 777.7,733.0 778.2,733.8 778.8,734.0 779.3,733.9 779.8,733.3 780.3,734.1 780.8,733.7 781.4,734.4 781.9,734.2 782.4,733.8 782.9,734.1 783.5,733.8 784.0,733.8 784.5,733.4 785.0,734.0 785.5,734.5 786.1,734.2 786.6,734.1 787.1,733.8 787.6,733.9 788.1,734.5 788.7,733.5 789.2,735.1 789.7,734.1 790.2,735.2 790.7,734.7 791.3,734.0 791.8,734.5 792.3,734.3 792.8,734.4 793.3,734.6 793.9,734.0 794.4,733.9 794.9,734.0 795.4,733.6 796.0,734.1 796.5,734.3 797.0,734.4 797.5,734.3 798.0,734.1 798.6,734.6 799.1,733.3 799.6,734.1 800.1,734.1 800.6,734.7 801.2,734.6 801.7,734.6 802.2,734.3 802.7,734.7 803.2,733.8 803.8,734.3 804.3,733.4 804.8,735.1 805.3,735.0 805.8,734.0 806.4,733.9 806.9,733.4 807.4,733.6 807.9,734.4 808.5,734.3 809.0,733.7 809.5,734.1 810.0,734.1 810.5,734.6 811.1,734.7 811.6,734.3 812.1,734.4 812.6,734.4 813.1,733.4 813.7,734.5 814.2,734.4 814.7,734.7 815.2,733.6 815.7,734.7 816.3,734.1 816.8,734.5 817.3,734.9 817.8,733.7 818.4,733.8 818.9,734.9 819.4,733.9 819.9,734.0 820.4,734.7 821.0,734.3 821.5,734.8 822.0,734.6 822.5,734.4 823.0,734.9 823.6,735.4 824.1,734.4 824.6,735.1 825.1,735.0 825.6,734.5 826.2,734.7 826.7,734.0 827.2,734.2 827.7,734.6 828.2,734.4 828.8,735.1 829.3,733.9 829.8,734.3 830.3,734.2 830.9,734.4 831.4,735.0 831.9,733.9 832.4,734.9 832.9,734.2 833.5,734.3 834.0,734.9 834.5,734.4 835.0,734.8 835.5,734.5 836.1,734.4 836.6,734.3 837.1,733.7 837.6,734.2 838.1,734.6 838.7,734.6 839.2,733.8 839.7,735.0 840.2,734.8 840.7,733.9 841.3,734.0 841.8,734.7 842.3,733.7 842.8,734.2 843.4,734.5 843.9,734.5 844.4,734.5 844.9,734.7 845.4,734.2 846.0,734.3 846.5,735.5 847.0,733.9 847.5,734.3 848.0,734.6 848.6,734.2 849.1,735.1 849.6,734.6 850.1,734.9 850.6,733.4 851.2,735.1 851.7,735.1 852.2,734.2 852.7,735.1 853.2,734.7 853.8,735.0 854.3,735.4 854.8,734.6 855.3,734.1 855.9,734.5 856.4,734.0 856.9,734.2 857.4,734.2 857.9,734.2 858.5,735.1 859.0,734.9 859.5,734.1 860.0,735.0 860.5,733.8 861.1,734.2 861.6,734.5 862.1,735.1 862.6,734.9 863.1,734.7 863.7,735.1 864.2,734.8 864.7,735.1 865.2,734.2 865.7,733.7 866.3,734.3 866.8,734.9 867.3,734.6 867.8,734.9 868.4,734.8 868.9,734.7 869.4,734.8 869.9,734.1 870.4,734.9 871.0,734.0 871.5,734.4 872.0,733.8 872.5,734.6 873.0,733.7 873.6,735.0 874.1,733.7 874.6,734.4 875.1,734.2 875.6,733.9 876.2,734.8 876.7,734.0 877.2,734.9 877.7,733.7 878.3,733.8 878.8,733.2 879.3,734.3 879.8,734.4 880.3,734.0 880.9,733.8 881.4,733.3 881.9,734.7 882.4,733.9 882.9,732.6 883.5,733.1 884.0,731.9 884.5,733.6 885.0,733.6 885.5,733.0 886.1,732.0 886.6,731.3 887.1,730.4 887.6,730.4 888.1,728.8 888.7,727.4 889.2,725.0 889.7,721.9 890.2,718.1 890.8,712.9 891.3,705.7 891.8,699.5 892.3,695.3 892.8,695.1 893.4,697.4 893.9,701.1 894.4,703.9 894.9,708.1 895.4,712.6 896.0,717.0 896.5,720.8 897.0,724.4 897.5,726.3 898.0,729.6 898.6,730.1 899.1,730.7 899.6,732.4 900.1,731.8 900.6,732.7 901.2,732.6 901.7,733.1 902.2,733.0 902.7,733.6 903.3,734.1 903.8,733.1 904.3,732.7 904.8,734.4 905.3,734.0 905.9,734.4 906.4,733.9 906.9,734.8 907.4,735.0 907.9,733.7 908.5,734.6 909.0,734.0 909.5,733.6 910.0,734.2 910.5,734.7 911.1,733.8 911.6,733.9 912.1,735.0 912.6,734.5 913.1,734.7 913.7,734.0 914.2,734.3 914.7,734.6 915.2,734.7 915.8,734.7 916.3,735.3 916.8,734.7 917.3,733.9 917.8,734.2 918.4,734.6 918.9,735.2 919.4,734.4 919.9,734.5 920.4,734.7 921.0,734.4 921.5,734.3 922.0,734.6 922.5,735.2 923.0,734.9 923.6,734.6 924.1,734.9 924.6,734.2 925.1,735.2 925.7,735.1 926.2,734.9 926.7,734.0 927.2,735.7 927.7,733.4 928.3,734.3 928.8,734.4 929.3,735.1 929.8,734.1 930.3,734.9 930.9,734.7 931.4,734.7 931.9,735.2 932.4,735.5 932.9,735.0 933.5,734.7 934.0,733.8 934.5,735.5 935.0,734.7 935.5,734.0 936.1,734.9 936.6,735.5 937.1,734.8 937.6,734.3 938.2,735.9 938.7,735.1 939.2,735.0 939.7,735.3 940.2,733.9 940.8,734.8 941.3,734.8 941.8,735.9 942.3,734.6 942.8,734.6 943.4,734.3 943.9,734.5 944.4,734.8 944.9,735.0 945.4,734.8 946.0,735.8 946.5,735.1 947.0,735.2 947.5,735.5 948.0,735.2 948.6,734.7 949.1,734.2 949.6,735.1 950.1,734.6 950.7,735.5 951.2,734.6 951.7,733.9 952.2,735.0 952.7,735.4 953.3,734.9 953.8,735.0 954.3,735.0 954.8,735.7 955.3,735.1 955.9,734.9 956.4,734.7 956.9,734.2 957.4,735.6 957.9,735.5 958.5,734.5 959.0,735.3 959.5,735.1 960.0,734.8 960.5,734.8 961.1,735.3 961.6,734.4 962.1,734.8 962.6,735.0 963.2,735.0 963.7,734.9 964.2,735.1 964.7,735.2 965.2,734.6 965.8,735.0 966.3,734.8 966.8,735.7 967.3,734.4 967.8,734.9 968.4,735.3 968.9,734.9 969.4,734.9 969.9,734.8 970.4,735.2 971.0,734.5 971.5,735.0 972.0,735.0 972.5,734.4 973.0,735.2 973.6,734.8 974.1,735.2 974.6,735.4 975.1,735.2 975.7,734.5 976.2,735.2 976.7,734.3 977.2,734.7 977.7,735.8 978.3,735.1 978.8,735.8 979.3,735.0 979.8,735.1 980.3,734.6 980.9,735.5 981.4,735.0 981.9,735.4 982.4,735.3 982.9,735.3 983.5,735.2 984.0,735.1 984.5,735.1 985.0,734.8 985.6,734.1 986.1,735.3 986.6,736.1 987.1,735.6 987.6,736.2 988.2,735.3 988.7,734.7 989.2,734.7 989.7,735.5 990.2,735.3 990.8,735.1 991.3,735.5 991.8,734.7 992.3,735.4 992.8,735.0 993.4,735.2 993.9,735.7 994.4,735.1 994.9,735.8 995.4,735.8 996.0,734.8 996.5,736.2 997.0,734.6 997.5,735.1 998.1,735.5 998.6,734.1 999.1,735.6 999.6,735.7 1000.1,735.1 1000.7,735.3 1001.2,735.3 1001.7,735.1 1002.2,735.7 1002.7,735.0 1003.3,735.2 1003.8,735.4 1004.3,735.6 1004.8,735.7 1005.3,734.5 1005.9,734.3 1006.4,735.1 1006.9,735.2 1007.4,734.7 1007.9,735.3 1008.5,735.5 1009.0,735.4 1009.5,736.0 1010.0,734.7 1010.6,735.2 1011.1,736.1 1011.6,735.5 1012.1,734.7 1012.6,735.3 1013.2,735.8 1013.7,736.2 1014.2,735.5 1014.7,735.8 1015.2,734.7 1015.8,735.1 1016.3,735.8 1016.8,734.8 1017.3,735.2 1017.8,734.4 1018.4,735.9 1018.9,735.2 1019.4,735.5 1019.9,734.6 1020.4,734.6 1021.0,736.1 1021.5,735.1 1022.0,735.0 1022.5,735.5 1023.1,735.5 1023.6,734.4 1024.1,734.8 1024.6,735.3 1025.1,735.3 1025.7,735.4 1026.2,735.1 1026.7,735.1 1027.2,735.4 1027.7,735.0 1028.3,734.9 1028.8,735.0 1029.3,735.3 1029.8,735.2 1030.3,735.1 1030.9,735.2 1031.4,735.3 1031.9,735.4 1032.4,735.4 1033.0,734.7 1033.5,735.7 1034.0,734.6 1034.5,735.5 1035.0,735.0 1035.6,735.6 1036.1,735.8 1036.6,734.4 1037.1,735.6 1037.6,735.4 1038.2,735.1 1038.7,735.5 1039.2,735.1 1039.7,735.4 1040.2,734.8 1040.8,735.7 1041.3,735.6 1041.8,735.6 1042.3,735.0 1042.8,736.1 1043.4,736.2 1043.9,735.3 1044.4,735.1 1044.9,735.1 1045.5,735.6 1046.0,735.8 1046.5,735.0 1047.0,734.4 1047.5,735.5 1048.1,735.3 1048.6,735.4 1049.1,735.6 1049.6,734.8 1050.1,735.4 1050.7,735.2 1051.2,735.5 1051.7,735.9 1052.2,735.3 1052.7,734.9 1053.3,735.9 1053.8,735.7 1054.3,735.2 1054.8,734.5 1055.3,734.9 1055.9,735.4 1056.4,735.6 1056.9,735.1 1057.4,735.5 1058.0,735.1 1058.5,735.1 1059.0,735.6 1059.5,735.2 1060.0,735.4 1060.6,735.7 1061.1,735.9 1061.6,735.1 1062.1,735.2 1062.6,734.7 1063.2,734.8 1063.7,735.5 1064.2,735.1 1064.7,734.5 1065.2,735.6 1065.8,735.0 1066.3,735.2 1066.8,735.5 1067.3,735.5 1067.8,735.3 1068.4,734.5 1068.9,735.6 1069.4,735.1 1069.9,734.7 1070.5,734.4 1071.0,736.0 1071.5,735.4 1072.0,735.4 1072.5,735.6 1073.1,735.3 1073.6,734.7 1074.1,735.7 1074.6,735.8 1075.1,735.6 1075.7,736.1 1076.2,736.2 1076.7,735.0 1077.2,735.2 1077.7,735.8 1078.3,735.4 1078.8,735.5 1079.3,735.8 1079.8,735.7 1080.4,735.2 1080.9,735.4 1081.4,735.0 1081.9,735.3 1082.4,734.9 1083.0,734.5 1083.5,735.1 1084.0,735.1 1084.5,735.8 1085.0,736.1 1085.6,735.4 1086.1,735.6 1086.6,735.1 1087.1,734.9 1087.6,735.2 1088.2,735.2 1088.7,735.5 1089.2,735.4 1089.7,736.1 1090.2,735.2 1090.8,734.6 1091.3,735.4 1091.8,735.0 1092.3,735.4 1092.9,735.8 1093.4,735.0 1093.9,735.2 1094.4,735.5 1094.9,734.8 1095.5,735.3 1096.0,735.4 1096.5,735.5 1097.0,735.6 1097.5,735.4 1098.1,735.3 1098.6,734.4 1099.1,733.8 1099.6,734.5 1100.1,735.5 1100.7,734.9 1101.2,733.7 1101.7,734.5 1102.2,734.7 1102.7,733.5 1103.3,734.4 1103.8,733.4 1104.3,734.0 1104.8,733.0 1105.4,733.6 1105.9,730.6 1106.4,729.9 1106.9,727.4 1107.4,726.5 1108.0,724.1 1108.5,723.1 1109.0,722.7 1109.5,722.9 1110.0,724.1 1110.6,724.7 1111.1,725.4 1111.6,726.7 1112.1,728.3 1112.6,729.6 1113.2,730.7 1113.7,731.4 1114.2,732.8 1114.7,732.8 1115.2,733.8 1115.8,734.4 1116.3,734.2 1116.8,734.3 1117.3,734.4 1117.9,735.0 1118.4,734.7 1118.9,734.3 1119.4,734.8 1119.9,734.6 1120.5,735.8 1121.0,735.1 1121.5,734.5 1122.0,735.3 1122.5,735.6 1123.1,735.4 1123.6,735.1 1124.1,735.4 1124.6,735.4 1125.1,735.8 1125.7,735.5 1126.2,736.4 1126.7,735.3 1127.2,736.1 1127.7,735.4 1128.3,734.6 1128.8,734.9 1129.3,734.6 1129.8,734.7 1130.4,736.0 1130.9,735.2 1131.4,735.7 1131.9,735.1 1132.4,735.5 1133.0,735.0 1133.5,735.9 1134.0,735.4 1134.5,735.3 1135.0,735.4 1135.6,736.5 1136.1,735.7 1136.6,735.9 1137.1,734.9 1137.6,735.2 1138.2,735.6 1138.7,734.7 1139.2,736.1 1139.7,735.6 1140.3,735.5 1140.8,735.4 1141.3,735.4 1141.8,735.3 1142.3,736.1 1142.9,735.8 1143.4,736.1 1143.9,735.4 1144.4,735.1 1144.9,736.1 1145.5,735.0 1146.0,735.2 1146.5,735.8 1147.0,736.0 1147.5,734.9 1148.1,735.4 1148.6,735.5 1149.1,735.4 1149.6,735.1 1150.1,735.8 1150.7,735.2 1151.2,735.4 1151.7,734.5 1152.2,735.4 1152.8,734.6 1153.3,735.8 1153.8,735.7 1154.3,735.2 1154.8,735.5 1155.4,735.5 1155.9,735.4 1156.4,735.6 1156.9,735.4 1157.4,735.2 1158.0,735.0 1158.5,736.1 1159.0,735.5 1159.5,735.3 1160.0,735.7 1160.6,735.2 1161.1,735.1 1161.6,735.6 1162.1,735.7 1162.6,735.6 1163.2,734.6 1163.7,735.2 1164.2,735.2 1164.7,735.4 1165.3,734.7 1165.8,734.6 1166.3,735.0 1166.8,734.6 1167.3,734.5 1167.9,734.9 1168.4,735.2 1168.9,734.8 1169.4,735.2 1169.9,734.2 1170.5,734.8 1171.0,734.4 1171.5,733.9 1172.0,733.9 1172.5,733.6 1173.1,733.7 1173.6,733.2 1174.1,733.8 1174.6,732.8 1175.1,731.9 1175.7,731.9 1176.2,731.5 1176.7,730.4 1177.2,729.7 1177.8,727.3 1178.3,725.0 1178.8,722.8 1179.3,717.7 1179.8,712.2 1180.4,705.4 1180.9,698.4 1181.4,692.7 1181.9,690.7 1182.4,693.2 1183.0,696.1 1183.5,699.7 1184.0,702.3 1184.5,703.6 1185.0,705.6 1185.6,710.3 1186.1,715.1 1186.6,719.2 1187.1,722.0 1187.7,726.0 1188.2,728.8 1188.7,728.9 1189.2,729.5 1189.7,731.5 1190.3,732.3 1190.8,733.1 1191.3,733.5 1191.8,733.5 1192.3,733.9 1192.9,734.1 1193.4,734.2 1193.9,734.2 1194.4,734.3 1194.9,734.8 1195.5,734.8 1196.0,734.6 1196.5,735.3 1197.0,734.6 1197.5,734.9 1198.1,735.1 1198.6,734.2 1199.1,735.0 1199.6,735.6 1200.2,735.6 1200.7,734.7 1201.2,734.9 1201.7,734.8 1202.2,735.2 1202.8,735.4 1203.3,734.7 1203.8,735.6 1204.3,735.5 1204.8,735.4 1205.4,735.2 1205.9,735.4 1206.4,734.7 1206.9,735.6 1207.4,735.6 1208.0,735.5 1208.5,735.1 1209.0,736.2 1209.5,736.1 1210.0,734.8 1210.6,735.8 1211.1,735.7 1211.6,734.5 1212.1,735.9 1212.7,736.0 1213.2,736.0 1213.7,735.8 1214.2,735.4 1214.7,735.5 1215.3,735.9 1215.8,736.2 1216.3,735.5 1216.8,735.6 1217.3,736.0 1217.9,734.8 1218.4,735.9 1218.9,735.6 1219.4,734.8 1219.9,736.1 1220.5,735.4 1221.0,736.1 1221.5,736.4 1222.0,735.2 1222.5,735.3 1223.1,735.8 1223.6,735.0 1224.1,736.1 1224.6,735.9 1225.2,736.2 1225.7,735.0 1226.2,735.9 1226.7,736.0 1227.2,735.0 1227.8,736.2 1228.3,735.2 1228.8,735.9 1229.3,735.2 1229.8,736.2 1230.4,736.6 1230.9,735.9 1231.4,735.9 1231.9,736.4 1232.4,735.6 1233.0,735.9 1233.5,736.2 1234.0,736.0 1234.5,736.5 1235.1,736.4 1235.6,736.7 1236.1,735.9 1236.6,736.4 1237.1,735.5 1237.7,736.3 1238.2,736.6 1238.7,736.9 1239.2,735.3 1239.7,735.8 1240.3,736.2 1240.8,735.5 1241.3,736.1 1241.8,736.1 1242.3,735.7 1242.9,735.7 1243.4,735.5 1243.9,736.0 1244.4,736.5 1244.9,736.0 1245.5,737.1 1246.0,735.2 1246.5,735.6 1247.0,736.2 1247.6,735.4 1248.1,736.0 1248.6,736.3 1249.1,736.0 1249.6,735.8 1250.2,736.3 1250.7,736.1 1251.2,736.2 1251.7,736.1 1252.2,735.6 1252.8,735.4 1253.3,735.7 1253.8,736.0 1254.3,735.8 1254.8,736.3 1255.4,736.0 1255.9,736.3 1256.4,735.9 1256.9,735.5 1257.4,736.2 1258.0,736.1 1258.5,735.5 1259.0,735.7 1259.5,737.1 1260.1,734.4 1260.6,736.3 1261.1,735.9 1261.6,735.8 1262.1,735.7 1262.7,735.6 1263.2,736.9 1263.7,735.6 1264.2,735.7 1264.7,736.2 1265.3,736.0 1265.8,735.7 1266.3,735.7 1266.8,735.2 1267.3,736.2 1267.9,735.3 1268.4,734.7 1268.9,736.2 1269.4,736.1 1269.9,735.9 1270.5,735.5 1271.0,736.2 1271.5,735.2 1272.0,734.7 1272.6,735.7 1273.1,736.0 1273.6,735.9 1274.1,736.6 1274.6,736.0 1275.2,735.5 1275.7,735.5 1276.2,736.0 1276.7,735.5 1277.2,735.5 1277.8,734.7 1278.3,735.3 1278.8,734.9 1279.3,735.5 1279.8,735.5 1280.4,735.7 1280.9,736.1 1281.4,735.2 1281.9,735.9 1282.4,734.7 1283.0,735.2 1283.5,735.5 1284.0,735.9 1284.5,734.5 1285.1,734.8 1285.6,734.9 1286.1,734.7 1286.6,734.3 1287.1,733.8 1287.7,733.9 1288.2,734.3 1288.7,733.6 1289.2,734.8 1289.7,734.4 1290.3,732.7 1290.8,733.1 1291.3,733.6 1291.8,733.3 1292.3,732.7 1292.9,731.1 1293.4,730.9 1293.9,730.8 1294.4,729.2 1295.0,727.6 1295.5,726.0 1296.0,723.4 1296.5,719.1 1297.0,713.8 1297.6,707.2 1298.1,698.0 1298.6,688.5 1299.1,681.1 1299.6,676.0 1300.2,677.8 1300.7,682.0 1301.2,688.0 1301.7,691.1 1302.2,694.4 1302.8,695.5 1303.3,697.5 1303.8,701.4 1304.3,707.2 1304.8,712.5 1305.4,717.3 1305.9,722.3 1306.4,725.2 1306.9,727.8 1307.5,728.3 1308.0,729.2 1308.5,730.3 1309.0,732.0 1309.5,732.6 1310.1,731.9 1310.6,733.5 1311.1,733.2 1311.6,733.1 1312.1,733.8 1312.7,734.3 1313.2,734.1 1313.7,734.3 1314.2,734.1 1314.7,734.0 1315.3,734.5 1315.8,734.1 1316.3,735.1 1316.8,734.6 1317.3,735.6 1317.9,734.4 1318.4,735.8 1318.9,734.8 1319.4,734.8 1320.0,735.4 1320.5,735.7 1321.0,735.3 1321.5,735.2 1322.0,736.3 1322.6,735.7 1323.1,734.9 1323.6,735.4 1324.1,736.3 1324.6,735.7 1325.2,735.9 1325.7,736.5 1326.2,735.3 1326.7,735.8 1327.2,735.3 1327.8,735.6 1328.3,735.9 1328.8,735.1 1329.3,735.7 1329.8,735.8 1330.4,736.2 1330.9,735.4 1331.4,735.1 1331.9,735.9 1332.5,735.2 1333.0,735.8 1333.5,736.0 1334.0,735.4 1334.5,735.7 1335.1,735.3 1335.6,734.5 1336.1,735.1 1336.6,734.9 1337.1,735.8 1337.7,735.3 1338.2,735.7 1338.7,735.8 1339.2,736.3 1339.7,735.7 1340.3,735.6 1340.8,736.1 1341.3,736.6 1341.8,735.8 1342.4,736.0 1342.9,735.8 1343.4,735.5 1343.9,735.2 1344.4,735.8 1345.0,735.7 1345.5,735.7 1346.0,736.8 1346.5,735.7 1347.0,736.0 1347.6,735.7 1348.1,736.4 1348.6,735.7 1349.1,736.7 1349.6,735.7 1350.2,736.2 1350.7,736.3 1351.2,735.8 1351.7,736.3 1352.2,735.9 1352.8,735.5 1353.3,735.6 1353.8,736.0 1354.3,736.7 1354.9,735.6 1355.4,736.1 1355.9,735.5 1356.4,736.0 1356.9,735.2 1357.5,735.5 1358.0,735.8 1358.5,735.5 1359.0,735.7 1359.5,736.2 1360.1,735.7 1360.6,735.4 1361.1,735.1 1361.6,735.4 1362.1,736.1 1362.7,735.5 1363.2,735.4 1363.7,735.7 1364.2,735.6 1364.7,735.6 1365.3,734.8 1365.8,734.4 1366.3,733.9 1366.8,734.2 1367.4,734.3 1367.9,734.8 1368.4,734.6 1368.9,734.3 1369.4,735.0 1370.0,734.1 1370.5,734.3 1371.0,734.3 1371.5,734.4 1372.0,734.9 1372.6,734.8 1373.1,734.9 1373.6,736.0 1374.1,734.8 1374.6,735.1 1375.2,735.5 1375.7,735.9 1376.2,735.9 1376.7,735.6 1377.2,735.6 1377.8,735.7 1378.3,736.2 1378.8,735.4 1379.3,734.8 1379.9,736.0 1380.4,735.4 1380.9,735.9 1381.4,736.5 1381.9,736.0 1382.5,736.7 1383.0,735.2 1383.5,736.0 1384.0,736.1 1384.5,736.3 1385.1,735.6 1385.6,736.0 1386.1,736.0 1386.6,736.0 1387.1,735.3 1387.7,735.2 1388.2,736.2 1388.7,736.1 1389.2,736.0 1389.7,736.3 1390.3,736.5 1390.8,735.4 1391.3,736.3 1391.8,736.6 1392.4,736.4 1392.9,736.2 1393.4,736.3 1393.9,735.3 1394.4,735.8 1395.0,736.5 1395.5,736.7 1396.0,736.2 1396.5,735.8 1397.0,735.9 1397.6,736.4 1398.1,736.9 1398.6,736.4 1399.1,735.8 1399.6,736.3 1400.2,736.2 1400.7,737.1 1401.2,736.3 1401.7,736.0 1402.3,736.0 1402.8,735.5 1403.3,735.5 1403.8,735.8 1404.3,735.7 1404.9,736.1 1405.4,736.1 1405.9,736.4 1406.4,736.7 1406.9,736.1 1407.5,735.9 1408.0,735.2 1408.5,736.2 1409.0,736.3 1409.5,735.7 1410.1,735.8 1410.6,735.7 1411.1,736.5 1411.6,736.3 1412.1,736.6 1412.7,735.5 1413.2,737.2 1413.7,735.6 1414.2,735.6 1414.8,736.1 1415.3,735.8 1415.8,736.8 1416.3,735.8 1416.8,735.7 1417.4,736.5 1417.9,736.6 1418.4,735.6 1418.9,735.8 1419.4,735.9 1420.0,736.0 1420.5,736.8 1421.0,736.6 1421.5,736.5 1422.0,736.6 1422.6,736.0 1423.1,736.4 1423.6,736.0 1424.1,735.7 1424.6,736.8 1425.2,735.2 1425.7,736.0 1426.2,735.8 1426.7,735.3 1427.3,735.8 1427.8,736.0 1428.3,736.2 1428.8,735.6 1429.3,736.4 1429.9,736.2 1430.4,736.4 1430.9,735.1 1431.4,735.8 1431.9,735.7 1432.5,736.3 1433.0,735.7 1433.5,735.8 1434.0,735.5 1434.5,735.5 1435.1,735.6 1435.6,736.4 1436.1,735.5 1436.6,734.9 1437.1,736.1 1437.7,735.8 1438.2,736.3 1438.7,736.2 1439.2,735.9 1439.8,735.8 1440.3,735.8 1440.8,736.0 1441.3,735.6 1441.8,736.1 1442.4,736.6 1442.9,735.7 1443.4,735.7 1443.9,735.7 1444.4,736.3 1445.0,736.3 1445.5,736.6 1446.0,736.3 1446.5,736.0 1447.0,736.2 1447.6,735.4 1448.1,736.2 1448.6,736.1 1449.1,736.9 1449.7,736.6 1450.2,735.6 1450.7,735.7 1451.2,736.4 1451.7,735.1 1452.3,735.6 1452.8,736.1 1453.3,736.3 1453.8,736.1 1454.3,736.5 1454.9,735.8 1455.4,736.0 1455.9,735.9 1456.4,735.5 1456.9,736.0 1457.5,735.7 1458.0,736.0 1458.5,734.8 1459.0,736.0 1459.5,735.7 1460.1,735.6 1460.6,735.9 1461.1,735.7 1461.6,736.3 1462.2,736.4 1462.7,736.3 1463.2,736.3 1463.7,736.0 1464.2,735.8 1464.8,735.2 1465.3,735.6 1465.8,736.3 1466.3,736.1 1466.8,735.5 1467.4,735.7 1467.9,736.1 1468.4,735.5 1468.9,736.2 1469.4,735.1 1470.0,735.7 1470.5,735.5 1471.0,735.1 1471.5,735.0 1472.0,734.8 1472.6,733.3 1473.1,734.2 1473.6,734.2 1474.1,733.5 1474.7,733.5 1475.2,732.2 1475.7,732.5 1476.2,732.7 1476.7,732.5 1477.3,733.3 1477.8,733.1 1478.3,732.8 1478.8,733.6 1479.3,733.7 1479.9,733.3 1480.4,734.0 1480.9,734.1 1481.4,734.3 1481.9,733.9 1482.5,735.2 1483.0,735.2 1483.5,735.0 1484.0,735.3 1484.5,735.5 1485.1,735.3 1485.6,735.2 1486.1,735.6 1486.6,735.4 1487.2,735.5 1487.7,735.2 1488.2,735.6 1488.7,736.2 1489.2,735.9 1489.8,735.8 1490.3,735.7 1490.8,735.7 1491.3,735.2 1491.8,736.6 1492.4,735.6 1492.9,735.2 1493.4,736.1 1493.9,736.0 1494.4,735.7 1495.0,735.3 1495.5,735.3 1496.0,736.6 1496.5,735.9 1497.1,735.6 1497.6,736.8 1498.1,735.7 1498.6,735.5 1499.1,736.2 1499.7,736.1 1500.2,736.7 1500.7,735.3 1501.2,736.1 1501.7,735.2 1502.3,736.2 1502.8,735.7 1503.3,735.7 1503.8,735.6 1504.3,736.3 1504.9,736.7 1505.4,735.9 1505.9,735.8 1506.4,735.7 1506.9,736.2 1507.5,735.5 1508.0,737.5 1508.5,735.8 1509.0,736.7 1509.6,736.0 1510.1,735.3 1510.6,735.2 1511.1,735.8 1511.6,735.6 1512.2,735.8 1512.7,735.4 1513.2,737.0 1513.7,736.9 1514.2,735.1 1514.8,736.1 1515.3,736.5 1515.8,735.8 1516.3,735.8 1516.8,736.4 1517.4,736.1 1517.9,735.3 1518.4,736.4 1518.9,735.7 1519.4,736.7 1520.0,735.4 1520.5,734.8 1521.0,735.9 1521.5,736.4 1522.1,736.0 1522.6,735.9 1523.1,735.4 1523.6,736.2 1524.1,734.9 1524.7,736.1 1525.2,735.2 1525.7,735.4 1526.2,735.1 1526.7,735.2 1527.3,736.3 1527.8,735.0 1528.3,735.6 1528.8,735.1 1529.3,735.9 1529.9,734.8 1530.4,735.3 1530.9,735.7 1531.4,736.2 1531.9,734.5 1532.5,734.6 1533.0,734.8 1533.5,735.3 1534.0,733.9 1534.6,734.5 1535.1,733.4 1535.6,732.7 1536.1,731.9 1536.6,731.9 1537.2,731.4 1537.7,729.8 1538.2,727.8 1538.7,727.3 1539.2,727.1 1539.8,726.5 1540.3,726.1 1540.8,727.0 1541.3,726.3 1541.8,726.9 1542.4,729.1 1542.9,728.7 1543.4,728.6 1543.9,728.7 1544.4,728.2 1545.0,730.3 1545.5,729.6 1546.0,730.4 1546.5,732.0 1547.1,733.3 1547.6,733.0 1548.1,733.8 1548.6,733.8 1549.1,734.4 1549.7,733.7 1550.2,735.6 1550.7,734.3 1551.2,735.1 1551.7,733.9 1552.3,735.7 1552.8,735.1 1553.3,735.8 1553.8,734.6 1554.3,735.3 1554.9,734.6 1555.4,734.6 1555.9,735.0 1556.4,733.8 1557.0,734.3 1557.5,734.6 1558.0,734.2 1558.5,733.5 1559.0,732.9 1559.6,732.0 1560.1,733.0 1560.6,732.0 1561.1,733.0 1561.6,732.4 1562.2,732.8 1562.7,732.9 1563.2,733.3 1563.7,733.0 1564.2,733.4 1564.8,733.3 1565.3,734.0 1565.8,734.1 1566.3,734.4 1566.8,734.0 1567.4,734.8 1567.9,734.9 1568.4,735.3 1568.9,735.2 1569.5,734.8 1570.0,735.7 1570.5,735.2 1571.0,735.7 1571.5,734.6 1572.1,735.9 1572.6,736.0 1573.1,735.3 1573.6,736.0 1574.1,735.6 1574.7,736.4 1575.2,736.1 1575.7,735.2 1576.2,735.7 1576.7,735.0 1577.3,735.7 1577.8,736.1 1578.3,736.3 1578.8,735.8 1579.3,735.8 1579.9,736.0 1580.4,735.6 1580.9,736.1 1581.4,736.4 1582.0,736.0 1582.5,736.3 1583.0,735.6 1583.5,735.7 1584.0,736.1 1584.6,736.9 1585.1,736.4 1585.6,736.8 1586.1,736.0 1586.6,736.5 1587.2,735.2 1587.7,736.2 1588.2,735.0 1588.7,736.6 1589.2,736.2 1589.8,736.5 1590.3,736.2 1590.8,735.8 1591.3,735.7 1591.8,736.1 1592.4,736.7 1592.9,736.3 1593.4,735.8 1593.9,735.8 1594.5,735.7 1595.0,735.9 1595.5,736.0 1596.0,735.8 1596.5,736.0 1597.1,735.3 1597.6,736.7 1598.1,736.1 1598.6,736.7 1599.1,736.2 1599.7,736.0 1600.2,736.1 1600.7,736.1 1601.2,735.7 1601.7,735.9 1602.3,736.9 1602.8,736.5 1603.3,735.8 1603.8,736.3 1604.4,735.7 1604.9,736.7 1605.4,735.6 1605.9,736.5 1606.4,736.1 1607.0,736.1 1607.5,735.7 1608.0,735.9 1608.5,735.7 1609.0,735.7 1609.6,736.3 1610.1,737.2 1610.6,735.9 1611.1,736.5 1611.6,736.0 1612.2,735.7 1612.7,736.7 1613.2,736.3 1613.7,736.6 1614.2,736.1 1614.8,736.1 1615.3,735.7 1615.8,735.9 1616.3,736.8 1616.9,735.0 1617.4,736.2 1617.9,736.7 1618.4,736.4 1618.9,736.4 1619.5,735.9 1620.0,736.5 1620.5,736.6 1621.0,736.0 1621.5,736.8 1622.1,735.8 1622.6,734.9 1623.1,736.0 1623.6,736.0 1624.1,735.6 1624.7,735.8 1625.2,735.8 1625.7,735.2 1626.2,736.5 1626.7,736.0 1627.3,737.2 1627.8,736.0 1628.3,736.1 1628.8,735.3 1629.4,736.4 1629.9,735.4 1630.4,736.2 1630.9,736.3 1631.4,736.2 1632.0,735.5 1632.5,735.5 1633.0,736.2 1633.5,736.3 1634.0,736.4 1634.6,735.7 1635.1,735.7 1635.6,736.5 1636.1,735.4 1636.6,735.9 1637.2,735.3 1637.7,734.8 1638.2,734.8 1638.7,735.4 1639.2,735.1 1639.8,735.0 1640.3,734.4 1640.8,734.0 1641.3,734.1 1641.9,733.5 1642.4,732.5 1642.9,732.7 1643.4,733.3 1643.9,732.0 1644.5,732.4 1645.0,732.1 1645.5,732.5 1646.0,731.9 1646.5,731.9 1647.1,732.9 1647.6,732.5 1648.1,732.9 1648.6,732.9 1649.1,733.7 1649.7,733.5 1650.2,733.7 1650.7,733.4 1651.2,733.4 1651.8,734.0 1652.3,735.0 1652.8,735.1 1653.3,735.3 1653.8,735.0 1654.4,734.8 1654.9,735.9 1655.4,735.6 1655.9,735.8 1656.4,735.2 1657.0,735.4 1657.5,736.0 1658.0,736.1 1658.5,735.3 1659.0,736.0 1659.6,735.3 1660.1,736.4 1660.6,736.2 1661.1,736.9 1661.6,736.6 1662.2,735.6 1662.7,736.0 1663.2,735.7 1663.7,736.0 1664.3,736.3 1664.8,736.0 1665.3,736.0 1665.8,735.4 1666.3,736.3 1666.9,736.0 1667.4,736.3 1667.9,736.5 1668.4,736.0 1668.9,736.3 1669.5,735.8 1670.0,736.5 1670.5,736.0 1671.0,735.8 1671.5,735.9 1672.1,735.4 1672.6,735.8 1673.1,735.9 1673.6,736.1 1674.1,736.0 1674.7,735.8 1675.2,736.0 1675.7,735.1 1676.2,736.1 1676.8,736.3 1677.3,736.4 1677.8,736.6 1678.3,736.0 1678.8,736.0 1679.4,735.9 1679.9,735.9 1680.4,736.1 1680.9,736.7 1681.4,735.3 1682.0,735.9 1682.5,736.2 1683.0,735.6 1683.5,736.3 1684.0,735.5 1684.6,735.9 1685.1,735.4 1685.6,736.2 1686.1,735.7 1686.6,736.4 1687.2,736.0 1687.7,735.7 1688.2,735.9 1688.7,736.1 1689.3,736.1 1689.8,736.0 1690.3,735.9 1690.8,736.1 1691.3,736.5 1691.9,735.8 1692.4,736.3 1692.9,735.5 1693.4,736.5 1693.9,736.3 1694.5,735.9 1695.0,736.0 1695.5,735.3 1696.0,736.1 1696.5,736.0 1697.1,735.5 1697.6,735.9 1698.1,736.4 1698.6,736.2 1699.1,736.2 1699.7,735.9 1700.2,736.5 1700.7,736.1 1701.2,736.5 1701.8,737.1 1702.3,735.2 1702.8,735.9 1703.3,736.1 1703.8,735.8 1704.4,736.6 1704.9,736.0 1705.4,736.9 1705.9,736.5 1706.4,736.3 1707.0,736.1 1707.5,736.5 1708.0,736.3 1708.5,736.8 1709.0,736.3 1709.6,736.6 1710.1,736.3 1710.6,736.3 1711.1,735.4 1711.7,736.1 1712.2,736.3 1712.7,735.6 1713.2,735.5 1713.7,736.0 1714.3,736.3 1714.8,735.4 1715.3,736.3 1715.8,736.6 1716.3,736.0 1716.9,736.2 1717.4,736.3 1717.9,735.8 1718.4,736.4 1718.9,736.3 1719.5,735.6 1720.0,736.4 1720.5,736.5 1721.0,735.7 1721.5,736.5 1722.1,736.0 1722.6,735.5 1723.1,735.7 1723.6,735.7 1724.2,736.4 1724.7,735.9 1725.2,736.0 1725.7,735.6 1726.2,736.1 1726.8,735.6 1727.3,735.8 1727.8,736.4 1728.3,736.4 1728.8,735.9 1729.4,736.1 1729.9,736.4 1730.4,736.1 1730.9,736.7 1731.4,736.7 1732.0,736.1 1732.5,735.6 1733.0,736.1 1733.5,736.7 1734.0,736.6 1734.6,736.7 1735.1,736.6 1735.6,735.9 1736.1,736.3 1736.7,736.6 1737.2,736.3 1737.7,736.5 1738.2,735.7 1738.7,735.6 1739.3,737.0 1739.8,736.5 1740.3,736.4 1740.8,736.8 1741.3,737.1 1741.9,737.4 1742.4,735.1 1742.9,736.3 1743.4,736.6 1743.9,735.3 1744.5,735.3 1745.0,736.1 1745.5,737.0 1746.0,736.6 1746.5,737.1 1747.1,736.3 1747.6,736.6 1748.1,736.8 1748.6,736.4 1749.2,736.1 1749.7,736.2 1750.2,734.5 1750.7,736.3 1751.2,735.3 1751.8,735.8 1752.3,736.5 1752.8,736.3 1753.3,735.2 1753.8,736.4 1754.4,736.5 1754.9,736.2 1755.4,736.4 1755.9,736.4 1756.4,735.4 1757.0,736.0 1757.5,736.0 1758.0,735.6 1758.5,736.1 1759.1,735.8 1759.6,736.1 1760.1,735.7 1760.6,736.6 1761.1,737.1 1761.7,735.9 1762.2,736.1 1762.7,736.2 1763.2,736.3 1763.7,736.1 1764.3,735.1 1764.8,736.3 1765.3,736.1 1765.8,735.6 1766.3,736.0 1766.9,735.9 1767.4,736.2 1767.9,736.0 1768.4,736.0 1768.9,736.2 1769.5,736.2 1770.0,736.1 1770.5,736.6 1771.0,736.2 1771.6,735.8 1772.1,736.9 1772.6,736.2 1773.1,736.8 1773.6,735.6 1774.2,736.4 1774.7,736.9 1775.2,736.7 1775.7,736.1 1776.2,735.8 1776.8,735.8 1777.3,736.0 1777.8,735.7 1778.3,735.8 1778.8,735.6 1779.4,735.6 1779.9,736.2 1780.4,735.3 1780.9,736.2 1781.4,736.4 1782.0,735.7 1782.5,735.7 1783.0,736.1 1783.5,736.1 1784.1,736.5 1784.6,735.2 1785.1,736.0 1785.6,736.7 1786.1,736.1 1786.7,736.9 1787.2,737.0 1787.7,735.8 1788.2,736.7 1788.7,736.3 1789.3,736.0 1789.8,735.9 1790.3,735.9 1790.8,735.6 1791.3,735.9 1791.9,736.4 1792.4,736.5 1792.9,735.8 1793.4,736.2 1793.9,736.1 1794.5,734.8 1795.0,736.2 1795.5,735.3 1796.0,735.3 1796.6,736.2 1797.1,736.5 1797.6,735.2 1798.1,735.3 1798.6,735.2 1799.2,735.3 1799.7,735.3 1800.2,735.0 1800.7,734.5 1801.2,735.9 1801.8,734.7 1802.3,734.4 1802.8,734.9 1803.3,734.1 1803.8,734.4 1804.4,733.9 1804.9,733.7 1805.4,732.7 1805.9,732.8 1806.4,731.6 1807.0,731.6 1807.5,732.2 1808.0,732.1 1808.5,733.0 1809.1,732.5 1809.6,732.0 1810.1,733.0 1810.6,732.9 1811.1,733.3 1811.7,732.7 1812.2,733.0 1812.7,733.5 1813.2,734.0 1813.7,734.1 1814.3,734.5 1814.8,733.7 1815.3,734.5 1815.8,734.9 1816.3,735.4 1816.9,735.2 1817.4,735.2 1817.9,735.3 1818.4,735.4 1819.0,734.9 1819.5,735.7 1820.0,736.1 1820.5,736.1 1821.0,735.0 1821.6,735.8 1822.1,735.2 1822.6,736.4 1823.1,736.2 1823.6,736.3 1824.2,735.6 1824.7,735.1 1825.2,735.5 1825.7,735.8 1826.2,735.3 1826.8,735.6 1827.3,736.8 1827.8,735.4 1828.3,736.3 1828.8,735.2 1829.4,736.2 1829.9,736.4 1830.4,736.3 1830.9,736.6 1831.5,736.9 1832.0,735.5 1832.5,736.2 1833.0,736.3 1833.5,736.3 1834.1,736.8 1834.6,736.2 1835.1,736.7 1835.6,736.6 1836.1,736.2 1836.7,736.4 1837.2,735.8 1837.7,736.3 1838.2,736.2 1838.7,736.1 1839.3,735.9 1839.8,736.6 1840.3,736.1 1840.8,737.2 1841.3,736.7 1841.9,736.5 1842.4,735.9 1842.9,736.6 1843.4,736.2 1844.0,736.2 1844.5,735.7 1845.0,736.4 1845.5,736.3 1846.0,736.0 1846.6,735.9 1847.1,736.1 1847.6,735.6 1848.1,735.9 1848.6,736.8 1849.2,735.9 1849.7,737.2 1850.2,735.6 1850.7,736.7 1851.2,736.7 1851.8,736.7 1852.3,736.4 1852.8,735.5 1853.3,736.7 1853.8,736.7 1854.4,736.2 1854.9,735.1 1855.4,736.7 1855.9,735.8 1856.5,736.1 1857.0,736.8 1857.5,736.8 1858.0,736.4 1858.5,735.9 1859.1,737.0 1859.6,736.7 1860.1,736.1"/>
<polyline id="c3" points="193.3,534.9 193.8,530.6 194.3,533.4 194.9,532.5 195.4,532.6 195.9,532.8 196.4,531.1 196.9,532.8 197.5,532.2 198.0,536.2 198.5,533.2 199.0,532.7 199.6,532.7 200.1,532.4 200.6,532.0 201.1,532.6 201.6,533.5 202.2,532.8 202.7,533.9 203.2,532.8 203.7,533.0 204.2,534.5 204.8,533.5 205.3,532.5 205.8,532.8 206.3,533.5 206.8,534.8 207.4,532.7 207.9,532.8 208.4,533.9 208.9,532.2 209.4,532.7 210.0,533.8 210.5,533.5 211.0,533.1 211.5,533.6 212.1,530.3 212.6,534.0 213.1,532.1 213.6,531.4 214.1,533.3 214.7,533.7 215.2,532.6 215.7,532.0 216.2,533.0 216.7,532.9 217.3,534.3 217.8,533.7 218.3,533.2 218.8,534.1 219.3,532.8 219.9,532.1 220.4,533.6 220.9,533.5 221.4,532.8 221.9,532.3 222.5,533.2 223.0,530.6 223.5,533.7 224.0,533.5 224.6,531.4 225.1,533.1 225.6,532.1 226.1,533.7 226.6,531.1 227.2,532.1 227.7,533.7 228.2,534.1 228.7,530.9 229.2,532.5 229.8,533.3 230.3,532.4 230.8,534.5 231.3,531.9 231.8,533.3 232.4,532.0 232.9,534.3 233.4,533.0 233.9,532.6 234.4,531.4 235.0,534.6 235.5,533.7 236.0,533.7 236.5,534.1 237.1,533.3 237.6,532.4 238.1,532.2 238.6,532.2 239.1,534.3 239.7,531.6 240.2,532.4 240.7,532.7 241.2,533.2 241.7,533.5 242.3,531.8 242.8,531.4 243.3,533.0 243.8,534.1 244.3,533.7 244.9,533.2 245.4,532.7 245.9,533.3 246.4,532.8 247.0,533.8 247.5,532.2 248.0,533.1 248.5,532.9 249.0,533.5 249.6,533.2 250.1,535.4 250.6,534.4 251.1,534.4 251.6,531.1 252.2,532.7 252.7,532.4 253.2,533.5 253.7,530.8 254.2,534.1 254.8,534.0 255.3,531.8 255.8,532.1 256.3,532.2 256.8,533.0 257.4,533.6 257.9,534.9 258.4,532.8 258.9,533.7 259.5,533.1 260.0,534.7 260.5,533.7 261.0,534.3 261.5,532.0 262.1,532.8 262.6,532.2 263.1,534.4 263.6,533.6 264.1,532.7 264.7,532.6 265.2,533.5 265.7,532.3 266.2,532.1 266.7,533.5 267.3,535.3 267.8,532.8 268.3,532.5 268.8,531.9 269.3,531.7 269.9,533.5 270.4,533.8 270.9,533.0 271.4,533.3 272.0,533.1 272.5,533.1 273.0,531.5 273.5,532.6 274.0,533.1 274.6,532.2 275.1,532.5 275.6,532.2 276.1,532.7 276.6,533.8 277.2,532.6 277.7,532.8 278.2,533.8 278.7,533.6 279.2,534.6 279.8,531.0 280.3,533.8 280.8,532.5 281.3,533.1 281.8,533.8 282.4,534.0 282.9,534.0 283.4,533.1 283.9,534.5 284.5,532.7 285.0,532.9 285.5,533.8 286.0,532.5 286.5,535.0 287.1,534.0 287.6,535.1 288.1,533.0 288.6,532.6 289.1,533.2 289.7,533.7 290.2,532.4 290.7,533.4 291.2,533.0 291.7,534.5 292.3,532.4 292.8,534.0 293.3,532.4 293.8,532.1 294.3,532.3 294.9,531.9 295.4,533.1 295.9,534.0 296.4,533.1 297.0,533.6 297.5,534.5 298.0,533.2 298.5,533.2 299.0,532.7 299.6,531.5 300.1,533.7 300.6,531.3 301.1,533.6 301.6,533.0 302.2,534.1 302.7,532.9 303.2,532.2 303.7,533.3 304.2,532.5 304.8,532.8 305.3,533.0 305.8,532.9 306.3,532.8 306.9,532.2 307.4,532.8 307.9,531.0 308.4,532.8 308.9,531.8 309.5,534.0 310.0,534.2 310.5,531.1 311.0,533.1 311.5,532.9 312.1,532.0 312.6,533.5 313.1,532.5 313.6,531.3 314.1,532.7 314.7,532.8 315.2,533.1 315.7,531.8 316.2,533.6 316.7,533.7 317.3,531.9 317.8,532.3 318.3,532.9 318.8,532.4 319.4,534.6 319.9,533.2 320.4,532.0 320.9,532.2 321.4,532.9 322.0,535.1 322.5,532.8 323.0,533.1 323.5,533.4 324.0,532.9 324.6,535.1 325.1,532.4 325.6,533.7 326.1,533.1 326.6,533.5 327.2,531.8 327.7,534.6 328.2,532.8 328.7,533.0 329.2,532.0 329.8,532.2 330.3,533.5 330.8,533.9 331.3,533.6 331.9,534.1 332.4,533.6 332.9,532.9 333.4,533.7 333.9,533.5 334.5,532.8 335.0,533.6 335.5,534.1 336.0,533.1 336.5,532.5 337.1,533.6 337.6,534.7 338.1,532.7 338.6,532.8 339.1,532.7 339.7,534.0 340.2,531.1 340.7,533.2 341.2,534.0 341.7,532.1 342.3,534.2 342.8,533.3 343.3,532.3 343.8,533.0 344.4,531.3 344.9,532.3 345.4,534.5 345.9,531.9 346.4,534.5 347.0,532.7 347.5,533.7 348.0,532.8 348.5,530.6 349.0,532.2 349.6,532.9 350.1,531.6 350.6,531.4 351.1,533.0 351.6,532.1 352.2,531.0 352.7,532.0 353.2,533.5 353.7,532.2 354.3,533.5 354.8,534.0 355.3,532.6 355.8,531.5 356.3,531.3 356.9,532.5 357.4,533.3 357.9,532.7 358.4,533.0 358.9,532.0 359.5,532.7 360.0,531.9 360.5,532.0 361.0,531.1 361.5,530.8 362.1,531.7 362.6,531.1 363.1,531.1 363.6,532.6 364.1,531.8 364.7,534.5 365.2,532.4 365.7,530.7 366.2,531.7 366.8,530.8 367.3,528.9 367.8,529.0 368.3,524.7 368.8,518.8 369.4,517.8 369.9,511.6 370.4,510.4 370.9,508.2 371.4,510.5 372.0,517.5 372.5,519.7 373.0,524.8 373.5,528.7 374.0,529.2 374.6,530.0 375.1,530.8 375.6,531.9 376.1,530.6 376.6,532.1 377.2,532.2 377.7,533.9 378.2,531.5 378.7,531.0 379.3,532.6 379.8,531.6 380.3,532.3 380.8,532.1 381.3,533.1 381.9,531.4 382.4,532.0 382.9,529.7 383.4,531.2 383.9,533.6 384.5,531.4 385.0,531.4 385.5,530.9 386.0,532.7 386.5,532.3 387.1,531.0 387.6,532.7 388.1,532.3 388.6,532.8 389.1,531.5 389.7,533.7 390.2,532.5 390.7,532.0 391.2,531.6 391.8,531.8 392.3,532.9 392.8,531.8 393.3,533.1 393.8,532.6 394.4,533.3 394.9,532.8 395.4,532.0 395.9,530.2 396.4,532.3 397.0,532.8 397.5,532.2 398.0,532.5 398.5,531.6 399.0,531.6 399.6,531.1 400.1,533.3 400.6,532.1 401.1,531.5 401.7,530.7 402.2,531.8 402.7,533.3 403.2,532.4 403.7,531.2 404.3,533.3 404.8,533.3 405.3,532.8 405.8,532.6 406.3,533.0 406.9,532.4 407.4,532.6 407.9,531.1 408.4,533.3 408.9,532.1 409.5,533.8 410.0,529.9 410.5,532.5 411.0,532.8 411.5,531.5 412.1,532.2 412.6,532.5 413.1,532.3 413.6,531.3 414.2,531.6 414.7,532.7 415.2,533.0 415.7,531.8 416.2,531.8 416.8,531.9 417.3,532.7 417.8,530.7 418.3,530.4 418.8,531.8 419.4,530.6 419.9,531.1 420.4,531.8 420.9,532.1 421.4,530.6 422.0,532.4 422.5,530.0 423.0,532.2 423.5,530.1 424.0,530.4 424.6,532.2 425.1,531.2 425.6,530.8 426.1,531.2 426.7,532.0 427.2,531.5 427.7,531.5 428.2,532.6 428.7,530.9 429.3,531.1 429.8,531.0 430.3,532.6 430.8,532.5 431.3,532.7 431.9,531.5 432.4,531.3 432.9,532.3 433.4,531.1 433.9,532.3 434.5,532.2 435.0,530.8 435.5,531.4 436.0,531.3 436.5,533.1 437.1,533.9 437.6,531.3 438.1,531.4 438.6,529.2 439.2,531.6 439.7,531.4 440.2,530.4 440.7,532.1 441.2,529.9 441.8,531.2 442.3,531.5 442.8,530.2 443.3,532.2 443.8,532.3 444.4,530.0 444.9,530.0 445.4,531.9 445.9,531.3 446.4,530.2 447.0,531.0 447.5,531.2 448.0,531.2 448.5,532.1 449.0,531.7 449.6,533.0 450.1,532.6 450.6,531.9 451.1,532.3 451.7,532.5 452.2,531.9 452.7,530.1 453.2,532.1 453.7,531.3 454.3,532.8 454.8,531.3 455.3,531.8 455.8,531.6 456.3,532.8 456.9,531.4 457.4,531.0 457.9,531.5 458.4,530.8 458.9,531.4 459.5,531.2 460.0,531.5 460.5,533.1 461.0,530.9 461.6,531.3 462.1,531.1 462.6,531.9 463.1,530.1 463.6,530.6 464.2,531.2 464.7,531.8 465.2,531.2 465.7,530.8 466.2,530.4 466.8,531.7 467.3,532.6 467.8,531.6 468.3,531.5 468.8,531.7 469.4,530.4 469.9,531.0 470.4,531.0 470.9,531.6 471.4,531.3 472.0,530.2 472.5,532.4 473.0,532.9 473.5,531.1 474.1,531.7 474.6,531.6 475.1,532.1 475.6,530.0 476.1,532.9 476.7,530.9 477.2,532.6 477.7,531.5 478.2,531.0 478.7,531.3 479.3,532.3 479.8,530.6 480.3,531.1 480.8,531.0 481.3,529.8 481.9,532.7 482.4,532.0 482.9,531.5 483.4,532.6 483.9,530.6 484.5,531.4 485.0,533.2 485.5,532.5 486.0,529.4 486.6,528.4 487.1,530.6 487.6,532.6 488.1,531.1 488.6,531.4 489.2,532.2 489.7,530.8 490.2,531.8 490.7,532.4 491.2,532.1 491.8,532.0 492.3,531.1 492.8,532.2 493.3,531.3 493.8,532.9 494.4,534.2 494.9,531.0 495.4,529.7 495.9,531.3 496.4,532.1 497.0,532.8 497.5,532.8 498.0,531.1 498.5,531.1 499.1,533.0 499.6,530.8 500.1,532.9 500.6,531.6 501.1,532.6 501.7,532.6 502.2,532.6 502.7,532.7 503.2,531.0 503.7,532.2 504.3,532.0 504.8,532.3 505.3,533.1 505.8,531.7 506.3,531.3 506.9,531.3 507.4,531.7 507.9,532.7 508.4,531.3 509.0,533.2 509.5,532.3 510.0,531.9 510.5,530.8 511.0,532.3 511.6,532.8 512.1,530.5 512.6,533.3 513.1,533.7 513.6,532.5 514.2,532.6 514.7,534.5 515.2,533.4 515.7,531.4 516.2,532.2 516.8,532.1 517.3,532.1 517.8,530.0 518.3,533.0 518.8,531.7 519.4,532.5 519.9,532.2 520.4,533.1 520.9,532.1 521.5,531.6 522.0,532.9 522.5,533.7 523.0,532.1 523.5,533.7 524.1,532.7 524.6,531.9 525.1,533.9 525.6,531.7 526.1,533.4 526.7,532.0 527.2,532.9 527.7,531.3 528.2,531.7 528.7,533.5 529.3,532.7 529.8,532.6 530.3,532.2 530.8,533.0 531.3,531.3 531.9,531.6 532.4,532.5 532.9,531.8 533.4,532.0 534.0,532.6 534.5,532.5 535.0,532.5 535.5,534.2 536.0,533.6 536.6,533.9 537.1,532.7 537.6,532.3 538.1,531.4 538.6,532.4 539.2,530.8 539.7,532.2 540.2,533.5 540.7,534.3 541.2,533.7 541.8,532.0 542.3,533.3 542.8,532.1 543.3,533.6 543.8,532.8 544.4,533.7 544.9,535.3 545.4,533.8 545.9,535.1 546.5,533.1 547.0,532.7 547.5,534.2 548.0,534.6 548.5,532.5 549.1,533.1 549.6,531.7 550.1,532.9 550.6,533.9 551.1,533.0 551.7,532.6 552.2,531.8 552.7,533.4 553.2,533.8 553.7,533.7 554.3,533.4 554.8,532.0 555.3,534.7 555.8,533.1 556.3,533.1 556.9,533.9 557.4,531.3 557.9,533.2 558.4,533.1 559.0,533.6 559.5,534.5 560.0,533.7 560.5,531.7 561.0,533.0 561.6,533.5 562.1,533.5 562.6,532.3 563.1,532.0 563.6,533.9 564.2,533.7 564.7,533.4 565.2,532.0 565.7,535.0 566.2,531.1 566.8,533.2 567.3,535.3 567.8,533.4 568.3,533.7 568.9,532.6 569.4,534.7 569.9,532.5 570.4,533.8 570.9,533.7 571.5,532.8 572.0,534.4 572.5,532.5 573.0,533.2 573.5,533.7 574.1,533.4 574.6,534.1 575.1,534.5 575.6,533.6 576.1,533.4 576.7,533.4 577.2,533.6 577.7,534.5 578.2,533.7 578.7,534.2 579.3,533.8 579.8,533.3 580.3,534.6 580.8,533.2 581.4,534.0 581.9,535.1 582.4,533.2 582.9,534.0 583.4,532.9 584.0,533.7 584.5,533.0 585.0,533.8 585.5,533.7 586.0,534.2 586.6,535.2 587.1,534.4 587.6,534.6 588.1,534.2 588.6,534.0 589.2,533.7 589.7,533.0 590.2,534.3 590.7,535.3 591.2,534.6 591.8,533.9 592.3,535.4 592.8,534.0 593.3,533.9 593.9,533.6 594.4,533.8 594.9,534.2 595.4,535.6 595.9,534.3 596.5,533.8 597.0,534.1 597.5,534.3 598.0,533.4 598.5,534.5 599.1,534.9 599.6,534.7 600.1,534.8 600.6,533.7 601.1,533.5 601.7,535.2 602.2,535.1 602.7,533.6 603.2,534.6 603.7,534.5 604.3,534.8 604.8,534.6 605.3,534.2 605.8,534.5 606.4,534.5 606.9,534.3 607.4,533.3 607.9,532.7 608.4,533.8 609.0,533.3 609.5,534.2 610.0,534.3 610.5,534.0 611.0,533.5 611.6,533.5 612.1,533.9 612.6,532.6 613.1,533.0 613.6,532.3 614.2,531.2 614.7,530.4 615.2,526.9 615.7,523.7 616.3,516.7 616.8,508.3 617.3,497.9 617.8,488.3 618.3,480.8 618.9,480.2 619.4,483.4 619.9,491.2 620.4,500.3 620.9,508.8 621.5,517.4 622.0,522.9 622.5,527.8 623.0,529.5 623.5,530.4 624.1,532.8 624.6,532.8 625.1,532.8 625.6,533.4 626.1,533.2 626.7,534.1 627.2,533.9 627.7,535.2 628.2,534.9 628.8,534.0 629.3,534.2 629.8,534.7 630.3,534.2 630.8,535.1 631.4,535.1 631.9,534.9 632.4,535.0 632.9,535.5 633.4,536.0 634.0,536.1 634.5,535.5 635.0,535.8 635.5,535.2 636.0,535.7 636.6,535.1 637.1,535.9 637.6,535.1 638.1,535.2 638.6,535.7 639.2,535.9 639.7,535.1 640.2,535.5 640.7,535.8 641.3,535.8 641.8,535.4 642.3,535.8 642.8,535.7 643.3,536.4 643.9,536.1 644.4,535.3 644.9,534.9 645.4,535.9 645.9,536.4 646.5,535.9 647.0,536.3 647.5,535.7 648.0,535.3 648.5,536.2 649.1,536.0 649.6,536.2 650.1,535.4 650.6,536.0 651.1,535.7 651.7,536.3 652.2,535.7 652.7,535.7 653.2,535.7 653.8,536.5 654.3,536.0 654.8,535.7 655.3,535.6 655.8,535.6 656.4,536.6 656.9,535.3 657.4,535.7 657.9,536.3 658.4,536.5 659.0,536.0 659.5,536.4 660.0,536.4 660.5,536.5 661.0,536.1 661.6,536.7 662.1,536.2 662.6,536.7 663.1,535.6 663.7,536.5 664.2,535.6 664.7,535.5 665.2,536.3 665.7,535.8 666.3,536.3 666.8,535.7 667.3,536.8 667.8,536.1 668.3,535.7 668.9,536.2 669.4,536.5 669.9,535.8 670.4,536.3 670.9,537.0 671.5,536.5 672.0,536.1 672.5,535.9 673.0,536.4 673.5,535.5 674.1,534.9 674.6,535.9 675.1,535.7 675.6,536.9 676.2,536.2 676.7,535.8 677.2,535.7 677.7,536.4 678.2,535.8 678.8,535.9 679.3,536.1 679.8,536.2 680.3,536.2 680.8,536.2 681.4,536.7 681.9,536.9 682.4,535.5 682.9,537.2 683.4,536.2 684.0,536.7 684.5,535.9 685.0,536.3 685.5,536.3 686.0,536.2 686.6,536.5 687.1,536.4 687.6,535.8 688.1,536.1 688.7,536.5 689.2,536.5 689.7,536.0 690.2,536.1 690.7,536.1 691.3,535.7 691.8,535.6 692.3,536.8 692.8,536.0 693.3,536.2 693.9,535.9 694.4,536.7 694.9,536.8 695.4,536.1 695.9,536.3 696.5,535.8 697.0,536.8 697.5,536.5 698.0,535.8 698.5,536.6 699.1,536.2 699.6,536.3 700.1,536.2 700.6,535.8 701.2,535.8 701.7,536.3 702.2,536.0 702.7,535.6 703.2,536.8 703.8,535.9 704.3,535.8 704.8,535.7 705.3,536.2 705.8,536.3 706.4,536.0 706.9,536.2 707.4,535.3 707.9,535.7 708.4,535.6 709.0,535.8 709.5,536.0 710.0,534.9 710.5,536.9 711.0,535.3 711.6,535.7 712.1,535.9 712.6,535.9 713.1,535.6 713.7,534.2 714.2,534.9 714.7,535.6 715.2,534.8 715.7,534.7 716.3,534.0 716.8,535.4 717.3,535.0 717.8,534.3 718.3,534.4 718.9,534.3 719.4,533.7 719.9,533.8 720.4,533.7 720.9,533.6 721.5,533.5 722.0,532.6 722.5,531.9 723.0,531.7 723.6,530.7 724.1,529.6 724.6,529.6 725.1,527.7 725.6,526.3 726.2,524.1 726.7,519.9 727.2,514.8 727.7,505.2 728.2,489.7 728.8,467.1 729.3,435.6 729.8,398.0 730.3,362.7 730.8,339.0 731.4,336.6 731.9,348.4 732.4,368.0 732.9,394.1 733.4,424.8 734.0,454.1 734.5,478.1 735.0,496.3 735.5,508.4 736.1,516.5 736.6,521.9 737.1,524.8 737.6,527.1 738.1,528.1 738.7,529.0 739.2,529.9 739.7,531.2 740.2,532.5 740.7,532.9 741.3,532.5 741.8,532.6 742.3,533.9 742.8,534.0 743.3,533.6 743.9,534.7 744.4,534.6 744.9,535.2 745.4,534.9 745.9,535.3 746.5,535.2 747.0,534.8 747.5,535.2 748.0,535.1 748.6,535.7 749.1,535.1 749.6,534.9 750.1,535.9 750.6,536.1 751.2,536.3 751.7,536.2 752.2,535.2 752.7,535.5 753.2,535.6 753.8,535.8 754.3,535.0 754.8,535.9 755.3,536.0 755.8,535.5 756.4,535.9 756.9,536.3 757.4,535.8 757.9,536.2 758.4,536.1 759.0,535.8 759.5,535.7 760.0,535.2 760.5,535.6 761.1,534.4 761.6,533.6 762.1,532.9 762.6,530.5 763.1,528.5 763.7,526.0 764.2,523.1 764.7,521.7 765.2,522.1 765.7,523.1 766.3,523.7 766.8,525.6 767.3,528.9 767.8,530.6 768.3,531.4 768.9,533.1 769.4,534.5 769.9,534.7 770.4,535.7 771.0,535.8 771.5,536.1 772.0,535.6 772.5,536.4 773.0,537.0 773.6,536.0 774.1,536.9 774.6,536.8 775.1,536.7 775.6,536.5 776.2,536.0 776.7,536.2 777.2,536.9 777.7,537.0 778.2,537.1 778.8,537.0 779.3,537.0 779.8,536.5 780.3,536.2 780.8,536.8 781.4,536.9 781.9,536.8 782.4,536.1 782.9,536.5 783.5,536.2 784.0,536.8 784.5,536.4 785.0,536.7 785.5,536.9 786.1,536.9 786.6,537.4 787.1,536.4 787.6,536.0 788.1,537.2 788.7,537.4 789.2,537.4 789.7,537.0 790.2,537.1 790.7,536.9 791.3,536.4 791.8,536.7 792.3,537.1 792.8,536.7 793.3,537.7 793.9,536.3 794.4,536.7 794.9,537.4 795.4,536.7 796.0,536.5 796.5,536.4 797.0,536.7 797.5,537.6 798.0,537.1 798.6,537.2 799.1,536.8 799.6,537.3 800.1,537.0 800.6,536.6 801.2,536.8 801.7,537.1 802.2,537.5 802.7,537.0 803.2,537.2 803.8,537.8 804.3,536.7 804.8,536.5 805.3,537.4 805.8,537.2 806.4,537.0 806.9,537.1 807.4,536.9 807.9,537.2 808.5,536.9 809.0,537.4 809.5,536.6 810.0,536.7 810.5,537.1 811.1,536.9 811.6,537.3 812.1,537.0 812.6,536.8 813.1,537.2 813.7,536.9 814.2,536.5 814.7,536.6 815.2,536.8 815.7,536.9 816.3,537.1 816.8,537.5 817.3,537.3 817.8,537.8 818.4,537.6 818.9,537.0 819.4,537.8 819.9,537.6 820.4,536.9 821.0,537.2 821.5,537.5 822.0,537.2 822.5,537.5 823.0,537.3 823.6,537.4 824.1,537.0 824.6,537.3 825.1,537.0 825.6,537.4 826.2,536.5 826.7,537.3 827.2,537.6 827.7,537.4 828.2,537.1 828.8,537.3 829.3,536.8 829.8,536.8 830.3,537.0 830.9,537.1 831.4,537.5 831.9,536.8 832.4,537.5 832.9,536.5 833.5,536.8 834.0,537.1 834.5,537.6 835.0,536.9 835.5,536.3 836.1,537.3 836.6,537.1 837.1,536.7 837.6,536.7 838.1,536.9 838.7,537.2 839.2,537.4 839.7,536.6 840.2,538.1 840.7,537.1 841.3,537.0 841.8,537.4 842.3,537.2 842.8,538.1 843.4,537.6 843.9,537.0 844.4,537.0 844.9,536.9 845.4,537.0 846.0,537.4 846.5,536.9 847.0,537.8 847.5,537.1 848.0,537.1 848.6,537.5 849.1,536.4 849.6,536.8 850.1,537.4 850.6,537.1 851.2,537.1 851.7,537.3 852.2,536.9 852.7,537.1 853.2,536.6 853.8,536.4 854.3,537.6 854.8,536.8 855.3,536.8 855.9,537.7 856.4,537.5 856.9,536.9 857.4,536.9 857.9,537.1 858.5,536.7 859.0,537.3 859.5,537.2 860.0,537.2 860.5,537.4 861.1,537.4 861.6,537.8 862.1,537.7 862.6,536.4 863.1,537.5 863.7,536.6 864.2,536.5 864.7,537.4 865.2,536.8 865.7,536.9 866.3,537.5 866.8,536.8 867.3,536.7 867.8,537.2 868.4,537.5 868.9,537.2 869.4,536.4 869.9,536.8 870.4,536.9 871.0,537.8 871.5,537.3 872.0,537.3 872.5,537.4 873.0,536.8 873.6,537.1 874.1,537.1 874.6,536.5 875.1,536.9 875.6,537.1 876.2,536.4 876.7,537.1 877.2,537.1 877.7,537.2 878.3,536.4 878.8,536.7 879.3,537.2 879.8,536.9 880.3,536.2 880.9,536.6 881.4,537.0 881.9,536.3 882.4,536.4 882.9,537.1 883.5,535.9 884.0,535.7 884.5,535.2 885.0,535.1 885.5,535.6 886.1,534.5 886.6,533.5 887.1,532.7 887.6,531.5 888.1,529.4 888.7,524.9 889.2,519.9 889.7,512.1 890.2,504.0 890.8,496.0 891.3,491.2 891.8,490.5 892.3,493.5 892.8,497.6 893.4,501.2 893.9,506.9 894.4,513.1 894.9,519.3 895.4,523.9 896.0,527.8 896.5,530.7 897.0,532.2 897.5,533.6 898.0,534.6 898.6,535.0 899.1,534.8 899.6,535.4 900.1,534.9 900.6,536.2 901.2,535.9 901.7,536.3 902.2,535.9 902.7,536.3 903.3,536.6 903.8,536.9 904.3,536.0 904.8,537.0 905.3,536.6 905.9,536.4 906.4,536.9 906.9,536.7 907.4,536.7 907.9,536.6 908.5,536.9 909.0,536.9 909.5,536.8 910.0,536.5 910.5,536.7 911.1,537.1 911.6,537.5 912.1,537.0 912.6,537.6 913.1,537.0 913.7,536.6 914.2,537.3 914.7,536.6 915.2,537.2 915.8,537.5 916.3,536.9 916.8,537.0 917.3,538.1 917.8,537.2 918.4,537.2 918.9,537.4 919.4,537.0 919.9,537.1 920.4,537.2 921.0,536.1 921.5,537.7 922.0,536.7 922.5,536.7 923.0,537.3 923.6,537.1 924.1,536.6 924.6,537.2 925.1,536.7 925.7,536.9 926.2,536.5 926.7,536.8 927.2,537.3 927.7,537.2 928.3,537.3 928.8,537.5 929.3,537.1 929.8,536.9 930.3,537.0 930.9,537.8 931.4,537.2 931.9,537.3 932.4,537.1 932.9,537.3 933.5,537.3 934.0,537.2 934.5,537.1 935.0,536.9 935.5,536.8 936.1,537.3 936.6,537.5 937.1,537.5 937.6,537.2 938.2,536.8 938.7,537.4 939.2,537.4 939.7,536.6 940.2,537.5 940.8,537.4 941.3,537.9 941.8,536.7 942.3,536.7 942.8,537.5 943.4,536.5 943.9,536.9 944.4,536.8 944.9,536.8 945.4,536.4 946.0,537.1 946.5,537.6 947.0,537.4 947.5,537.4 948.0,537.1 948.6,537.8 949.1,537.4 949.6,537.6 950.1,536.6 950.7,537.3 951.2,536.7 951.7,537.3 952.2,537.3 952.7,536.8 953.3,537.3 953.8,537.7 954.3,537.4 954.8,537.4 955.3,536.9 955.9,536.9 956.4,536.8 956.9,537.3 957.4,537.7 957.9,537.4 958.5,537.2 959.0,536.8 959.5,537.4 960.0,537.1 960.5,536.5 961.1,536.5 961.6,537.1 962.1,536.9 962.6,537.9 963.2,537.2 963.7,536.8 964.2,537.0 964.7,537.9 965.2,536.8 965.8,537.5 966.3,537.4 966.8,537.8 967.3,537.4 967.8,537.1 968.4,537.4 968.9,537.3 969.4,537.6 969.9,537.2 970.4,538.0 971.0,537.2 971.5,537.4 972.0,537.0 972.5,537.3 973.0,537.2 973.6,537.3 974.1,537.6 974.6,537.0 975.1,536.9 975.7,537.7 976.2,537.1 976.7,537.0 977.2,537.7 977.7,537.5 978.3,536.2 978.8,537.1 979.3,537.6 979.8,537.6 980.3,537.0 980.9,537.9 981.4,536.9 981.9,537.2 982.4,537.3 982.9,537.2 983.5,537.6 984.0,537.7 984.5,537.2 985.0,537.8 985.6,537.0 986.1,537.2 986.6,537.9 987.1,537.3 987.6,537.7 988.2,537.1 988.7,537.1 989.2,537.2 989.7,537.3 990.2,537.1 990.8,537.3 991.3,537.5 991.8,537.7 992.3,537.3 992.8,537.5 993.4,537.6 993.9,536.8 994.4,536.6 994.9,537.9 995.4,537.8 996.0,537.3 996.5,537.4 997.0,536.9 997.5,536.7 998.1,537.4 998.6,536.7 999.1,537.6 999.6,537.0 1000.1,537.4 1000.7,538.0 1001.2,538.0 1001.7,537.2 1002.2,537.7 1002.7,536.8 1003.3,537.0 1003.8,537.4 1004.3,537.8 1004.8,537.0 1005.3,537.5 1005.9,537.3 1006.4,536.8 1006.9,537.2 1007.4,537.9 1007.9,537.2 1008.5,537.5 1009.0,537.6 1009.5,537.0 1010.0,537.8 1010.6,537.9 1011.1,537.9 1011.6,537.8 1012.1,537.1 1012.6,537.0 1013.2,536.9 1013.7,536.9 1014.2,536.9 1014.7,537.7 1015.2,537.8 1015.8,537.0 1016.3,537.6 1016.8,536.8 1017.3,537.1 1017.8,536.9 1018.4,536.6 1018.9,537.3 1019.4,537.3 1019.9,537.1 1020.4,537.1 1021.0,536.9 1021.5,537.2 1022.0,537.0 1022.5,537.4 1023.1,536.8 1023.6,537.4 1024.1,537.5 1024.6,537.8 1025.1,537.7 1025.7,537.3 1026.2,537.0 1026.7,536.5 1027.2,537.3 1027.7,537.8 1028.3,537.9 1028.8,536.2 1029.3,537.0 1029.8,537.1 1030.3,536.8 1030.9,537.3 1031.4,537.3 1031.9,537.1 1032.4,537.2 1033.0,536.6 1033.5,536.9 1034.0,536.9 1034.5,537.6 1035.0,536.6 1035.6,537.2 1036.1,537.6 1036.6,537.2 1037.1,537.6 1037.6,537.0 1038.2,537.4 1038.7,537.6 1039.2,538.2 1039.7,537.6 1040.2,537.8 1040.8,537.3 1041.3,537.3 1041.8,537.9 1042.3,537.5 1042.8,537.8 1043.4,537.5 1043.9,538.1 1044.4,538.2 1044.9,536.9 1045.5,538.0 1046.0,537.4 1046.5,537.5 1047.0,537.2 1047.5,537.6 1048.1,536.8 1048.6,537.0 1049.1,537.0 1049.6,537.4 1050.1,537.6 1050.7,537.6 1051.2,537.4 1051.7,537.0 1052.2,536.6 1052.7,537.4 1053.3,537.3 1053.8,537.4 1054.3,537.8 1054.8,537.2 1055.3,537.2 1055.9,536.3 1056.4,537.5 1056.9,537.3 1057.4,537.0 1058.0,537.4 1058.5,536.9 1059.0,537.1 1059.5,538.1 1060.0,537.6 1060.6,537.6 1061.1,537.6 1061.6,537.5 1062.1,537.3 1062.6,538.2 1063.2,537.2 1063.7,537.6 1064.2,537.2 1064.7,537.1 1065.2,536.3 1065.8,536.5 1066.3,537.9 1066.8,537.9 1067.3,537.1 1067.8,537.2 1068.4,537.5 1068.9,536.9 1069.4,538.0 1069.9,536.8 1070.5,537.0 1071.0,536.2 1071.5,537.9 1072.0,537.3 1072.5,537.9 1073.1,536.9 1073.6,537.4 1074.1,537.3 1074.6,537.3 1075.1,538.1 1075.7,538.2 1076.2,537.8 1076.7,537.1 1077.2,537.6 1077.7,537.8 1078.3,537.5 1078.8,537.5 1079.3,537.4 1079.8,536.9 1080.4,537.3 1080.9,537.9 1081.4,536.8 1081.9,537.3 1082.4,537.6 1083.0,536.7 1083.5,537.2 1084.0,536.5 1084.5,537.0 1085.0,536.7 1085.6,536.9 1086.1,537.0 1086.6,537.1 1087.1,537.1 1087.6,536.2 1088.2,537.8 1088.7,537.1 1089.2,536.7 1089.7,536.9 1090.2,537.3 1090.8,536.8 1091.3,537.0 1091.8,537.0 1092.3,537.4 1092.9,536.8 1093.4,537.3 1093.9,537.2 1094.4,537.0 1094.9,537.6 1095.5,537.1 1096.0,536.6 1096.5,537.1 1097.0,537.0 1097.5,537.0 1098.1,537.0 1098.6,537.8 1099.1,537.0 1099.6,537.0 1100.1,536.6 1100.7,537.2 1101.2,536.6 1101.7,536.1 1102.2,535.8 1102.7,536.3 1103.3,536.1 1103.8,534.6 1104.3,534.1 1104.8,533.3 1105.4,531.6 1105.9,528.2 1106.4,525.7 1106.9,523.6 1107.4,521.3 1108.0,521.2 1108.5,522.3 1109.0,523.4 1109.5,525.1 1110.0,526.1 1110.6,526.5 1111.1,528.5 1111.6,530.7 1112.1,532.0 1112.6,533.7 1113.2,534.3 1113.7,535.8 1114.2,535.5 1114.7,536.9 1115.2,536.2 1115.8,536.2 1116.3,536.3 1116.8,536.5 1117.3,536.6 1117.9,536.6 1118.4,536.7 1118.9,537.2 1119.4,537.3 1119.9,536.8 1120.5,537.5 1121.0,536.6 1121.5,536.6 1122.0,536.6 1122.5,537.3 1123.1,536.5 1123.6,536.5 1124.1,537.6 1124.6,537.8 1125.1,537.7 1125.7,536.5 1126.2,537.1 1126.7,537.5 1127.2,537.2 1127.7,536.5 1128.3,537.0 1128.8,536.5 1129.3,536.7 1129.8,538.0 1130.4,537.5 1130.9,536.6 1131.4,536.6 1131.9,537.4 1132.4,536.9 1133.0,537.4 1133.5,536.9 1134.0,537.1 1134.5,537.3 1135.0,536.8 1135.6,536.4 1136.1,536.7 1136.6,536.9 1137.1,537.1 1137.6,537.2 1138.2,537.2 1138.7,537.4 1139.2,536.8 1139.7,537.8 1140.3,538.0 1140.8,537.3 1141.3,537.3 1141.8,537.7 1142.3,537.5 1142.9,537.3 1143.4,537.1 1143.9,536.9 1144.4,536.7 1144.9,537.5 1145.5,537.7 1146.0,536.8 1146.5,537.2 1147.0,537.3 1147.5,537.0 1148.1,536.9 1148.6,537.0 1149.1,536.4 1149.6,537.1 1150.1,537.0 1150.7,538.0 1151.2,537.5 1151.7,537.0 1152.2,537.1 1152.8,537.8 1153.3,537.8 1153.8,537.2 1154.3,537.1 1154.8,536.5 1155.4,537.0 1155.9,537.0 1156.4,536.8 1156.9,537.8 1157.4,536.3 1158.0,537.0 1158.5,537.2 1159.0,537.2 1159.5,537.7 1160.0,536.5 1160.6,536.7 1161.1,537.0 1161.6,537.0 1162.1,536.8 1162.6,536.6 1163.2,537.4 1163.7,536.5 1164.2,536.7 1164.7,537.4 1165.3,537.5 1165.8,537.2 1166.3,536.4 1166.8,536.4 1167.3,536.3 1167.9,536.2 1168.4,536.4 1168.9,537.0 1169.4,536.6 1169.9,536.1 1170.5,536.0 1171.0,535.7 1171.5,536.6 1172.0,535.1 1172.5,535.9 1173.1,535.0 1173.6,534.9 1174.1,534.5 1174.6,535.1 1175.1,534.2 1175.7,534.7 1176.2,532.2 1176.7,530.7 1177.2,528.9 1177.8,525.2 1178.3,519.4 1178.8,511.3 1179.3,503.9 1179.8,494.5 1180.4,487.5 1180.9,484.9 1181.4,487.9 1181.9,492.2 1182.4,496.9 1183.0,499.9 1183.5,502.8 1184.0,505.1 1184.5,509.6 1185.0,515.6 1185.6,520.6 1186.1,525.0 1186.6,528.3 1187.1,531.3 1187.7,532.3 1188.2,533.8 1188.7,535.2 1189.2,535.0 1189.7,534.9 1190.3,535.0 1190.8,535.7 1191.3,535.4 1191.8,535.4 1192.3,535.8 1192.9,535.8 1193.4,536.7 1193.9,535.8 1194.4,537.1 1194.9,536.3 1195.5,536.7 1196.0,536.9 1196.5,536.8 1197.0,537.0 1197.5,536.4 1198.1,535.9 1198.6,536.8 1199.1,536.2 1199.6,536.7 1200.2,537.3 1200.7,536.9 1201.2,536.7 1201.7,536.5 1202.2,536.9 1202.8,536.9 1203.3,536.4 1203.8,537.1 1204.3,536.6 1204.8,537.1 1205.4,536.9 1205.9,537.5 1206.4,537.4 1206.9,537.1 1207.4,537.1 1208.0,537.3 1208.5,537.7 1209.0,537.5 1209.5,537.2 1210.0,537.3 1210.6,537.8 1211.1,536.5 1211.6,537.4 1212.1,536.8 1212.7,537.7 1213.2,537.0 1213.7,537.1 1214.2,536.7 1214.7,537.2 1215.3,537.5 1215.8,537.9 1216.3,536.7 1216.8,537.0 1217.3,538.8 1217.9,537.6 1218.4,537.2 1218.9,537.4 1219.4,536.2 1219.9,537.9 1220.5,537.3 1221.0,536.7 1221.5,537.7 1222.0,537.0 1222.5,536.8 1223.1,537.4 1223.6,537.4 1224.1,537.1 1224.6,537.2 1225.2,536.7 1225.7,536.7 1226.2,537.6 1226.7,537.8 1227.2,537.4 1227.8,537.4 1228.3,537.1 1228.8,537.2 1229.3,536.9 1229.8,538.0 1230.4,537.0 1230.9,537.4 1231.4,537.3 1231.9,536.7 1232.4,538.0 1233.0,537.1 1233.5,537.0 1234.0,537.3 1234.5,536.9 1235.1,537.3 1235.6,536.9 1236.1,537.5 1236.6,537.3 1237.1,536.7 1237.7,537.7 1238.2,537.3 1238.7,536.8 1239.2,537.4 1239.7,537.4 1240.3,538.0 1240.8,536.9 1241.3,537.6 1241.8,537.2 1242.3,537.5 1242.9,537.2 1243.4,537.2 1243.9,537.5 1244.4,536.8 1244.9,536.4 1245.5,537.3 1246.0,537.1 1246.5,537.3 1247.0,537.5 1247.6,537.2 1248.1,537.7 1248.6,537.2 1249.1,537.3 1249.6,537.6 1250.2,537.5 1250.7,537.2 1251.2,537.3 1251.7,537.0 1252.2,537.0 1252.8,537.3 1253.3,537.6 1253.8,537.1 1254.3,537.6 1254.8,538.0 1255.4,538.1 1255.9,537.3 1256.4,537.7 1256.9,537.5 1257.4,537.6 1258.0,537.6 1258.5,537.5 1259.0,537.6 1259.5,537.3 1260.1,537.1 1260.6,537.3 1261.1,537.4 1261.6,537.7 1262.1,537.4 1262.7,537.5 1263.2,537.8 1263.7,536.8 1264.2,537.1 1264.7,537.4 1265.3,537.2 1265.8,536.8 1266.3,537.6 1266.8,537.2 1267.3,536.8 1267.9,537.9 1268.4,536.7 1268.9,537.2 1269.4,536.9 1269.9,537.2 1270.5,537.4 1271.0,536.8 1271.5,537.1 1272.0,537.1 1272.6,536.7 1273.1,537.6 1273.6,537.2 1274.1,537.0 1274.6,536.8 1275.2,536.9 1275.7,537.1 1276.2,536.8 1276.7,537.5 1277.2,536.0 1277.8,536.1 1278.3,536.9 1278.8,536.2 1279.3,536.9 1279.8,536.6 1280.4,537.1 1280.9,537.0 1281.4,537.3 1281.9,537.1 1282.4,537.2 1283.0,536.9 1283.5,537.1 1284.0,536.8 1284.5,536.3 1285.1,536.0 1285.6,535.9 1286.1,536.5 1286.6,535.3 1287.1,536.2 1287.7,535.7 1288.2,536.2 1288.7,535.9 1289.2,535.3 1289.7,535.4 1290.3,534.3 1290.8,535.0 1291.3,534.8 1291.8,533.5 1292.3,534.1 1292.9,533.0 1293.4,532.3 1293.9,530.4 1294.4,529.2 1295.0,526.1 1295.5,521.0 1296.0,513.4 1296.5,504.4 1297.0,492.5 1297.6,479.0 1298.1,467.9 1298.6,461.6 1299.1,463.7 1299.6,470.7 1300.2,478.3 1300.7,485.2 1301.2,487.5 1301.7,488.9 1302.2,492.2 1302.8,496.6 1303.3,504.3 1303.8,511.9 1304.3,518.0 1304.8,523.3 1305.4,527.0 1305.9,530.0 1306.4,531.5 1306.9,533.6 1307.5,533.9 1308.0,534.1 1308.5,534.1 1309.0,535.8 1309.5,535.8 1310.1,535.7 1310.6,535.7 1311.1,535.9 1311.6,535.8 1312.1,536.9 1312.7,536.3 1313.2,535.7 1313.7,536.1 1314.2,535.4 1314.7,536.8 1315.3,536.9 1315.8,537.4 1316.3,537.5 1316.8,536.4 1317.3,537.0 1317.9,537.2 1318.4,537.2 1318.9,536.7 1319.4,537.2 1320.0,537.1 1320.5,537.5 1321.0,537.0 1321.5,536.9 1322.0,536.8 1322.6,536.9 1323.1,536.7 1323.6,536.9 1324.1,537.3 1324.6,537.3 1325.2,537.6 1325.7,537.6 1326.2,537.4 1326.7,536.7 1327.2,537.4 1327.8,537.6 1328.3,536.6 1328.8,536.7 1329.3,536.8 1329.8,536.8 1330.4,537.1 1330.9,536.8 1331.4,537.4 1331.9,536.7 1332.5,537.2 1333.0,537.0 1333.5,536.8 1334.0,537.6 1334.5,537.3 1335.1,537.5 1335.6,537.1 1336.1,537.5 1336.6,537.5 1337.1,537.2 1337.7,536.6 1338.2,537.6 1338.7,537.5 1339.2,537.3 1339.7,537.4 1340.3,537.3 1340.8,537.4 1341.3,536.9 1341.8,537.3 1342.4,537.4 1342.9,537.0 1343.4,536.9 1343.9,538.0 1344.4,537.5 1345.0,537.2 1345.5,537.1 1346.0,536.2 1346.5,536.7 1347.0,537.2 1347.6,537.8 1348.1,536.5 1348.6,537.0 1349.1,538.1 1349.6,537.6 1350.2,537.5 1350.7,537.8 1351.2,537.3 1351.7,537.2 1352.2,537.6 1352.8,537.6 1353.3,536.9 1353.8,537.9 1354.3,536.6 1354.9,537.0 1355.4,538.5 1355.9,537.1 1356.4,537.5 1356.9,536.9 1357.5,537.1 1358.0,537.0 1358.5,537.1 1359.0,537.5 1359.5,537.9 1360.1,537.5 1360.6,537.7 1361.1,536.8 1361.6,537.5 1362.1,537.1 1362.7,537.3 1363.2,536.4 1363.7,536.2 1364.2,536.7 1364.7,536.1 1365.3,535.7 1365.8,535.2 1366.3,535.4 1366.8,535.6 1367.4,535.7 1367.9,535.3 1368.4,535.5 1368.9,535.9 1369.4,535.4 1370.0,536.3 1370.5,536.1 1371.0,536.2 1371.5,535.4 1372.0,535.9 1372.6,536.3 1373.1,536.6 1373.6,536.5 1374.1,537.1 1374.6,537.1 1375.2,537.0 1375.7,536.4 1376.2,537.8 1376.7,537.1 1377.2,537.5 1377.8,537.0 1378.3,537.3 1378.8,537.6 1379.3,537.4 1379.9,537.7 1380.4,537.2 1380.9,538.1 1381.4,536.6 1381.9,537.1 1382.5,537.7 1383.0,537.2 1383.5,537.2 1384.0,536.6 1384.5,537.8 1385.1,536.6 1385.6,537.5 1386.1,537.4 1386.6,537.7 1387.1,537.9 1387.7,537.1 1388.2,537.0 1388.7,537.2 1389.2,536.7 1389.7,537.7 1390.3,537.2 1390.8,537.4 1391.3,536.9 1391.8,537.4 1392.4,537.1 1392.9,537.3 1393.4,536.9 1393.9,537.8 1394.4,537.1 1395.0,536.3 1395.5,537.6 1396.0,537.2 1396.5,537.0 1397.0,538.4 1397.6,537.3 1398.1,536.8 1398.6,537.1 1399.1,537.5 1399.6,537.3 1400.2,537.9 1400.7,537.8 1401.2,537.0 1401.7,537.4 1402.3,537.6 1402.8,537.2 1403.3,537.2 1403.8,537.7 1404.3,537.5 1404.9,536.8 1405.4,537.2 1405.9,537.2 1406.4,537.3 1406.9,537.1 1407.5,537.9 1408.0,537.0 1408.5,536.9 1409.0,537.5 1409.5,536.5 1410.1,537.0 1410.6,537.6 1411.1,536.8 1411.6,537.0 1412.1,537.8 1412.7,537.6 1413.2,537.4 1413.7,537.5 1414.2,537.1 1414.8,537.5 1415.3,537.3 1415.8,538.4 1416.3,537.6 1416.8,537.2 1417.4,537.4 1417.9,537.4 1418.4,536.8 1418.9,537.1 1419.4,538.0 1420.0,536.8 1420.5,537.2 1421.0,537.8 1421.5,538.0 1422.0,537.0 1422.6,538.0 1423.1,537.2 1423.6,538.1 1424.1,537.6 1424.6,537.3 1425.2,537.7 1425.7,537.6 1426.2,537.1 1426.7,538.3 1427.3,537.3 1427.8,537.9 1428.3,537.2 1428.8,536.7 1429.3,536.9 1429.9,537.4 1430.4,537.7 1430.9,538.1 1431.4,537.4 1431.9,537.3 1432.5,536.9 1433.0,537.4 1433.5,537.5 1434.0,536.5 1434.5,537.9 1435.1,537.8 1435.6,538.3 1436.1,537.0 1436.6,537.4 1437.1,537.4 1437.7,536.9 1438.2,537.1 1438.7,537.0 1439.2,537.6 1439.8,537.6 1440.3,537.9 1440.8,537.2 1441.3,536.8 1441.8,537.6 1442.4,537.5 1442.9,537.7 1443.4,537.9 1443.9,537.2 1444.4,537.7 1445.0,537.0 1445.5,537.4 1446.0,537.7 1446.5,537.3 1447.0,537.5 1447.6,536.8 1448.1,537.1 1448.6,537.4 1449.1,536.9 1449.7,537.0 1450.2,538.4 1450.7,537.5 1451.2,537.0 1451.7,537.0 1452.3,537.9 1452.8,536.2 1453.3,537.2 1453.8,537.6 1454.3,537.1 1454.9,537.5 1455.4,536.9 1455.9,537.3 1456.4,537.3 1456.9,537.3 1457.5,537.4 1458.0,537.3 1458.5,537.7 1459.0,537.2 1459.5,537.1 1460.1,537.2 1460.6,537.2 1461.1,536.7 1461.6,536.5 1462.2,536.7 1462.7,537.4 1463.2,537.0 1463.7,537.1 1464.2,538.4 1464.8,537.6 1465.3,537.1 1465.8,536.9 1466.3,537.7 1466.8,536.8 1467.4,537.5 1467.9,537.2 1468.4,537.5 1468.9,536.5 1469.4,537.0 1470.0,535.8 1470.5,536.2 1471.0,536.4 1471.5,535.9 1472.0,534.5 1472.6,535.1 1473.1,534.5 1473.6,533.9 1474.1,533.3 1474.7,533.3 1475.2,533.1 1475.7,533.8 1476.2,533.8 1476.7,534.3 1477.3,534.3 1477.8,533.7 1478.3,534.5 1478.8,535.5 1479.3,534.4 1479.9,535.3 1480.4,535.1 1480.9,535.4 1481.4,536.1 1481.9,536.6 1482.5,536.8 1483.0,536.8 1483.5,537.2 1484.0,536.2 1484.5,537.3 1485.1,537.2 1485.6,537.0 1486.1,537.1 1486.6,536.8 1487.2,537.6 1487.7,536.9 1488.2,536.6 1488.7,537.2 1489.2,537.0 1489.8,537.2 1490.3,537.9 1490.8,537.2 1491.3,537.3 1491.8,538.2 1492.4,536.7 1492.9,537.4 1493.4,537.8 1493.9,537.9 1494.4,538.2 1495.0,537.0 1495.5,537.5 1496.0,537.3 1496.5,537.1 1497.1,537.0 1497.6,536.7 1498.1,537.4 1498.6,537.6 1499.1,536.9 1499.7,537.6 1500.2,537.1 1500.7,536.9 1501.2,536.3 1501.7,537.8 1502.3,537.6 1502.8,537.2 1503.3,537.2 1503.8,536.8 1504.3,537.5 1504.9,537.3 1505.4,537.5 1505.9,537.4 1506.4,536.8 1506.9,536.7 1507.5,537.5 1508.0,536.6 1508.5,537.4 1509.0,537.7 1509.6,536.8 1510.1,537.6 1510.6,537.3 1511.1,537.5 1511.6,537.1 1512.2,537.3 1512.7,537.5 1513.2,538.1 1513.7,537.6 1514.2,537.5 1514.8,536.8 1515.3,537.5 1515.8,537.0 1516.3,537.3 1516.8,537.4 1517.4,537.7 1517.9,537.5 1518.4,537.4 1518.9,537.3 1519.4,537.8 1520.0,536.9 1520.5,537.3 1521.0,537.8 1521.5,537.2 1522.1,537.6 1522.6,537.6 1523.1,538.0 1523.6,537.7 1524.1,536.6 1524.7,537.2 1525.2,537.3 1525.7,537.5 1526.2,537.3 1526.7,537.9 1527.3,537.5 1527.8,536.6 1528.3,536.8 1528.8,536.2 1529.3,537.7 1529.9,536.9 1530.4,536.8 1530.9,536.2 1531.4,536.5 1531.9,536.8 1532.5,536.3 1533.0,536.1 1533.5,535.7 1534.0,536.4 1534.6,534.8 1535.1,533.8 1535.6,533.2 1536.1,532.2 1536.6,531.0 1537.2,529.5 1537.7,527.8 1538.2,527.0 1538.7,526.6 1539.2,525.8 1539.8,527.6 1540.3,528.2 1540.8,527.5 1541.3,528.7 1541.8,529.8 1542.4,530.3 1542.9,530.8 1543.4,529.7 1543.9,530.7 1544.4,531.7 1545.0,532.9 1545.5,533.1 1546.0,534.4 1546.5,535.0 1547.1,535.7 1547.6,535.2 1548.1,536.1 1548.6,536.3 1549.1,536.2 1549.7,537.0 1550.2,536.4 1550.7,537.2 1551.2,536.3 1551.7,537.3 1552.3,537.2 1552.8,536.1 1553.3,536.5 1553.8,536.3 1554.3,535.6 1554.9,536.0 1555.4,535.6 1555.9,534.6 1556.4,534.5 1557.0,534.3 1557.5,533.4 1558.0,532.6 1558.5,533.2 1559.0,531.9 1559.6,532.4 1560.1,532.9 1560.6,533.0 1561.1,532.2 1561.6,533.1 1562.2,533.4 1562.7,533.5 1563.2,534.1 1563.7,534.3 1564.2,534.5 1564.8,534.9 1565.3,535.5 1565.8,536.0 1566.3,535.0 1566.8,537.0 1567.4,536.1 1567.9,536.8 1568.4,536.0 1568.9,536.6 1569.5,536.4 1570.0,537.4 1570.5,537.4 1571.0,537.1 1571.5,537.1 1572.1,537.3 1572.6,536.8 1573.1,537.0 1573.6,536.9 1574.1,537.6 1574.7,537.3 1575.2,536.8 1575.7,537.4 1576.2,537.5 1576.7,537.9 1577.3,537.1 1577.8,537.5 1578.3,538.2 1578.8,537.2 1579.3,537.2 1579.9,537.6 1580.4,537.2 1580.9,537.4 1581.4,537.2 1582.0,537.1 1582.5,537.7 1583.0,537.2 1583.5,537.0 1584.0,537.3 1584.6,537.3 1585.1,537.5 1585.6,537.8 1586.1,538.1 1586.6,536.9 1587.2,537.3 1587.7,536.7 1588.2,537.5 1588.7,537.6 1589.2,537.1 1589.8,537.0 1590.3,537.0 1590.8,536.8 1591.3,537.7 1591.8,538.2 1592.4,537.0 1592.9,538.1 1593.4,537.4 1593.9,536.9 1594.5,537.6 1595.0,537.7 1595.5,537.6 1596.0,537.3 1596.5,538.1 1597.1,537.3 1597.6,537.7 1598.1,537.7 1598.6,537.1 1599.1,536.7 1599.7,536.7 1600.2,537.3 1600.7,537.6 1601.2,536.7 1601.7,537.1 1602.3,538.0 1602.8,536.7 1603.3,537.6 1603.8,537.6 1604.4,537.7 1604.9,536.8 1605.4,537.6 1605.9,536.9 1606.4,538.0 1607.0,537.1 1607.5,537.6 1608.0,537.1 1608.5,537.5 1609.0,536.8 1609.6,537.5 1610.1,537.7 1610.6,537.4 1611.1,538.1 1611.6,537.6 1612.2,537.7 1612.7,537.6 1613.2,538.2 1613.7,537.2 1614.2,537.3 1614.8,537.3 1615.3,537.7 1615.8,537.5 1616.3,537.8 1616.9,537.5 1617.4,537.2 1617.9,537.4 1618.4,537.6 1618.9,536.5 1619.5,538.0 1620.0,537.2 1620.5,537.3 1621.0,537.5 1621.5,537.3 1622.1,536.8 1622.6,537.3 1623.1,538.0 1623.6,537.8 1624.1,537.9 1624.7,537.2 1625.2,537.3 1625.7,537.8 1626.2,538.0 1626.7,537.4 1627.3,537.0 1627.8,536.6 1628.3,538.0 1628.8,536.8 1629.4,537.6 1629.9,537.8 1630.4,538.7 1630.9,537.5 1631.4,537.3 1632.0,537.6 1632.5,537.6 1633.0,537.9 1633.5,537.6 1634.0,537.0 1634.6,536.4 1635.1,537.4 1635.6,537.0 1636.1,537.8 1636.6,536.6 1637.2,537.1 1637.7,536.7 1638.2,536.5 1638.7,537.4 1639.2,536.6 1639.8,536.2 1640.3,536.3 1640.8,535.4 1641.3,535.3 1641.9,534.9 1642.4,535.7 1642.9,534.8 1643.4,534.8 1643.9,535.0 1644.5,534.5 1645.0,534.6 1645.5,534.1 1646.0,535.2 1646.5,535.2 1647.1,535.0 1647.6,535.8 1648.1,534.7 1648.6,535.8 1649.1,535.2 1649.7,535.5 1650.2,536.1 1650.7,536.9 1651.2,536.0 1651.8,536.3 1652.3,536.3 1652.8,537.8 1653.3,537.3 1653.8,537.3 1654.4,538.0 1654.9,537.3 1655.4,536.4 1655.9,537.1 1656.4,536.8 1657.0,538.2 1657.5,536.8 1658.0,537.5 1658.5,537.2 1659.0,537.2 1659.6,537.4 1660.1,537.4 1660.6,537.1 1661.1,536.9 1661.6,537.2 1662.2,537.0 1662.7,537.1 1663.2,537.5 1663.7,537.4 1664.3,537.7 1664.8,537.4 1665.3,538.3 1665.8,537.2 1666.3,537.0 1666.9,537.9 1667.4,537.2 1667.9,537.5 1668.4,537.9 1668.9,537.4 1669.5,537.3 1670.0,537.9 1670.5,537.6 1671.0,537.3 1671.5,537.0 1672.1,537.3 1672.6,536.8 1673.1,537.1 1673.6,537.0 1674.1,537.6 1674.7,537.8 1675.2,537.2 1675.7,537.3 1676.2,537.0 1676.8,536.9 1677.3,537.3 1677.8,537.7 1678.3,537.7 1678.8,537.7 1679.4,537.4 1679.9,536.4 1680.4,537.9 1680.9,538.0 1681.4,537.9 1682.0,537.9 1682.5,538.0 1683.0,538.6 1683.5,537.6 1684.0,538.2 1684.6,537.8 1685.1,537.8 1685.6,537.5 1686.1,537.4 1686.6,537.0 1687.2,537.8 1687.7,537.4 1688.2,537.0 1688.7,537.2 1689.3,537.0 1689.8,538.2 1690.3,537.4 1690.8,537.6 1691.3,537.0 1691.9,537.1 1692.4,538.0 1692.9,537.4 1693.4,537.6 1693.9,538.3 1694.5,538.4 1695.0,537.8 1695.5,537.7 1696.0,537.6 1696.5,537.4 1697.1,538.4 1697.6,537.0 1698.1,537.5 1698.6,536.7 1699.1,537.0 1699.7,537.7 1700.2,537.7 1700.7,537.7 1701.2,537.4 1701.8,537.2 1702.3,537.3 1702.8,537.4 1703.3,538.0 1703.8,538.1 1704.4,537.7 1704.9,537.3 1705.4,537.1 1705.9,537.7 1706.4,537.4 1707.0,536.8 1707.5,538.1 1708.0,537.5 1708.5,537.4 1709.0,537.2 1709.6,537.2 1710.1,537.9 1710.6,537.1 1711.1,537.6 1711.7,537.8 1712.2,538.3 1712.7,537.8 1713.2,537.5 1713.7,537.3 1714.3,537.9 1714.8,537.9 1715.3,537.4 1715.8,537.8 1716.3,537.5 1716.9,536.9 1717.4,537.1 1717.9,537.9 1718.4,538.1 1718.9,537.8 1719.5,537.4 1720.0,537.2 1720.5,537.8 1721.0,537.7 1721.5,536.9 1722.1,537.8 1722.6,537.2 1723.1,537.8 1723.6,537.8 1724.2,537.8 1724.7,538.0 1725.2,537.8 1725.7,537.1 1726.2,537.1 1726.8,538.0 1727.3,537.7 1727.8,536.9 1728.3,536.7 1728.8,537.9 1729.4,538.5 1729.9,537.9 1730.4,537.4 1730.9,537.6 1731.4,536.4 1732.0,537.1 1732.5,538.0 1733.0,537.9 1733.5,536.7 1734.0,538.0 1734.6,537.8 1735.1,537.9 1735.6,537.5 1736.1,537.5 1736.7,537.1 1737.2,537.7 1737.7,537.9 1738.2,537.1 1738.7,537.7 1739.3,537.3 1739.8,538.0 1740.3,537.9 1740.8,536.6 1741.3,537.7 1741.9,538.0 1742.4,537.3 1742.9,537.5 1743.4,537.5 1743.9,537.1 1744.5,537.5 1745.0,538.2 1745.5,537.7 1746.0,538.2 1746.5,538.0 1747.1,538.0 1747.6,537.6 1748.1,537.9 1748.6,538.4 1749.2,538.2 1749.7,537.7 1750.2,537.3 1750.7,537.2 1751.2,537.6 1751.8,537.7 1752.3,536.8 1752.8,537.6 1753.3,537.7 1753.8,537.7 1754.4,537.3 1754.9,538.5 1755.4,537.9 1755.9,537.0 1756.4,537.2 1757.0,537.9 1757.5,537.8 1758.0,537.6 1758.5,537.5 1759.1,537.4 1759.6,537.4 1760.1,537.1 1760.6,537.8 1761.1,536.4 1761.7,537.2 1762.2,538.0 1762.7,537.2 1763.2,537.0 1763.7,538.3 1764.3,538.0 1764.8,537.5 1765.3,537.3 1765.8,537.4 1766.3,537.4 1766.9,537.4 1767.4,537.2 1767.9,537.7 1768.4,537.3 1768.9,536.8 1769.5,537.0 1770.0,537.5 1770.5,537.1 1771.0,536.5 1771.6,538.1 1772.1,537.7 1772.6,537.3 1773.1,537.3 1773.6,537.7 1774.2,538.1 1774.7,537.2 1775.2,537.7 1775.7,537.2 1776.2,537.6 1776.8,537.0 1777.3,536.7 1777.8,537.5 1778.3,537.5 1778.8,537.8 1779.4,537.2 1779.9,538.1 1780.4,537.5 1780.9,538.1 1781.4,537.3 1782.0,538.1 1782.5,537.4 1783.0,537.5 1783.5,537.9 1784.1,536.7 1784.6,537.0 1785.1,538.2 1785.6,536.8 1786.1,537.2 1786.7,537.7 1787.2,538.1 1787.7,537.2 1788.2,537.5 1788.7,537.0 1789.3,537.3 1789.8,537.8 1790.3,537.6 1790.8,537.4 1791.3,537.6 1791.9,537.4 1792.4,537.5 1792.9,537.2 1793.4,537.0 1793.9,537.6 1794.5,536.9 1795.0,537.7 1795.5,538.2 1796.0,537.9 1796.6,538.2 1797.1,536.8 1797.6,537.3 1798.1,536.7 1798.6,536.7 1799.2,536.2 1799.7,536.3 1800.2,537.0 1800.7,536.7 1801.2,536.6 1801.8,536.3 1802.3,535.7 1802.8,534.6 1803.3,534.5 1803.8,534.3 1804.4,534.0 1804.9,532.9 1805.4,532.6 1805.9,532.4 1806.4,533.2 1807.0,532.9 1807.5,532.8 1808.0,532.9 1808.5,533.6 1809.1,533.0 1809.6,533.8 1810.1,533.8 1810.6,533.9 1811.1,534.4 1811.7,534.6 1812.2,535.9 1812.7,535.0 1813.2,535.5 1813.7,535.2 1814.3,535.1 1814.8,536.6 1815.3,537.1 1815.8,536.1 1816.3,536.7 1816.9,537.3 1817.4,537.0 1817.9,536.1 1818.4,537.6 1819.0,537.2 1819.5,537.6 1820.0,536.9 1820.5,537.7 1821.0,537.8 1821.6,537.1 1822.1,537.6 1822.6,537.1 1823.1,537.2 1823.6,537.1 1824.2,537.3 1824.7,537.2 1825.2,537.9 1825.7,537.4 1826.2,537.0 1826.8,538.0 1827.3,537.7 1827.8,537.9 1828.3,537.5 1828.8,537.8 1829.4,537.5 1829.9,537.1 1830.4,537.6 1830.9,537.6 1831.5,537.6 1832.0,537.9 1832.5,536.8 1833.0,537.7 1833.5,537.2 1834.1,537.4 1834.6,537.7 1835.1,537.6 1835.6,537.3 1836.1,537.9 1836.7,537.5 1837.2,537.9 1837.7,538.1 1838.2,537.4 1838.7,537.1 1839.3,537.6 1839.8,537.9 1840.3,537.7 1840.8,537.1 1841.3,536.9 1841.9,537.2 1842.4,537.2 1842.9,537.8 1843.4,537.6 1844.0,537.9 1844.5,537.5 1845.0,538.3 1845.5,537.6 1846.0,537.8 1846.6,537.4 1847.1,537.8 1847.6,538.0 1848.1,537.9 1848.6,538.1 1849.2,537.3 1849.7,537.8 1850.2,538.3 1850.7,537.7 1851.2,537.5 1851.8,537.5 1852.3,537.4 1852.8,537.7 1853.3,538.2 1853.8,537.8 1854.4,537.6 1854.9,537.3 1855.4,537.1 1855.9,538.6 1856.5,537.4 1857.0,537.6 1857.5,537.4 1858.0,537.7 1858.5,537.4 1859.1,537.6 1859.6,538.2 1860.1,537.3"/>
<polyline id="c4" points="193.3,300.3 193.8,300.5 194.3,301.3 194.9,300.9 195.4,299.9 195.9,300.6 196.4,300.4 196.9,300.7 197.5,299.9 198.0,300.7 198.5,300.7 199.0,301.3 199.6,300.7 200.1,300.8 200.6,300.0 201.1,301.6 201.6,299.8 202.2,301.1 202.7,300.5 203.2,300.3 203.7,300.3 204.2,300.3 204.8,300.8 205.3,300.6 205.8,301.2 206.3,299.9 206.8,300.6 207.4,300.3 207.9,301.0 208.4,299.7 208.9,300.5 209.4,300.7 210.0,300.0 210.5,301.0 211.0,300.7 211.5,301.1 212.1,301.0 212.6,300.2 213.1,300.3 213.6,300.6 214.1,301.0 214.7,301.0 215.2,300.3 215.7,300.4 216.2,300.3 216.7,300.4 217.3,300.5 217.8,300.6 218.3,301.5 218.8,300.4 219.3,300.5 219.9,300.8 220.4,300.2 220.9,300.5 221.4,300.7 221.9,301.0 222.5,300.1 223.0,301.2 223.5,300.5 224.0,300.7 224.6,301.0 225.1,300.9 225.6,301.1 226.1,300.7 226.6,300.7 227.2,300.8 227.7,300.2 228.2,301.2 228.7,300.3 229.2,300.1 229.8,301.5 230.3,300.6 230.8,300.2 231.3,301.4 231.8,300.5 232.4,301.1 232.9,300.3 233.4,300.6 233.9,300.0 234.4,299.9 235.0,300.3 235.5,300.6 236.0,301.0 236.5,301.7 237.1,300.2 237.6,301.1 238.1,300.4 238.6,300.6 239.1,300.1 239.7,300.1 240.2,300.4 240.7,300.2 241.2,300.7 241.7,300.4 242.3,301.2 242.8,300.8 243.3,300.8 243.8,301.2 244.3,300.9 244.9,300.7 245.4,300.7 245.9,300.6 246.4,301.1 247.0,301.0 247.5,300.9 248.0,301.0 248.5,300.5 249.0,300.9 249.6,300.1 250.1,301.3 250.6,300.7 251.1,300.8 251.6,301.0 252.2,300.7 252.7,300.6 253.2,301.2 253.7,300.8 254.2,300.3 254.8,300.9 255.3,300.0 255.8,301.4 256.3,300.6 256.8,300.7 257.4,301.7 257.9,301.6 258.4,300.8 258.9,301.0 259.5,301.2 260.0,301.4 260.5,300.7 261.0,300.8 261.5,301.2 262.1,300.8 262.6,301.0 263.1,301.0 263.6,300.3 264.1,300.4 264.7,299.6 265.2,300.6 265.7,301.3 266.2,300.3 266.7,301.3 267.3,301.2 267.8,300.7 268.3,300.7 268.8,300.8 269.3,300.4 269.9,300.6 270.4,300.7 270.9,301.0 271.4,301.1 272.0,300.4 272.5,301.1 273.0,300.4 273.5,300.7 274.0,300.9 274.6,300.7 275.1,300.7 275.6,300.9 276.1,300.5 276.6,300.5 277.2,300.7 277.7,301.2 278.2,300.7 278.7,301.6 279.2,300.8 279.8,299.5 280.3,300.6 280.8,301.5 281.3,300.8 281.8,300.6 282.4,300.4 282.9,301.3 283.4,301.2 283.9,301.0 284.5,300.9 285.0,301.4 285.5,301.1 286.0,300.3 286.5,301.1 287.1,300.8 287.6,300.7 288.1,301.1 288.6,300.8 289.1,299.5 289.7,301.4 290.2,301.2 290.7,300.7 291.2,300.6 291.7,300.9 292.3,300.2 292.8,300.9 293.3,300.7 293.8,300.6 294.3,300.4 294.9,300.5 295.4,301.3 295.9,301.3 296.4,301.0 297.0,300.8 297.5,300.4 298.0,301.1 298.5,301.5 299.0,300.1 299.6,301.3 300.1,299.9 300.6,300.7 301.1,301.0 301.6,300.2 302.2,300.2 302.7,300.9 303.2,301.2 303.7,300.6 304.2,301.4 304.8,300.5 305.3,301.5 305.8,300.9 306.3,300.9 306.9,301.1 307.4,300.9 307.9,301.6 308.4,301.7 308.9,301.0 309.5,300.7 310.0,300.3 310.5,300.5 311.0,300.8 311.5,300.8 312.1,300.8 312.6,300.8 313.1,301.0 313.6,300.3 314.1,300.4 314.7,301.3 315.2,301.2 315.7,300.6 316.2,301.4 316.7,300.5 317.3,300.7 317.8,300.1 318.3,301.2 318.8,300.8 319.4,301.3 319.9,301.1 320.4,300.9 320.9,300.9 321.4,301.3 322.0,300.8 322.5,300.8 323.0,300.9 323.5,301.2 324.0,301.2 324.6,301.6 325.1,300.8 325.6,301.4 326.1,300.6 326.6,301.1 327.2,300.9 327.7,301.6 328.2,301.1 328.7,300.7 329.2,301.1 329.8,301.0 330.3,300.7 330.8,300.7 331.3,300.5 331.9,302.0 332.4,300.9 332.9,301.3 333.4,300.4 333.9,300.4 334.5,300.8 335.0,300.8 335.5,301.2 336.0,300.4 336.5,301.1 337.1,301.5 337.6,300.5 338.1,301.3 338.6,300.5 339.1,301.0 339.7,301.0 340.2,301.6 340.7,300.6 341.2,300.9 341.7,301.3 342.3,300.4 342.8,300.9 343.3,300.5 343.8,300.6 344.4,301.2 344.9,301.2 345.4,301.9 345.9,301.4 346.4,301.4 347.0,300.8 347.5,300.7 348.0,300.9 348.5,299.9 349.0,301.5 349.6,300.6 350.1,300.4 350.6,300.7 351.1,301.2 351.6,301.4 352.2,300.7 352.7,301.0 353.2,300.8 353.7,300.4 354.3,300.9 354.8,300.8 355.3,300.2 355.8,301.3 356.3,300.1 356.9,300.9 357.4,300.3 357.9,300.4 358.4,300.4 358.9,301.0 359.5,300.2 360.0,300.6 360.5,301.3 361.0,300.3 361.5,300.6 362.1,300.8 362.6,300.3 363.1,300.6 363.6,300.1 364.1,300.6 364.7,300.2 365.2,299.6 365.7,300.4 366.2,299.5 366.8,299.0 367.3,297.9 367.8,296.5 368.3,294.0 368.8,290.1 369.4,285.1 369.9,278.3 370.4,274.9 370.9,275.4 371.4,278.3 372.0,283.7 372.5,289.6 373.0,293.4 373.5,296.3 374.0,297.9 374.6,299.6 375.1,299.9 375.6,299.5 376.1,300.2 376.6,299.7 377.2,300.7 377.7,300.7 378.2,300.4 378.7,300.3 379.3,299.8 379.8,300.9 380.3,300.6 380.8,300.6 381.3,301.0 381.9,300.5 382.4,300.5 382.9,300.5 383.4,300.2 383.9,301.8 384.5,300.7 385.0,300.7 385.5,301.2 386.0,299.5 386.5,300.8 387.1,300.9 387.6,300.5 388.1,301.1 388.6,300.0 389.1,300.9 389.7,301.3 390.2,300.0 390.7,300.3 391.2,300.8 391.8,300.9 392.3,300.6 392.8,301.1 393.3,301.0 393.8,300.3 394.4,300.9 394.9,300.4 395.4,300.0 395.9,299.9 396.4,301.3 397.0,300.9 397.5,301.7 398.0,300.3 398.5,300.8 399.0,301.1 399.6,300.9 400.1,301.1 400.6,301.0 401.1,300.7 401.7,300.0 402.2,300.5 402.7,301.7 403.2,301.3 403.7,301.5 404.3,300.7 404.8,300.9 405.3,300.6 405.8,301.1 406.3,301.0 406.9,301.2 407.4,301.7 407.9,300.6 408.4,301.3 408.9,300.4 409.5,301.5 410.0,300.8 410.5,301.0 411.0,301.1 411.5,301.7 412.1,301.0 412.6,300.8 413.1,300.5 413.6,301.2 414.2,300.7 414.7,300.8 415.2,301.0 415.7,301.3 416.2,300.8 416.8,301.4 417.3,301.8 417.8,300.5 418.3,301.7 418.8,302.0 419.4,300.8 419.9,301.4 420.4,300.5 420.9,301.2 421.4,301.0 422.0,301.2 422.5,300.7 423.0,300.8 423.5,300.9 424.0,300.8 424.6,300.9 425.1,301.0 425.6,300.7 426.1,301.1 426.7,301.3 427.2,300.2 427.7,301.2 428.2,300.8 428.7,300.7 429.3,300.6 429.8,300.8 430.3,300.9 430.8,301.3 431.3,300.6 431.9,301.6 432.4,300.8 432.9,301.5 433.4,301.7 433.9,300.7 434.5,301.7 435.0,302.1 435.5,301.0 436.0,301.5 436.5,301.2 437.1,301.3 437.6,301.2 438.1,301.1 438.6,301.6 439.2,301.7 439.7,301.3 440.2,301.9 440.7,301.8 441.2,301.6 441.8,301.0 442.3,302.1 442.8,301.9 443.3,300.4 443.8,300.9 444.4,301.1 444.9,301.7 445.4,301.9 445.9,301.2 446.4,301.5 447.0,301.7 447.5,300.8 448.0,301.6 448.5,301.3 449.0,301.5 449.6,301.4 450.1,300.9 450.6,301.0 451.1,301.4 451.7,301.5 452.2,301.3 452.7,301.9 453.2,301.3 453.7,300.9 454.3,301.3 454.8,301.4 455.3,301.4 455.8,301.9 456.3,301.7 456.9,301.9 457.4,301.7 457.9,301.4 458.4,301.9 458.9,301.4 459.5,301.6 460.0,301.1 460.5,301.5 461.0,301.4 461.6,301.7 462.1,302.3 462.6,302.5 463.1,301.9 463.6,301.5 464.2,301.9 464.7,301.6 465.2,301.3 465.7,301.5 466.2,301.4 466.8,301.3 467.3,302.1 467.8,301.3 468.3,301.4 468.8,301.9 469.4,301.3 469.9,301.1 470.4,301.2 470.9,301.8 471.4,301.8 472.0,301.7 472.5,301.4 473.0,301.2 473.5,302.0 474.1,301.0 474.6,301.5 475.1,301.1 475.6,301.5 476.1,301.6 476.7,302.2 477.2,300.4 477.7,302.2 478.2,301.3 478.7,301.8 479.3,302.0 479.8,301.3 480.3,301.6 480.8,301.9 481.3,301.6 481.9,301.4 482.4,301.8 482.9,301.7 483.4,301.1 483.9,302.3 484.5,301.8 485.0,300.7 485.5,301.4 486.0,302.5 486.6,302.4 487.1,301.9 487.6,301.0 488.1,301.6 488.6,302.2 489.2,301.9 489.7,301.6 490.2,301.5 490.7,302.1 491.2,301.7 491.8,301.9 492.3,302.0 492.8,302.5 493.3,301.9 493.8,301.9 494.4,301.1 494.9,302.3 495.4,302.2 495.9,301.8 496.4,300.9 497.0,301.6 497.5,301.9 498.0,302.7 498.5,302.1 499.1,302.2 499.6,302.2 500.1,302.4 500.6,301.4 501.1,301.5 501.7,301.4 502.2,301.7 502.7,301.7 503.2,301.9 503.7,301.5 504.3,301.9 504.8,301.5 505.3,302.8 505.8,301.7 506.3,303.0 506.9,302.6 507.4,301.4 507.9,302.3 508.4,302.2 509.0,301.3 509.5,302.2 510.0,301.9 510.5,302.1 511.0,301.6 511.6,301.9 512.1,302.1 512.6,301.9 513.1,301.7 513.6,301.9 514.2,301.6 514.7,302.1 515.2,300.9 515.7,302.6 516.2,302.0 516.8,302.2 517.3,302.3 517.8,301.5 518.3,303.0 518.8,301.5 519.4,302.2 519.9,302.2 520.4,302.6 520.9,302.0 521.5,301.4 522.0,302.2 522.5,301.0 523.0,302.0 523.5,301.9 524.1,302.7 524.6,301.9 525.1,301.9 525.6,301.7 526.1,301.7 526.7,301.8 527.2,302.3 527.7,301.5 528.2,302.0 528.7,301.5 529.3,302.0 529.8,302.2 530.3,301.6 530.8,301.9 531.3,302.1 531.9,302.4 532.4,302.5 532.9,302.1 533.4,301.7 534.0,301.5 534.5,302.4 535.0,302.7 535.5,302.3 536.0,302.8 536.6,302.0 537.1,302.0 537.6,302.8 538.1,301.7 538.6,302.4 539.2,302.3 539.7,302.2 540.2,302.9 540.7,301.8 541.2,302.0 541.8,301.3 542.3,301.8 542.8,302.0 543.3,302.0 543.8,302.1 544.4,302.3 544.9,301.9 545.4,301.4 545.9,302.3 546.5,302.4 547.0,301.8 547.5,301.9 548.0,302.9 548.5,302.7 549.1,302.7 549.6,302.5 550.1,302.3 550.6,302.1 551.1,302.5 551.7,302.2 552.2,302.1 552.7,302.3 553.2,302.2 553.7,302.6 554.3,301.9 554.8,303.3 555.3,301.9 555.8,302.1 556.3,302.7 556.9,302.0 557.4,302.1 557.9,302.3 558.4,301.2 559.0,302.1 559.5,302.0 560.0,302.2 560.5,302.5 561.0,302.6 561.6,302.9 562.1,302.9 562.6,302.8 563.1,302.3 563.6,302.8 564.2,302.0 564.7,302.3 565.2,302.9 565.7,302.7 566.2,301.9 566.8,302.2 567.3,302.7 567.8,302.6 568.3,302.8 568.9,301.7 569.4,301.9 569.9,302.3 570.4,302.1 570.9,302.4 571.5,302.4 572.0,302.6 572.5,302.4 573.0,302.6 573.5,302.7 574.1,302.5 574.6,302.0 575.1,302.9 575.6,302.5 576.1,302.6 576.7,302.5 577.2,301.9 577.7,302.7 578.2,302.2 578.7,302.1 579.3,302.9 579.8,302.4 580.3,302.6 580.8,302.8 581.4,303.0 581.9,301.9 582.4,302.2 582.9,302.7 583.4,302.3 584.0,301.4 584.5,302.6 585.0,302.6 585.5,302.8 586.0,302.6 586.6,302.4 587.1,302.6 587.6,302.5 588.1,302.4 588.6,302.6 589.2,302.6 589.7,302.2 590.2,302.8 590.7,302.8 591.2,302.8 591.8,301.7 592.3,302.6 592.8,302.5 593.3,302.2 593.9,302.7 594.4,302.1 594.9,302.9 595.4,302.6 595.9,302.4 596.5,302.9 597.0,302.7 597.5,302.6 598.0,302.1 598.5,302.7 599.1,302.9 599.6,302.8 600.1,302.1 600.6,302.9 601.1,302.9 601.7,302.7 602.2,302.3 602.7,302.0 603.2,302.2 603.7,302.2 604.3,302.5 604.8,302.5 605.3,302.1 605.8,301.9 606.4,302.2 606.9,301.9 607.4,302.5 607.9,301.8 608.4,302.2 609.0,302.2 609.5,301.7 610.0,302.1 610.5,301.7 611.0,301.4 611.6,301.1 612.1,301.2 612.6,301.1 613.1,300.0 613.6,300.2 614.2,299.2 614.7,297.8 615.2,295.7 615.7,291.9 616.3,285.5 616.8,276.5 617.3,264.4 617.8,253.2 618.3,245.1 618.9,243.7 619.4,247.8 619.9,255.9 620.4,265.7 620.9,276.2 621.5,284.8 622.0,291.4 622.5,295.0 623.0,297.8 623.5,299.0 624.1,299.9 624.6,300.9 625.1,301.0 625.6,301.3 626.1,301.5 626.7,301.8 627.2,302.0 627.7,302.0 628.2,301.9 628.8,302.3 629.3,302.1 629.8,302.3 630.3,302.5 630.8,302.6 631.4,302.1 631.9,303.0 632.4,302.8 632.9,303.1 633.4,303.3 634.0,302.6 634.5,302.7 635.0,302.9 635.5,303.0 636.0,302.8 636.6,302.8 637.1,303.1 637.6,302.7 638.1,303.0 638.6,303.2 639.2,302.9 639.7,303.2 640.2,303.0 640.7,302.7 641.3,302.9 641.8,303.0 642.3,303.0 642.8,303.1 643.3,303.2 643.9,303.2 644.4,303.2 644.9,303.0 645.4,303.1 645.9,303.1 646.5,303.0 647.0,303.5 647.5,302.8 648.0,303.2 648.5,302.9 649.1,303.1 649.6,303.4 650.1,303.2 650.6,303.5 651.1,303.0 651.7,303.2 652.2,303.1 652.7,303.3 653.2,303.2 653.8,303.2 654.3,303.3 654.8,303.5 655.3,303.3 655.8,303.3 656.4,303.3 656.9,303.2 657.4,303.0 657.9,303.1 658.4,303.3 659.0,303.0 659.5,303.5 660.0,303.3 660.5,303.2 661.0,303.3 661.6,303.5 662.1,303.5 662.6,303.4 663.1,303.8 663.7,303.9 664.2,303.2 664.7,303.6 665.2,303.3 665.7,303.2 666.3,303.4 666.8,303.7 667.3,303.4 667.8,303.4 668.3,303.8 668.9,303.6 669.4,303.5 669.9,303.9 670.4,303.6 670.9,303.4 671.5,303.3 672.0,303.5 672.5,303.6 673.0,303.8 673.5,303.7 674.1,303.6 674.6,303.4 675.1,303.8 675.6,303.6 676.2,303.4 676.7,303.4 677.2,303.7 677.7,303.7 678.2,303.8 678.8,303.4 679.3,304.0 679.8,303.3 680.3,303.6 680.8,303.9 681.4,303.9 681.9,303.5 682.4,303.8 682.9,303.9 683.4,303.8 684.0,303.5 684.5,304.0 685.0,303.3 685.5,303.7 686.0,303.4 686.6,303.6 687.1,303.6 687.6,303.8 688.1,303.4 688.7,303.7 689.2,303.9 689.7,303.7 690.2,303.8 690.7,303.8 691.3,303.5 691.8,303.6 692.3,303.7 692.8,303.8 693.3,304.1 693.9,304.0 694.4,303.6 694.9,303.6 695.4,303.4 695.9,303.2 696.5,303.9 697.0,303.7 697.5,303.2 698.0,303.6 698.5,304.1 699.1,303.7 699.6,303.7 700.1,303.6 700.6,303.4 701.2,303.4 701.7,303.4 702.2,303.6 702.7,303.5 703.2,303.7 703.8,303.9 704.3,303.6 704.8,303.7 705.3,303.4 705.8,303.2 706.4,303.9 706.9,303.6 707.4,303.7 707.9,303.3 708.4,303.0 709.0,303.6 709.5,302.9 710.0,303.3 710.5,303.2 711.0,303.3 711.6,303.4 712.1,303.3 712.6,302.7 713.1,303.3 713.7,302.6 714.2,303.1 714.7,302.8 715.2,302.6 715.7,302.6 716.3,302.4 716.8,302.5 717.3,302.6 717.8,302.5 718.3,302.2 718.9,302.3 719.4,302.0 719.9,302.1 720.4,301.6 720.9,301.1 721.5,300.8 722.0,300.4 722.5,300.1 723.0,299.6 723.6,299.2 724.1,298.5 724.6,297.5 725.1,296.5 725.6,294.9 726.2,292.9 726.7,289.5 727.2,284.8 727.7,276.1 728.2,261.6 728.8,236.9 729.3,203.3 729.8,161.5 730.3,119.8 730.8,93.4 731.4,90.7 731.9,105.0 732.4,127.3 732.9,156.5 733.4,189.5 734.0,222.0 734.5,247.8 735.0,266.7 735.5,278.9 736.1,286.8 736.6,291.2 737.1,294.2 737.6,295.7 738.1,296.8 738.7,297.7 739.2,298.7 739.7,299.5 740.2,299.8 740.7,300.9 741.3,300.7 741.8,301.2 742.3,301.4 742.8,301.3 743.3,302.0 743.9,302.1 744.4,302.3 744.9,302.1 745.4,302.4 745.9,302.5 746.5,302.8 747.0,302.4 747.5,302.9 748.0,303.1 748.6,302.8 749.1,302.8 749.6,303.3 750.1,303.1 750.6,303.3 751.2,303.3 751.7,303.4 752.2,303.2 752.7,302.8 753.2,303.4 753.8,303.1 754.3,303.4 754.8,303.2 755.3,303.6 755.8,303.2 756.4,303.4 756.9,303.5 757.4,303.2 757.9,303.3 758.4,303.1 759.0,302.9 759.5,303.3 760.0,302.6 760.5,302.3 761.1,302.1 761.6,301.5 762.1,300.2 762.6,298.2 763.1,295.5 763.7,292.0 764.2,289.6 764.7,288.3 765.2,287.9 765.7,289.0 766.3,291.1 766.8,293.0 767.3,294.6 767.8,297.6 768.3,299.4 768.9,300.8 769.4,302.4 769.9,302.8 770.4,302.9 771.0,303.1 771.5,303.6 772.0,303.1 772.5,303.6 773.0,303.4 773.6,303.7 774.1,303.7 774.6,303.5 775.1,303.9 775.6,303.8 776.2,304.1 776.7,303.7 777.2,303.8 777.7,303.7 778.2,304.1 778.8,303.7 779.3,303.8 779.8,304.1 780.3,304.0 780.8,303.9 781.4,303.9 781.9,304.0 782.4,304.0 782.9,303.8 783.5,303.5 784.0,304.2 784.5,303.7 785.0,304.3 785.5,304.0 786.1,304.6 786.6,304.2 787.1,304.0 787.6,304.1 788.1,303.7 788.7,304.0 789.2,303.9 789.7,304.0 790.2,303.5 790.7,303.5 791.3,304.1 791.8,304.0 792.3,303.9 792.8,304.0 793.3,303.9 793.9,303.9 794.4,304.1 794.9,303.9 795.4,304.1 796.0,303.9 796.5,303.6 797.0,303.9 797.5,304.0 798.0,303.8 798.6,303.9 799.1,303.9 799.6,304.2 800.1,304.2 800.6,304.2 801.2,303.9 801.7,304.1 802.2,304.3 802.7,304.1 803.2,304.0 803.8,303.9 804.3,304.2 804.8,304.1 805.3,304.2 805.8,304.0 806.4,304.5 806.9,304.0 807.4,303.8 807.9,304.1 808.5,304.1 809.0,304.3 809.5,303.9 810.0,303.9 810.5,304.0 811.1,304.0 811.6,303.6 812.1,304.2 812.6,304.3 813.1,303.9 813.7,303.9 814.2,304.0 814.7,303.9 815.2,304.2 815.7,303.9 816.3,304.2 816.8,303.8 817.3,303.8 817.8,303.7 818.4,303.8 818.9,304.2 819.4,304.2 819.9,304.1 820.4,304.1 821.0,303.6 821.5,304.3 822.0,303.8 822.5,304.3 823.0,304.6 823.6,304.1 824.1,304.2 824.6,304.2 825.1,303.8 825.6,303.8 826.2,303.9 826.7,304.1 827.2,304.3 827.7,304.1 828.2,304.3 828.8,304.0 829.3,303.8 829.8,304.1 830.3,304.1 830.9,303.8 831.4,304.3 831.9,303.9 832.4,303.9 832.9,304.1 833.5,303.9 834.0,304.2 834.5,304.2 835.0,304.2 835.5,304.1 836.1,304.0 836.6,303.9 837.1,304.2 837.6,304.4 838.1,304.3 838.7,304.2 839.2,304.3 839.7,304.4 840.2,303.8 840.7,304.1 841.3,304.4 841.8,304.0 842.3,304.0 842.8,304.2 843.4,304.1 843.9,304.4 844.4,304.0 844.9,304.2 845.4,304.6 846.0,304.3 846.5,303.8 847.0,303.9 847.5,303.9 848.0,304.1 848.6,303.8 849.1,304.2 849.6,304.5 850.1,304.4 850.6,303.9 851.2,304.0 851.7,304.0 852.2,303.9 852.7,304.5 853.2,304.0 853.8,303.9 854.3,304.2 854.8,304.2 855.3,304.4 855.9,304.4 856.4,304.1 856.9,303.7 857.4,304.2 857.9,304.3 858.5,304.5 859.0,303.8 859.5,303.8 860.0,304.4 860.5,304.4 861.1,304.3 861.6,304.1 862.1,304.3 862.6,304.0 863.1,303.8 863.7,304.0 864.2,304.1 864.7,304.2 865.2,304.3 865.7,303.7 866.3,304.1 866.8,304.1 867.3,303.8 867.8,304.0 868.4,304.0 868.9,304.1 869.4,303.8 869.9,303.9 870.4,303.8 871.0,304.1 871.5,303.9 872.0,303.8 872.5,304.1 873.0,303.9 873.6,303.7 874.1,304.2 874.6,304.1 875.1,304.0 875.6,303.7 876.2,304.1 876.7,303.7 877.2,303.4 877.7,303.8 878.3,304.1 878.8,303.6 879.3,303.8 879.8,303.9 880.3,303.6 880.9,303.5 881.4,303.5 881.9,303.5 882.4,303.2 882.9,303.3 883.5,303.2 884.0,302.9 884.5,302.9 885.0,302.7 885.5,302.2 886.1,301.9 886.6,301.4 887.1,300.6 887.6,299.2 888.1,296.7 888.7,293.2 889.2,287.4 889.7,279.3 890.2,269.4 890.8,260.5 891.3,255.0 891.8,254.6 892.3,258.5 892.8,262.9 893.4,267.4 893.9,273.0 894.4,279.5 894.9,285.5 895.4,291.5 896.0,295.3 896.5,298.3 897.0,300.2 897.5,301.1 898.0,301.7 898.6,302.2 899.1,302.6 899.6,302.6 900.1,302.8 900.6,303.2 901.2,303.5 901.7,303.3 902.2,303.6 902.7,303.3 903.3,303.6 903.8,303.6 904.3,303.4 904.8,303.7 905.3,303.7 905.9,303.3 906.4,303.8 906.9,303.9 907.4,303.9 907.9,303.9 908.5,303.7 909.0,303.8 909.5,303.9 910.0,303.8 910.5,303.9 911.1,304.2 911.6,303.8 912.1,303.9 912.6,304.4 913.1,304.0 913.7,303.8 914.2,304.1 914.7,304.1 915.2,304.1 915.8,303.7 916.3,304.1 916.8,304.2 917.3,304.5 917.8,304.2 918.4,304.0 918.9,304.2 919.4,304.3 919.9,304.1 920.4,304.1 921.0,304.4 921.5,304.2 922.0,304.3 922.5,304.0 923.0,304.2 923.6,303.8 924.1,304.4 924.6,304.1 925.1,304.3 925.7,304.5 926.2,304.0 926.7,304.4 927.2,304.2 927.7,304.4 928.3,304.1 928.8,304.1 929.3,304.5 929.8,304.3 930.3,304.2 930.9,304.0 931.4,304.5 931.9,304.1 932.4,304.2 932.9,304.1 933.5,304.2 934.0,304.3 934.5,304.2 935.0,304.2 935.5,304.1 936.1,304.5 936.6,304.5 937.1,304.2 937.6,304.1 938.2,304.3 938.7,303.9 939.2,304.3 939.7,304.3 940.2,304.3 940.8,304.6 941.3,304.6 941.8,304.3 942.3,304.2 942.8,304.4 943.4,304.5 943.9,304.0 944.4,304.1 944.9,304.2 945.4,303.9 946.0,304.0 946.5,304.6 947.0,304.0 947.5,304.4 948.0,304.1 948.6,304.4 949.1,304.3 949.6,304.4 950.1,304.0 950.7,304.3 951.2,304.1 951.7,304.4 952.2,304.4 952.7,304.3 953.3,304.2 953.8,304.3 954.3,304.3 954.8,304.2 955.3,304.2 955.9,304.1 956.4,304.1 956.9,304.5 957.4,304.0 957.9,304.5 958.5,304.4 959.0,303.9 959.5,303.9 960.0,304.3 960.5,304.1 961.1,304.3 961.6,304.5 962.1,304.3 962.6,304.2 963.2,304.2 963.7,304.6 964.2,304.2 964.7,304.6 965.2,304.7 965.8,304.2 966.3,304.3 966.8,304.6 967.3,304.2 967.8,304.4 968.4,304.5 968.9,304.1 969.4,304.4 969.9,304.3 970.4,304.2 971.0,304.6 971.5,304.3 972.0,304.7 972.5,304.4 973.0,304.2 973.6,304.4 974.1,304.2 974.6,304.5 975.1,304.4 975.7,304.1 976.2,304.2 976.7,304.4 977.2,304.3 977.7,304.1 978.3,304.5 978.8,304.6 979.3,304.0 979.8,304.6 980.3,303.9 980.9,304.3 981.4,304.2 981.9,304.2 982.4,304.3 982.9,304.1 983.5,304.3 984.0,304.6 984.5,304.4 985.0,304.6 985.6,304.5 986.1,304.0 986.6,304.7 987.1,304.5 987.6,304.4 988.2,304.2 988.7,304.2 989.2,304.1 989.7,304.3 990.2,304.3 990.8,304.3 991.3,304.3 991.8,303.9 992.3,304.2 992.8,304.2 993.4,304.4 993.9,304.2 994.4,304.2 994.9,304.3 995.4,304.2 996.0,304.3 996.5,304.5 997.0,304.3 997.5,304.1 998.1,304.4 998.6,304.5 999.1,304.5 999.6,304.1 1000.1,304.5 1000.7,304.3 1001.2,304.4 1001.7,304.3 1002.2,304.4 1002.7,304.4 1003.3,304.6 1003.8,304.4 1004.3,304.3 1004.8,304.5 1005.3,304.3 1005.9,304.6 1006.4,304.4 1006.9,304.5 1007.4,304.2 1007.9,304.5 1008.5,304.5 1009.0,304.2 1009.5,304.3 1010.0,304.4 1010.6,304.1 1011.1,304.1 1011.6,304.4 1012.1,304.4 1012.6,304.6 1013.2,304.1 1013.7,304.3 1014.2,304.0 1014.7,304.7 1015.2,304.1 1015.8,304.3 1016.3,304.7 1016.8,304.6 1017.3,304.2 1017.8,304.8 1018.4,304.4 1018.9,304.2 1019.4,304.4 1019.9,304.5 1020.4,304.5 1021.0,303.9 1021.5,304.7 1022.0,304.0 1022.5,304.3 1023.1,304.6 1023.6,304.4 1024.1,304.3 1024.6,304.2 1025.1,304.5 1025.7,304.6 1026.2,304.2 1026.7,304.4 1027.2,304.3 1027.7,304.3 1028.3,304.0 1028.8,304.4 1029.3,304.5 1029.8,304.3 1030.3,304.6 1030.9,304.4 1031.4,304.6 1031.9,304.4 1032.4,304.3 1033.0,304.3 1033.5,304.4 1034.0,304.4 1034.5,304.2 1035.0,304.3 1035.6,304.1 1036.1,304.1 1036.6,304.5 1037.1,304.4 1037.6,304.5 1038.2,304.4 1038.7,304.4 1039.2,304.7 1039.7,304.2 1040.2,304.4 1040.8,304.7 1041.3,304.8 1041.8,304.5 1042.3,304.4 1042.8,304.2 1043.4,304.3 1043.9,304.4 1044.4,304.4 1044.9,304.5 1045.5,304.5 1046.0,304.3 1046.5,304.2 1047.0,304.3 1047.5,304.5 1048.1,304.7 1048.6,304.1 1049.1,304.6 1049.6,304.3 1050.1,304.6 1050.7,304.7 1051.2,304.5 1051.7,304.2 1052.2,304.3 1052.7,304.4 1053.3,304.3 1053.8,304.4 1054.3,304.2 1054.8,304.3 1055.3,304.3 1055.9,304.5 1056.4,304.4 1056.9,304.5 1057.4,304.1 1058.0,304.3 1058.5,304.2 1059.0,304.3 1059.5,304.2 1060.0,304.2 1060.6,304.7 1061.1,304.3 1061.6,304.1 1062.1,304.3 1062.6,304.8 1063.2,304.5 1063.7,304.2 1064.2,304.3 1064.7,304.4 1065.2,304.4 1065.8,304.0 1066.3,304.2 1066.8,304.4 1067.3,304.1 1067.8,304.3 1068.4,304.4 1068.9,304.5 1069.4,304.6 1069.9,304.3 1070.5,304.4 1071.0,304.5 1071.5,304.6 1072.0,304.4 1072.5,304.2 1073.1,304.5 1073.6,304.5 1074.1,304.4 1074.6,304.5 1075.1,304.7 1075.7,304.3 1076.2,304.2 1076.7,304.2 1077.2,304.4 1077.7,304.6 1078.3,304.3 1078.8,304.7 1079.3,304.3 1079.8,304.4 1080.4,304.4 1080.9,304.6 1081.4,304.3 1081.9,304.7 1082.4,304.3 1083.0,304.1 1083.5,304.3 1084.0,304.3 1084.5,304.7 1085.0,304.3 1085.6,304.4 1086.1,304.8 1086.6,304.4 1087.1,304.2 1087.6,304.2 1088.2,304.0 1088.7,304.4 1089.2,304.6 1089.7,304.3 1090.2,304.1 1090.8,304.4 1091.3,304.3 1091.8,304.3 1092.3,304.4 1092.9,304.3 1093.4,304.2 1093.9,304.5 1094.4,303.9 1094.9,304.0 1095.5,304.2 1096.0,304.0 1096.5,304.5 1097.0,303.8 1097.5,304.3 1098.1,304.2 1098.6,304.2 1099.1,304.1 1099.6,303.9 1100.1,303.8 1100.7,304.2 1101.2,303.8 1101.7,303.4 1102.2,303.4 1102.7,303.1 1103.3,303.2 1103.8,302.9 1104.3,301.8 1104.8,300.5 1105.4,298.4 1105.9,296.0 1106.4,292.8 1106.9,289.8 1107.4,288.0 1108.0,287.4 1108.5,289.2 1109.0,290.4 1109.5,292.1 1110.0,293.1 1110.6,294.0 1111.1,295.6 1111.6,297.3 1112.1,299.0 1112.6,300.9 1113.2,301.8 1113.7,302.8 1114.2,303.0 1114.7,303.5 1115.2,303.7 1115.8,303.6 1116.3,303.8 1116.8,304.1 1117.3,304.0 1117.9,304.2 1118.4,304.0 1118.9,304.2 1119.4,303.9 1119.9,304.0 1120.5,304.5 1121.0,304.3 1121.5,304.3 1122.0,304.3 1122.5,304.0 1123.1,304.4 1123.6,304.1 1124.1,304.2 1124.6,304.4 1125.1,304.2 1125.7,304.2 1126.2,304.3 1126.7,304.4 1127.2,304.6 1127.7,304.0 1128.3,304.3 1128.8,304.5 1129.3,304.3 1129.8,304.3 1130.4,304.2 1130.9,304.3 1131.4,304.5 1131.9,304.6 1132.4,304.4 1133.0,304.6 1133.5,304.4 1134.0,304.1 1134.5,304.5 1135.0,304.0 1135.6,304.4 1136.1,304.4 1136.6,304.2 1137.1,304.3 1137.6,304.3 1138.2,304.4 1138.7,304.3 1139.2,304.5 1139.7,304.3 1140.3,304.5 1140.8,304.4 1141.3,304.4 1141.8,304.4 1142.3,304.3 1142.9,304.6 1143.4,304.5 1143.9,304.0 1144.4,304.1 1144.9,304.7 1145.5,304.3 1146.0,304.9 1146.5,304.5 1147.0,304.5 1147.5,304.3 1148.1,304.3 1148.6,304.4 1149.1,304.5 1149.6,304.4 1150.1,304.3 1150.7,304.2 1151.2,304.3 1151.7,304.3 1152.2,304.3 1152.8,304.2 1153.3,304.1 1153.8,304.3 1154.3,303.9 1154.8,304.0 1155.4,304.2 1155.9,304.4 1156.4,304.2 1156.9,304.1 1157.4,304.4 1158.0,304.2 1158.5,304.5 1159.0,304.2 1159.5,304.1 1160.0,304.1 1160.6,304.5 1161.1,304.5 1161.6,304.2 1162.1,304.4 1162.6,303.9 1163.2,304.4 1163.7,304.2 1164.2,304.1 1164.7,304.1 1165.3,304.1 1165.8,303.9 1166.3,303.9 1166.8,303.7 1167.3,304.2 1167.9,303.7 1168.4,303.8 1168.9,303.9 1169.4,303.9 1169.9,303.9 1170.5,303.4 1171.0,303.3 1171.5,303.3 1172.0,302.8 1172.5,303.2 1173.1,302.5 1173.6,302.6 1174.1,302.5 1174.6,302.2 1175.1,301.5 1175.7,301.1 1176.2,300.2 1176.7,298.2 1177.2,296.0 1177.8,292.1 1178.3,285.7 1178.8,276.7 1179.3,265.7 1179.8,254.7 1180.4,245.4 1180.9,243.0 1181.4,246.4 1181.9,253.3 1182.4,259.1 1183.0,262.4 1183.5,264.6 1184.0,268.2 1184.5,273.0 1185.0,279.8 1185.6,285.8 1186.1,291.8 1186.6,295.1 1187.1,298.0 1187.7,299.8 1188.2,301.0 1188.7,301.7 1189.2,302.5 1189.7,302.9 1190.3,303.1 1190.8,303.1 1191.3,303.2 1191.8,302.9 1192.3,303.4 1192.9,303.4 1193.4,303.7 1193.9,303.5 1194.4,303.6 1194.9,303.7 1195.5,304.0 1196.0,304.0 1196.5,303.8 1197.0,303.7 1197.5,303.9 1198.1,303.9 1198.6,304.0 1199.1,304.1 1199.6,304.3 1200.2,304.3 1200.7,304.1 1201.2,304.1 1201.7,304.5 1202.2,304.2 1202.8,304.4 1203.3,304.3 1203.8,304.4 1204.3,304.6 1204.8,304.3 1205.4,304.5 1205.9,304.4 1206.4,304.3 1206.9,304.3 1207.4,304.3 1208.0,304.6 1208.5,304.6 1209.0,304.2 1209.5,304.5 1210.0,304.1 1210.6,304.4 1211.1,304.8 1211.6,304.2 1212.1,304.5 1212.7,304.3 1213.2,304.4 1213.7,304.2 1214.2,304.5 1214.7,304.0 1215.3,304.4 1215.8,304.4 1216.3,304.4 1216.8,304.8 1217.3,304.2 1217.9,304.3 1218.4,304.2 1218.9,304.6 1219.4,304.5 1219.9,304.2 1220.5,304.6 1221.0,304.5 1221.5,304.7 1222.0,304.6 1222.5,304.5 1223.1,304.3 1223.6,304.1 1224.1,304.4 1224.6,304.7 1225.2,304.4 1225.7,304.3 1226.2,304.5 1226.7,304.6 1227.2,305.0 1227.8,304.3 1228.3,304.4 1228.8,304.3 1229.3,304.3 1229.8,304.7 1230.4,304.5 1230.9,304.2 1231.4,304.7 1231.9,304.8 1232.4,304.6 1233.0,304.3 1233.5,304.3 1234.0,304.7 1234.5,304.3 1235.1,304.4 1235.6,304.2 1236.1,304.9 1236.6,304.4 1237.1,304.5 1237.7,304.4 1238.2,304.4 1238.7,304.3 1239.2,304.7 1239.7,304.4 1240.3,304.8 1240.8,304.2 1241.3,304.6 1241.8,304.7 1242.3,304.3 1242.9,304.5 1243.4,304.4 1243.9,304.3 1244.4,304.4 1244.9,304.1 1245.5,304.4 1246.0,304.2 1246.5,304.6 1247.0,304.8 1247.6,304.8 1248.1,304.3 1248.6,304.5 1249.1,304.9 1249.6,304.7 1250.2,304.6 1250.7,304.1 1251.2,304.4 1251.7,304.9 1252.2,304.6 1252.8,304.4 1253.3,304.5 1253.8,304.9 1254.3,304.7 1254.8,304.2 1255.4,304.3 1255.9,304.5 1256.4,304.7 1256.9,304.3 1257.4,304.4 1258.0,304.0 1258.5,304.3 1259.0,304.6 1259.5,304.6 1260.1,304.2 1260.6,304.6 1261.1,304.3 1261.6,304.2 1262.1,304.5 1262.7,304.1 1263.2,304.3 1263.7,304.3 1264.2,304.4 1264.7,304.5 1265.3,304.3 1265.8,304.2 1266.3,304.3 1266.8,303.9 1267.3,304.4 1267.9,304.8 1268.4,304.5 1268.9,304.6 1269.4,304.4 1269.9,304.4 1270.5,304.5 1271.0,304.5 1271.5,304.5 1272.0,304.2 1272.6,304.4 1273.1,304.1 1273.6,304.5 1274.1,304.3 1274.6,304.3 1275.2,304.1 1275.7,304.4 1276.2,304.5 1276.7,304.4 1277.2,304.5 1277.8,304.1 1278.3,304.4 1278.8,304.2 1279.3,303.7 1279.8,304.2 1280.4,304.0 1280.9,304.1 1281.4,304.0 1281.9,303.9 1282.4,304.3 1283.0,303.9 1283.5,304.0 1284.0,304.1 1284.5,303.8 1285.1,303.6 1285.6,303.8 1286.1,303.7 1286.6,303.5 1287.1,303.6 1287.7,303.8 1288.2,303.6 1288.7,303.6 1289.2,303.5 1289.7,303.1 1290.3,302.9 1290.8,302.4 1291.3,302.6 1291.8,302.0 1292.3,301.8 1292.9,301.5 1293.4,300.5 1293.9,299.2 1294.4,297.7 1295.0,295.2 1295.5,291.3 1296.0,284.2 1296.5,274.5 1297.0,261.8 1297.6,248.2 1298.1,236.1 1298.6,230.3 1299.1,232.5 1299.6,240.8 1300.2,249.0 1300.7,255.2 1301.2,258.0 1301.7,259.1 1302.2,261.2 1302.8,265.6 1303.3,273.3 1303.8,280.8 1304.3,287.3 1304.8,292.6 1305.4,296.4 1305.9,298.6 1306.4,300.0 1306.9,301.2 1307.5,301.5 1308.0,302.3 1308.5,302.5 1309.0,302.7 1309.5,303.0 1310.1,303.3 1310.6,303.1 1311.1,303.6 1311.6,303.3 1312.1,303.6 1312.7,303.8 1313.2,303.8 1313.7,303.6 1314.2,303.6 1314.7,303.7 1315.3,303.9 1315.8,304.0 1316.3,304.1 1316.8,303.8 1317.3,304.2 1317.9,304.3 1318.4,304.2 1318.9,304.2 1319.4,304.4 1320.0,304.5 1320.5,304.5 1321.0,304.6 1321.5,304.0 1322.0,304.6 1322.6,304.3 1323.1,304.5 1323.6,304.2 1324.1,304.4 1324.6,304.3 1325.2,304.3 1325.7,304.8 1326.2,304.2 1326.7,304.6 1327.2,304.4 1327.8,304.2 1328.3,304.7 1328.8,304.4 1329.3,304.3 1329.8,304.5 1330.4,304.3 1330.9,304.8 1331.4,304.2 1331.9,304.4 1332.5,304.1 1333.0,304.5 1333.5,304.6 1334.0,304.7 1334.5,304.8 1335.1,304.5 1335.6,304.4 1336.1,304.7 1336.6,304.4 1337.1,304.6 1337.7,304.4 1338.2,304.4 1338.7,304.5 1339.2,304.7 1339.7,304.7 1340.3,304.6 1340.8,304.0 1341.3,304.5 1341.8,304.6 1342.4,304.6 1342.9,304.4 1343.4,304.7 1343.9,304.6 1344.4,304.2 1345.0,304.7 1345.5,304.9 1346.0,304.6 1346.5,304.4 1347.0,304.9 1347.6,304.7 1348.1,304.2 1348.6,304.8 1349.1,304.6 1349.6,304.6 1350.2,304.2 1350.7,304.2 1351.2,304.6 1351.7,304.9 1352.2,304.6 1352.8,304.6 1353.3,304.4 1353.8,304.4 1354.3,304.7 1354.9,304.4 1355.4,304.9 1355.9,304.6 1356.4,304.5 1356.9,304.5 1357.5,304.3 1358.0,304.4 1358.5,304.1 1359.0,304.4 1359.5,304.0 1360.1,304.8 1360.6,304.2 1361.1,303.9 1361.6,304.1 1362.1,303.9 1362.7,303.6 1363.2,303.5 1363.7,303.0 1364.2,302.7 1364.7,302.4 1365.3,302.2 1365.8,301.7 1366.3,301.7 1366.8,301.0 1367.4,301.9 1367.9,301.8 1368.4,302.1 1368.9,302.1 1369.4,302.5 1370.0,302.5 1370.5,302.7 1371.0,302.9 1371.5,303.1 1372.0,303.2 1372.6,303.7 1373.1,303.9 1373.6,304.0 1374.1,304.4 1374.6,304.2 1375.2,304.4 1375.7,304.6 1376.2,304.5 1376.7,304.4 1377.2,304.2 1377.8,304.3 1378.3,304.3 1378.8,304.7 1379.3,303.8 1379.9,304.9 1380.4,304.4 1380.9,304.8 1381.4,304.6 1381.9,304.7 1382.5,304.3 1383.0,304.8 1383.5,304.5 1384.0,304.7 1384.5,304.4 1385.1,304.6 1385.6,304.4 1386.1,304.6 1386.6,304.7 1387.1,304.5 1387.7,304.7 1388.2,304.7 1388.7,304.6 1389.2,304.5 1389.7,304.2 1390.3,304.8 1390.8,304.6 1391.3,304.5 1391.8,304.6 1392.4,304.5 1392.9,304.5 1393.4,304.7 1393.9,304.3 1394.4,304.5 1395.0,304.7 1395.5,304.3 1396.0,304.4 1396.5,304.9 1397.0,305.0 1397.6,304.7 1398.1,304.7 1398.6,304.4 1399.1,304.9 1399.6,304.6 1400.2,304.6 1400.7,304.7 1401.2,304.5 1401.7,304.5 1402.3,304.6 1402.8,304.4 1403.3,304.5 1403.8,304.1 1404.3,304.4 1404.9,304.7 1405.4,304.8 1405.9,304.7 1406.4,304.5 1406.9,304.6 1407.5,304.4 1408.0,304.4 1408.5,304.8 1409.0,304.6 1409.5,304.6 1410.1,304.7 1410.6,304.8 1411.1,304.7 1411.6,304.6 1412.1,304.7 1412.7,304.6 1413.2,304.6 1413.7,304.2 1414.2,304.5 1414.8,304.6 1415.3,304.4 1415.8,305.0 1416.3,305.1 1416.8,305.0 1417.4,304.5 1417.9,304.7 1418.4,304.7 1418.9,304.7 1419.4,304.3 1420.0,304.8 1420.5,305.0 1421.0,304.8 1421.5,305.1 1422.0,304.6 1422.6,304.8 1423.1,304.9 1423.6,304.5 1424.1,304.6 1424.6,304.5 1425.2,304.8 1425.7,304.4 1426.2,304.7 1426.7,304.6 1427.3,304.8 1427.8,304.6 1428.3,304.6 1428.8,304.7 1429.3,304.5 1429.9,304.6 1430.4,304.6 1430.9,304.6 1431.4,304.7 1431.9,304.5 1432.5,304.7 1433.0,304.6 1433.5,304.5 1434.0,304.4 1434.5,304.3 1435.1,304.5 1435.6,304.8 1436.1,304.6 1436.6,304.9 1437.1,304.4 1437.7,304.6 1438.2,304.3 1438.7,304.9 1439.2,304.4 1439.8,304.7 1440.3,304.7 1440.8,305.1 1441.3,304.9 1441.8,304.8 1442.4,304.7 1442.9,305.0 1443.4,304.6 1443.9,304.4 1444.4,304.8 1445.0,304.6 1445.5,304.5 1446.0,304.7 1446.5,304.7 1447.0,304.3 1447.6,304.8 1448.1,305.0 1448.6,304.5 1449.1,304.3 1449.7,304.7 1450.2,304.6 1450.7,304.8 1451.2,304.8 1451.7,304.6 1452.3,304.9 1452.8,304.2 1453.3,304.5 1453.8,304.6 1454.3,304.7 1454.9,304.6 1455.4,304.7 1455.9,304.3 1456.4,304.1 1456.9,304.8 1457.5,304.9 1458.0,304.6 1458.5,304.4 1459.0,304.4 1459.5,304.7 1460.1,304.6 1460.6,304.8 1461.1,304.9 1461.6,304.8 1462.2,304.5 1462.7,304.7 1463.2,304.6 1463.7,304.6 1464.2,304.5 1464.8,304.5 1465.3,304.3 1465.8,304.5 1466.3,304.3 1466.8,304.4 1467.4,304.5 1467.9,304.4 1468.4,303.8 1468.9,303.9 1469.4,303.7 1470.0,303.8 1470.5,303.3 1471.0,303.3 1471.5,302.5 1472.0,302.2 1472.6,301.4 1473.1,300.8 1473.6,300.3 1474.1,300.0 1474.7,299.3 1475.2,299.7 1475.7,299.5 1476.2,300.1 1476.7,300.0 1477.3,300.5 1477.8,301.1 1478.3,301.3 1478.8,301.1 1479.3,302.0 1479.9,301.9 1480.4,302.4 1480.9,302.8 1481.4,303.1 1481.9,303.5 1482.5,303.7 1483.0,304.0 1483.5,304.1 1484.0,304.1 1484.5,304.0 1485.1,304.1 1485.6,304.3 1486.1,304.5 1486.6,304.5 1487.2,304.4 1487.7,304.5 1488.2,304.4 1488.7,304.5 1489.2,304.6 1489.8,304.4 1490.3,304.8 1490.8,304.7 1491.3,304.5 1491.8,304.7 1492.4,304.6 1492.9,304.6 1493.4,304.6 1493.9,304.8 1494.4,304.6 1495.0,304.6 1495.5,304.8 1496.0,304.8 1496.5,304.9 1497.1,304.4 1497.6,304.7 1498.1,304.2 1498.6,304.6 1499.1,304.3 1499.7,304.3 1500.2,304.6 1500.7,304.4 1501.2,304.5 1501.7,304.1 1502.3,304.9 1502.8,304.1 1503.3,304.5 1503.8,304.9 1504.3,304.3 1504.9,304.9 1505.4,304.8 1505.9,304.6 1506.4,304.5 1506.9,304.5 1507.5,304.7 1508.0,304.8 1508.5,304.9 1509.0,304.2 1509.6,304.8 1510.1,304.7 1510.6,304.4 1511.1,304.8 1511.6,304.8 1512.2,304.8 1512.7,304.6 1513.2,304.7 1513.7,304.8 1514.2,304.5 1514.8,304.5 1515.3,304.5 1515.8,304.8 1516.3,304.6 1516.8,304.4 1517.4,304.4 1517.9,304.3 1518.4,304.6 1518.9,304.7 1519.4,304.8 1520.0,304.3 1520.5,304.3 1521.0,304.3 1521.5,304.3 1522.1,304.2 1522.6,304.8 1523.1,304.6 1523.6,304.4 1524.1,304.0 1524.7,304.7 1525.2,304.6 1525.7,304.4 1526.2,304.5 1526.7,304.2 1527.3,304.5 1527.8,304.2 1528.3,304.4 1528.8,304.2 1529.3,304.0 1529.9,304.0 1530.4,304.3 1530.9,304.3 1531.4,304.0 1531.9,303.8 1532.5,303.7 1533.0,303.6 1533.5,303.0 1534.0,303.1 1534.6,302.2 1535.1,301.3 1535.6,300.5 1536.1,299.5 1536.6,297.4 1537.2,295.7 1537.7,293.8 1538.2,292.6 1538.7,291.8 1539.2,291.7 1539.8,292.2 1540.3,293.4 1540.8,294.5 1541.3,295.0 1541.8,295.6 1542.4,295.9 1542.9,296.2 1543.4,297.1 1543.9,297.3 1544.4,298.5 1545.0,299.7 1545.5,300.4 1546.0,301.4 1546.5,302.2 1547.1,302.3 1547.6,303.2 1548.1,303.2 1548.6,303.6 1549.1,303.4 1549.7,303.5 1550.2,303.8 1550.7,304.2 1551.2,304.4 1551.7,304.4 1552.3,304.1 1552.8,304.1 1553.3,303.9 1553.8,303.7 1554.3,303.3 1554.9,303.0 1555.4,302.7 1555.9,302.3 1556.4,301.5 1557.0,300.8 1557.5,300.2 1558.0,300.5 1558.5,299.2 1559.0,299.4 1559.6,299.3 1560.1,299.5 1560.6,299.4 1561.1,300.3 1561.6,300.2 1562.2,300.3 1562.7,300.5 1563.2,300.9 1563.7,301.6 1564.2,301.2 1564.8,301.7 1565.3,302.3 1565.8,302.7 1566.3,302.8 1566.8,303.1 1567.4,303.5 1567.9,303.9 1568.4,303.9 1568.9,304.1 1569.5,304.2 1570.0,304.3 1570.5,304.5 1571.0,304.2 1571.5,304.4 1572.1,304.3 1572.6,304.6 1573.1,304.6 1573.6,304.4 1574.1,304.7 1574.7,304.5 1575.2,304.8 1575.7,304.5 1576.2,304.5 1576.7,304.3 1577.3,304.4 1577.8,304.5 1578.3,304.2 1578.8,304.6 1579.3,304.8 1579.9,304.7 1580.4,304.6 1580.9,304.7 1581.4,304.5 1582.0,304.5 1582.5,304.8 1583.0,304.6 1583.5,304.8 1584.0,304.5 1584.6,304.8 1585.1,304.9 1585.6,304.6 1586.1,305.0 1586.6,304.9 1587.2,304.2 1587.7,305.2 1588.2,304.3 1588.7,305.1 1589.2,304.5 1589.8,304.2 1590.3,304.4 1590.8,304.7 1591.3,304.4 1591.8,304.5 1592.4,304.9 1592.9,304.4 1593.4,304.7 1593.9,304.9 1594.5,304.3 1595.0,304.4 1595.5,304.7 1596.0,304.7 1596.5,304.7 1597.1,304.3 1597.6,304.5 1598.1,304.7 1598.6,304.8 1599.1,304.9 1599.7,304.6 1600.2,304.5 1600.7,304.5 1601.2,304.5 1601.7,304.3 1602.3,305.0 1602.8,304.6 1603.3,304.5 1603.8,304.5 1604.4,304.8 1604.9,304.7 1605.4,304.5 1605.9,304.9 1606.4,304.7 1607.0,304.6 1607.5,304.7 1608.0,304.9 1608.5,304.8 1609.0,304.6 1609.6,304.9 1610.1,304.2 1610.6,304.8 1611.1,304.5 1611.6,304.5 1612.2,304.6 1612.7,305.0 1613.2,304.6 1613.7,304.6 1614.2,304.8 1614.8,304.3 1615.3,304.6 1615.8,304.8 1616.3,304.5 1616.9,304.8 1617.4,304.5 1617.9,304.4 1618.4,304.8 1618.9,304.7 1619.5,304.8 1620.0,304.7 1620.5,304.4 1621.0,304.9 1621.5,304.7 1622.1,304.7 1622.6,304.6 1623.1,304.4 1623.6,304.9 1624.1,304.8 1624.7,304.7 1625.2,304.5 1625.7,304.9 1626.2,304.5 1626.7,304.5 1627.3,305.1 1627.8,304.8 1628.3,304.8 1628.8,304.8 1629.4,305.0 1629.9,304.7 1630.4,304.7 1630.9,304.4 1631.4,304.6 1632.0,304.3 1632.5,304.5 1633.0,304.6 1633.5,304.7 1634.0,304.8 1634.6,304.4 1635.1,304.3 1635.6,304.5 1636.1,304.2 1636.6,304.7 1637.2,304.5 1637.7,303.9 1638.2,304.0 1638.7,304.0 1639.2,303.4 1639.8,303.1 1640.3,302.9 1640.8,302.7 1641.3,302.1 1641.9,301.6 1642.4,301.3 1642.9,300.9 1643.4,300.8 1643.9,300.8 1644.5,300.9 1645.0,301.1 1645.5,301.2 1646.0,301.4 1646.5,301.5 1647.1,301.4 1647.6,301.8 1648.1,302.4 1648.6,302.3 1649.1,302.6 1649.7,302.9 1650.2,302.9 1650.7,303.2 1651.2,303.6 1651.8,303.6 1652.3,304.1 1652.8,304.2 1653.3,304.2 1653.8,304.3 1654.4,304.5 1654.9,304.4 1655.4,304.0 1655.9,304.6 1656.4,304.3 1657.0,304.4 1657.5,304.5 1658.0,304.5 1658.5,304.3 1659.0,304.2 1659.6,304.6 1660.1,304.6 1660.6,304.7 1661.1,304.4 1661.6,304.6 1662.2,304.8 1662.7,304.6 1663.2,304.5 1663.7,305.1 1664.3,304.3 1664.8,304.5 1665.3,304.5 1665.8,304.6 1666.3,305.3 1666.9,304.5 1667.4,304.6 1667.9,304.6 1668.4,304.5 1668.9,304.9 1669.5,304.6 1670.0,304.9 1670.5,305.0 1671.0,304.6 1671.5,305.0 1672.1,304.5 1672.6,304.8 1673.1,304.9 1673.6,304.5 1674.1,304.7 1674.7,304.8 1675.2,304.8 1675.7,304.8 1676.2,305.1 1676.8,304.7 1677.3,305.0 1677.8,305.1 1678.3,304.6 1678.8,304.6 1679.4,304.5 1679.9,304.9 1680.4,305.0 1680.9,304.4 1681.4,304.5 1682.0,304.6 1682.5,305.2 1683.0,304.7 1683.5,304.8 1684.0,304.5 1684.6,304.9 1685.1,304.5 1685.6,304.7 1686.1,304.5 1686.6,304.7 1687.2,304.7 1687.7,304.8 1688.2,304.8 1688.7,305.1 1689.3,304.6 1689.8,305.0 1690.3,304.8 1690.8,304.7 1691.3,304.8 1691.9,304.8 1692.4,304.9 1692.9,304.9 1693.4,304.9 1693.9,304.8 1694.5,304.4 1695.0,304.9 1695.5,305.0 1696.0,304.8 1696.5,304.8 1697.1,304.6 1697.6,304.8 1698.1,304.9 1698.6,304.5 1699.1,304.7 1699.7,304.6 1700.2,305.0 1700.7,304.7 1701.2,304.4 1701.8,304.8 1702.3,305.0 1702.8,304.7 1703.3,304.7 1703.8,304.8 1704.4,305.1 1704.9,304.7 1705.4,304.7 1705.9,304.8 1706.4,304.6 1707.0,304.4 1707.5,304.8 1708.0,304.7 1708.5,304.8 1709.0,304.8 1709.6,304.9 1710.1,304.5 1710.6,304.8 1711.1,304.6 1711.7,304.8 1712.2,304.7 1712.7,305.1 1713.2,304.6 1713.7,304.3 1714.3,304.8 1714.8,304.7 1715.3,304.6 1715.8,304.8 1716.3,305.1 1716.9,304.7 1717.4,304.6 1717.9,305.0 1718.4,305.0 1718.9,304.8 1719.5,304.6 1720.0,304.9 1720.5,304.6 1721.0,304.6 1721.5,304.6 1722.1,304.9 1722.6,305.0 1723.1,304.8 1723.6,305.1 1724.2,304.4 1724.7,304.7 1725.2,304.4 1725.7,304.9 1726.2,305.0 1726.8,304.4 1727.3,304.6 1727.8,304.8 1728.3,304.4 1728.8,304.6 1729.4,304.5 1729.9,304.7 1730.4,304.6 1730.9,304.5 1731.4,304.6 1732.0,304.7 1732.5,304.7 1733.0,304.7 1733.5,305.0 1734.0,304.7 1734.6,304.7 1735.1,304.8 1735.6,304.7 1736.1,305.0 1736.7,304.9 1737.2,304.9 1737.7,304.6 1738.2,304.7 1738.7,304.8 1739.3,304.9 1739.8,304.6 1740.3,304.6 1740.8,304.5 1741.3,304.4 1741.9,304.9 1742.4,304.7 1742.9,304.8 1743.4,304.9 1743.9,304.7 1744.5,304.8 1745.0,304.5 1745.5,304.6 1746.0,304.8 1746.5,305.0 1747.1,304.9 1747.6,304.6 1748.1,304.6 1748.6,304.9 1749.2,304.8 1749.7,304.9 1750.2,304.8 1750.7,305.0 1751.2,304.8 1751.8,305.0 1752.3,304.9 1752.8,304.8 1753.3,304.5 1753.8,304.8 1754.4,304.9 1754.9,304.8 1755.4,304.6 1755.9,304.4 1756.4,304.7 1757.0,305.1 1757.5,304.5 1758.0,304.7 1758.5,304.8 1759.1,304.9 1759.6,304.6 1760.1,304.8 1760.6,304.8 1761.1,304.5 1761.7,304.8 1762.2,304.6 1762.7,304.8 1763.2,304.9 1763.7,304.8 1764.3,304.5 1764.8,304.9 1765.3,304.9 1765.8,304.8 1766.3,304.9 1766.9,304.7 1767.4,304.6 1767.9,304.7 1768.4,304.8 1768.9,304.9 1769.5,304.6 1770.0,304.8 1770.5,304.8 1771.0,304.7 1771.6,304.4 1772.1,304.4 1772.6,304.9 1773.1,304.4 1773.6,304.4 1774.2,304.5 1774.7,304.7 1775.2,305.0 1775.7,304.8 1776.2,304.6 1776.8,304.7 1777.3,304.8 1777.8,304.7 1778.3,304.4 1778.8,305.0 1779.4,304.9 1779.9,304.5 1780.4,304.7 1780.9,304.8 1781.4,304.8 1782.0,304.7 1782.5,304.7 1783.0,305.1 1783.5,304.7 1784.1,304.9 1784.6,304.8 1785.1,304.5 1785.6,304.8 1786.1,304.8 1786.7,304.9 1787.2,305.0 1787.7,304.9 1788.2,304.8 1788.7,304.8 1789.3,304.9 1789.8,304.5 1790.3,304.5 1790.8,304.8 1791.3,304.5 1791.9,304.6 1792.4,305.0 1792.9,304.8 1793.4,304.9 1793.9,304.6 1794.5,304.8 1795.0,304.4 1795.5,304.4 1796.0,304.5 1796.6,304.4 1797.1,304.7 1797.6,304.4 1798.1,304.2 1798.6,304.5 1799.2,304.4 1799.7,304.4 1800.2,303.8 1800.7,303.6 1801.2,303.1 1801.8,303.3 1802.3,302.8 1802.8,302.2 1803.3,302.1 1803.8,301.2 1804.4,300.7 1804.9,300.2 1805.4,299.8 1805.9,299.8 1806.4,299.8 1807.0,299.9 1807.5,300.0 1808.0,300.3 1808.5,300.7 1809.1,301.0 1809.6,301.1 1810.1,301.3 1810.6,301.4 1811.1,301.4 1811.7,301.5 1812.2,301.9 1812.7,302.5 1813.2,302.6 1813.7,302.8 1814.3,303.0 1814.8,303.3 1815.3,303.9 1815.8,303.6 1816.3,304.4 1816.9,304.2 1817.4,304.3 1817.9,304.3 1818.4,304.6 1819.0,304.7 1819.5,304.4 1820.0,304.9 1820.5,304.6 1821.0,304.3 1821.6,304.7 1822.1,304.7 1822.6,304.7 1823.1,304.8 1823.6,304.9 1824.2,304.4 1824.7,304.6 1825.2,304.7 1825.7,304.7 1826.2,304.4 1826.8,304.8 1827.3,304.7 1827.8,305.1 1828.3,304.6 1828.8,304.6 1829.4,304.8 1829.9,304.7 1830.4,304.9 1830.9,305.0 1831.5,304.6 1832.0,304.8 1832.5,304.9 1833.0,304.6 1833.5,305.2 1834.1,304.8 1834.6,304.8 1835.1,304.5 1835.6,304.6 1836.1,304.4 1836.7,304.9 1837.2,304.6 1837.7,304.8 1838.2,304.8 1838.7,304.8 1839.3,304.7 1839.8,304.9 1840.3,304.5 1840.8,304.4 1841.3,304.5 1841.9,304.9 1842.4,305.0 1842.9,304.6 1843.4,304.7 1844.0,304.8 1844.5,304.5 1845.0,304.7 1845.5,304.5 1846.0,304.8 1846.6,304.2 1847.1,304.5 1847.6,304.4 1848.1,304.7 1848.6,304.9 1849.2,304.8 1849.7,305.2 1850.2,304.8 1850.7,304.6 1851.2,304.7 1851.8,304.9 1852.3,304.9 1852.8,305.2 1853.3,304.8 1853.8,304.6 1854.4,304.6 1854.9,304.9 1855.4,304.2 1855.9,304.8 1856.5,304.9 1857.0,304.7 1857.5,304.8 1858.0,305.0 1858.5,305.1 1859.1,305.0 1859.6,305.0 1860.1,304.7"/>
</defs>
<g id="curves" fill="none" stroke-linejoin="round">
<use href="#c0" stroke="#000" stroke-width="3.4" stroke-opacity="0.25"/>
<use href="#c0" stroke="#000" stroke-width="1.6"/>
<use href="#c1" stroke="#ff2020" stroke-width="3.8" stroke-opacity="0.3"/>
<use href="#c1" stroke="#ee1414" stroke-width="1.5"/>
<use href="#c2" stroke="#3030ff" stroke-width="3.8" stroke-opacity="0.3"/>
<use href="#c2" stroke="#2020d8" stroke-width="1.5"/>
<use href="#c3" stroke="#00a0a0" stroke-width="3.8" stroke-opacity="0.3"/>
<use href="#c3" stroke="#008585" stroke-width="1.5"/>
<use href="#c4" stroke="#ff40ff" stroke-width="3.8" stroke-opacity="0.3"/>
<use href="#c4" stroke="#e030c8" stroke-width="1.5"/>
</g>
<clipPath id="plotclip"><rect x="193.2" y="1043.1" width="1666.8999999999999" height="222.80000000000018"/></clipPath>
<g id="sticks" clip-path="url(#plotclip)">
<line x1="367.8" y1="1230.6" x2="367.8" y2="1264.9" stroke="#6a6a6a" stroke-width="2"/>
<line x1="615.6" y1="1213.9" x2="615.6" y2="1264.9" stroke="#6a6a6a" stroke-width="2"/>
<line x1="728.3" y1="1095.9" x2="728.3" y2="1264.9" stroke="#8c8c8c" stroke-width="2.6"/>
<line x1="761.7" y1="1251.7" x2="761.7" y2="1264.9" stroke="#6a6a6a" stroke-width="2"/>
<line x1="887.9" y1="1222.7" x2="887.9" y2="1264.9" stroke="#6a6a6a" stroke-width="2"/>
<line x1="974.4" y1="1258.0" x2="974.4" y2="1264.9" stroke="#6a6a6a" stroke-width="2"/>
<line x1="1105.7" y1="1251.5" x2="1105.7" y2="1264.9" stroke="#6a6a6a" stroke-width="2"/>
<line x1="1179.8" y1="1214.2" x2="1179.8" y2="1264.9" stroke="#6a6a6a" stroke-width="2"/>
<line x1="1295.7" y1="1197.5" x2="1295.7" y2="1264.9" stroke="#8c8c8c" stroke-width="2.6"/>
<line x1="1364.2" y1="1261.8" x2="1364.2" y2="1264.9" stroke="#6a6a6a" stroke-width="2"/>
<line x1="1473.6" y1="1255.2" x2="1473.6" y2="1264.9" stroke="#6a6a6a" stroke-width="2"/>
<line x1="1539.9" y1="1248.3" x2="1539.9" y2="1264.9" stroke="#6a6a6a" stroke-width="2"/>
<line x1="1559.2" y1="1258.4" x2="1559.2" y2="1264.9" stroke="#6a6a6a" stroke-width="2"/>
<line x1="1642.4" y1="1255.2" x2="1642.4" y2="1264.9" stroke="#6a6a6a" stroke-width="2"/>
<rect x="356.8" y="1219.6" width="22" height="22" fill="#000"/>
<rect x="604.6" y="1202.9" width="22" height="22" fill="#000"/>
<rect x="717.3" y="1084.9" width="22" height="22" fill="#000"/>
<rect x="750.7" y="1240.7" width="22" height="22" fill="#000"/>
<rect x="876.9" y="1211.7" width="22" height="22" fill="#000"/>
<rect x="963.4" y="1247.0" width="22" height="22" fill="#000"/>
<rect x="1094.7" y="1240.5" width="22" height="22" fill="#000"/>
<rect x="1168.8" y="1203.2" width="22" height="22" fill="#000"/>
<rect x="1284.7" y="1186.5" width="22" height="22" fill="#000"/>
<rect x="1353.2" y="1250.8" width="22" height="22" fill="#000"/>
<rect x="1462.6" y="1244.2" width="22" height="22" fill="#000"/>
<rect x="1528.9" y="1237.3" width="22" height="22" fill="#000"/>
<rect x="1548.2" y="1247.4" width="22" height="22" fill="#000"/>
<rect x="1631.4" y="1244.2" width="22" height="22" fill="#000"/>
</g>
<g id="frame-shade" stroke="#b2b2b2" stroke-width="1.8" fill="none">
<line x1="196.0" y1="32.0" x2="196.0" y2="1262.9"/>
<line x1="1857.3" y1="32.0" x2="1857.3" y2="1262.9"/>
<line x1="195.2" y1="32.8" x2="1858.1" y2="32.8"/>
<line x1="195.2" y1="1045.8999999999999" x2="1858.1" y2="1045.8999999999999" stroke="#c4c4c4"/>
</g>
<g id="frame" stroke="#000" fill="none" stroke-width="4.0">
<rect x="193.2" y="30.0" width="1666.8999999999999" height="1234.9"/>
<line x1="193.2" y1="1043.1" x2="1860.1" y2="1043.1"/>
<line x1="193.2" y1="1264.9" x2="193.2" y2="1288.8" stroke-width="4.2"/>
<line x1="297.5" y1="1264.9" x2="297.5" y2="1277.6" stroke-width="4.2"/>
<line x1="401.7" y1="1264.9" x2="401.7" y2="1288.8" stroke-width="4.2"/>
<line x1="505.8" y1="1264.9" x2="505.8" y2="1277.6" stroke-width="4.2"/>
<line x1="610.0" y1="1264.9" x2="610.0" y2="1288.8" stroke-width="4.2"/>
<line x1="714.2" y1="1264.9" x2="714.2" y2="1277.6" stroke-width="4.2"/>
<line x1="818.4" y1="1264.9" x2="818.4" y2="1288.8" stroke-width="4.2"/>
<line x1="922.5" y1="1264.9" x2="922.5" y2="1277.6" stroke-width="4.2"/>
<line x1="1026.7" y1="1264.9" x2="1026.7" y2="1288.8" stroke-width="4.2"/>
<line x1="1130.9" y1="1264.9" x2="1130.9" y2="1277.6" stroke-width="4.2"/>
<line x1="1235.0" y1="1264.9" x2="1235.0" y2="1288.8" stroke-width="4.2"/>
<line x1="1339.2" y1="1264.9" x2="1339.2" y2="1277.6" stroke-width="4.2"/>
<line x1="1443.4" y1="1264.9" x2="1443.4" y2="1288.8" stroke-width="4.2"/>
<line x1="1547.6" y1="1264.9" x2="1547.6" y2="1277.6" stroke-width="4.2"/>
<line x1="1651.8" y1="1264.9" x2="1651.8" y2="1288.8" stroke-width="4.2"/>
<line x1="1755.9" y1="1264.9" x2="1755.9" y2="1277.6" stroke-width="4.2"/>
<line x1="1860.1" y1="1264.9" x2="1860.1" y2="1288.8" stroke-width="4.2"/>
</g>
<g id="text" style="font-family:'Liberation Sans',Arial,sans-serif" fill="#000">
<text transform="translate(192.4,1349.3) scale(1,1.04)" font-size="59.5" text-anchor="middle">10</text>
<text transform="translate(400.8,1349.3) scale(1,1.04)" font-size="59.5" text-anchor="middle">20</text>
<text transform="translate(609.1,1349.3) scale(1,1.04)" font-size="59.5" text-anchor="middle">30</text>
<text transform="translate(817.5,1349.3) scale(1,1.04)" font-size="59.5" text-anchor="middle">40</text>
<text transform="translate(1025.8,1349.3) scale(1,1.04)" font-size="59.5" text-anchor="middle">50</text>
<text transform="translate(1234.1,1349.3) scale(1,1.04)" font-size="59.5" text-anchor="middle">60</text>
<text transform="translate(1442.5,1349.3) scale(1,1.04)" font-size="59.5" text-anchor="middle">70</text>
<text transform="translate(1650.8,1349.3) scale(1,1.04)" font-size="59.5" text-anchor="middle">80</text>
<text transform="translate(1859.2,1349.3) scale(1,1.04)" font-size="59.5" text-anchor="middle">90</text>
<text transform="translate(1443.3,268.0) scale(1,1.04)" font-size="59.3">NiFe<tspan font-size="36" dy="22.3">2</tspan><tspan dy="-22.3">O</tspan><tspan font-size="36" dy="22.3">4</tspan><tspan dy="-22.3">/CCF-4</tspan></text>
<text transform="translate(1446.6,502.7) scale(1,1.04)" font-size="59.3">NiFe<tspan font-size="36" dy="22.3">2</tspan><tspan dy="-22.3">O</tspan><tspan font-size="36" dy="22.3">4</tspan><tspan dy="-22.3">/CCF-3</tspan></text>
<text transform="translate(1442.3,701.3) scale(1,1.04)" font-size="59.3">NiFe<tspan font-size="36" dy="22.3">2</tspan><tspan dy="-22.3">O</tspan><tspan font-size="36" dy="22.3">4</tspan><tspan dy="-22.3">/CCF-2</tspan></text>
<text transform="translate(1441.8,874.7) scale(1,1.04)" font-size="59.3">NiFe<tspan font-size="36" dy="22.3">2</tspan><tspan dy="-22.3">O</tspan><tspan font-size="36" dy="22.3">4</tspan><tspan dy="-22.3">/CCF-1</tspan></text>
<text transform="translate(1440,1016.3) scale(1,1.04)" font-size="59.3">CCF</text>
<text transform="translate(1141.2,1114.3) scale(1,1.04)" font-size="59.3">NiFe<tspan font-size="36" dy="22.3">2</tspan><tspan dy="-22.3">O</tspan><tspan font-size="36" dy="22.3">4</tspan><tspan dy="-22.3"><tspan dx="1.5" letter-spacing="0.12"> (JCPDS 10-0325)</tspan></tspan></text>
<text transform="translate(853.5,1462) scale(1,1.02)" font-size="69">2</text>
<text transform="translate(896,1462) scale(1.28,1)" font-size="59" style="font-family:'Liberation Serif',serif;font-style:italic">θ</text>
<text x="940.2" y="1462" font-size="69">(degree)</text>
<text transform="translate(88.5,872) rotate(-90)" font-size="69">Intensity (a.u)</text>
</g>
</svg>
</body></html>
